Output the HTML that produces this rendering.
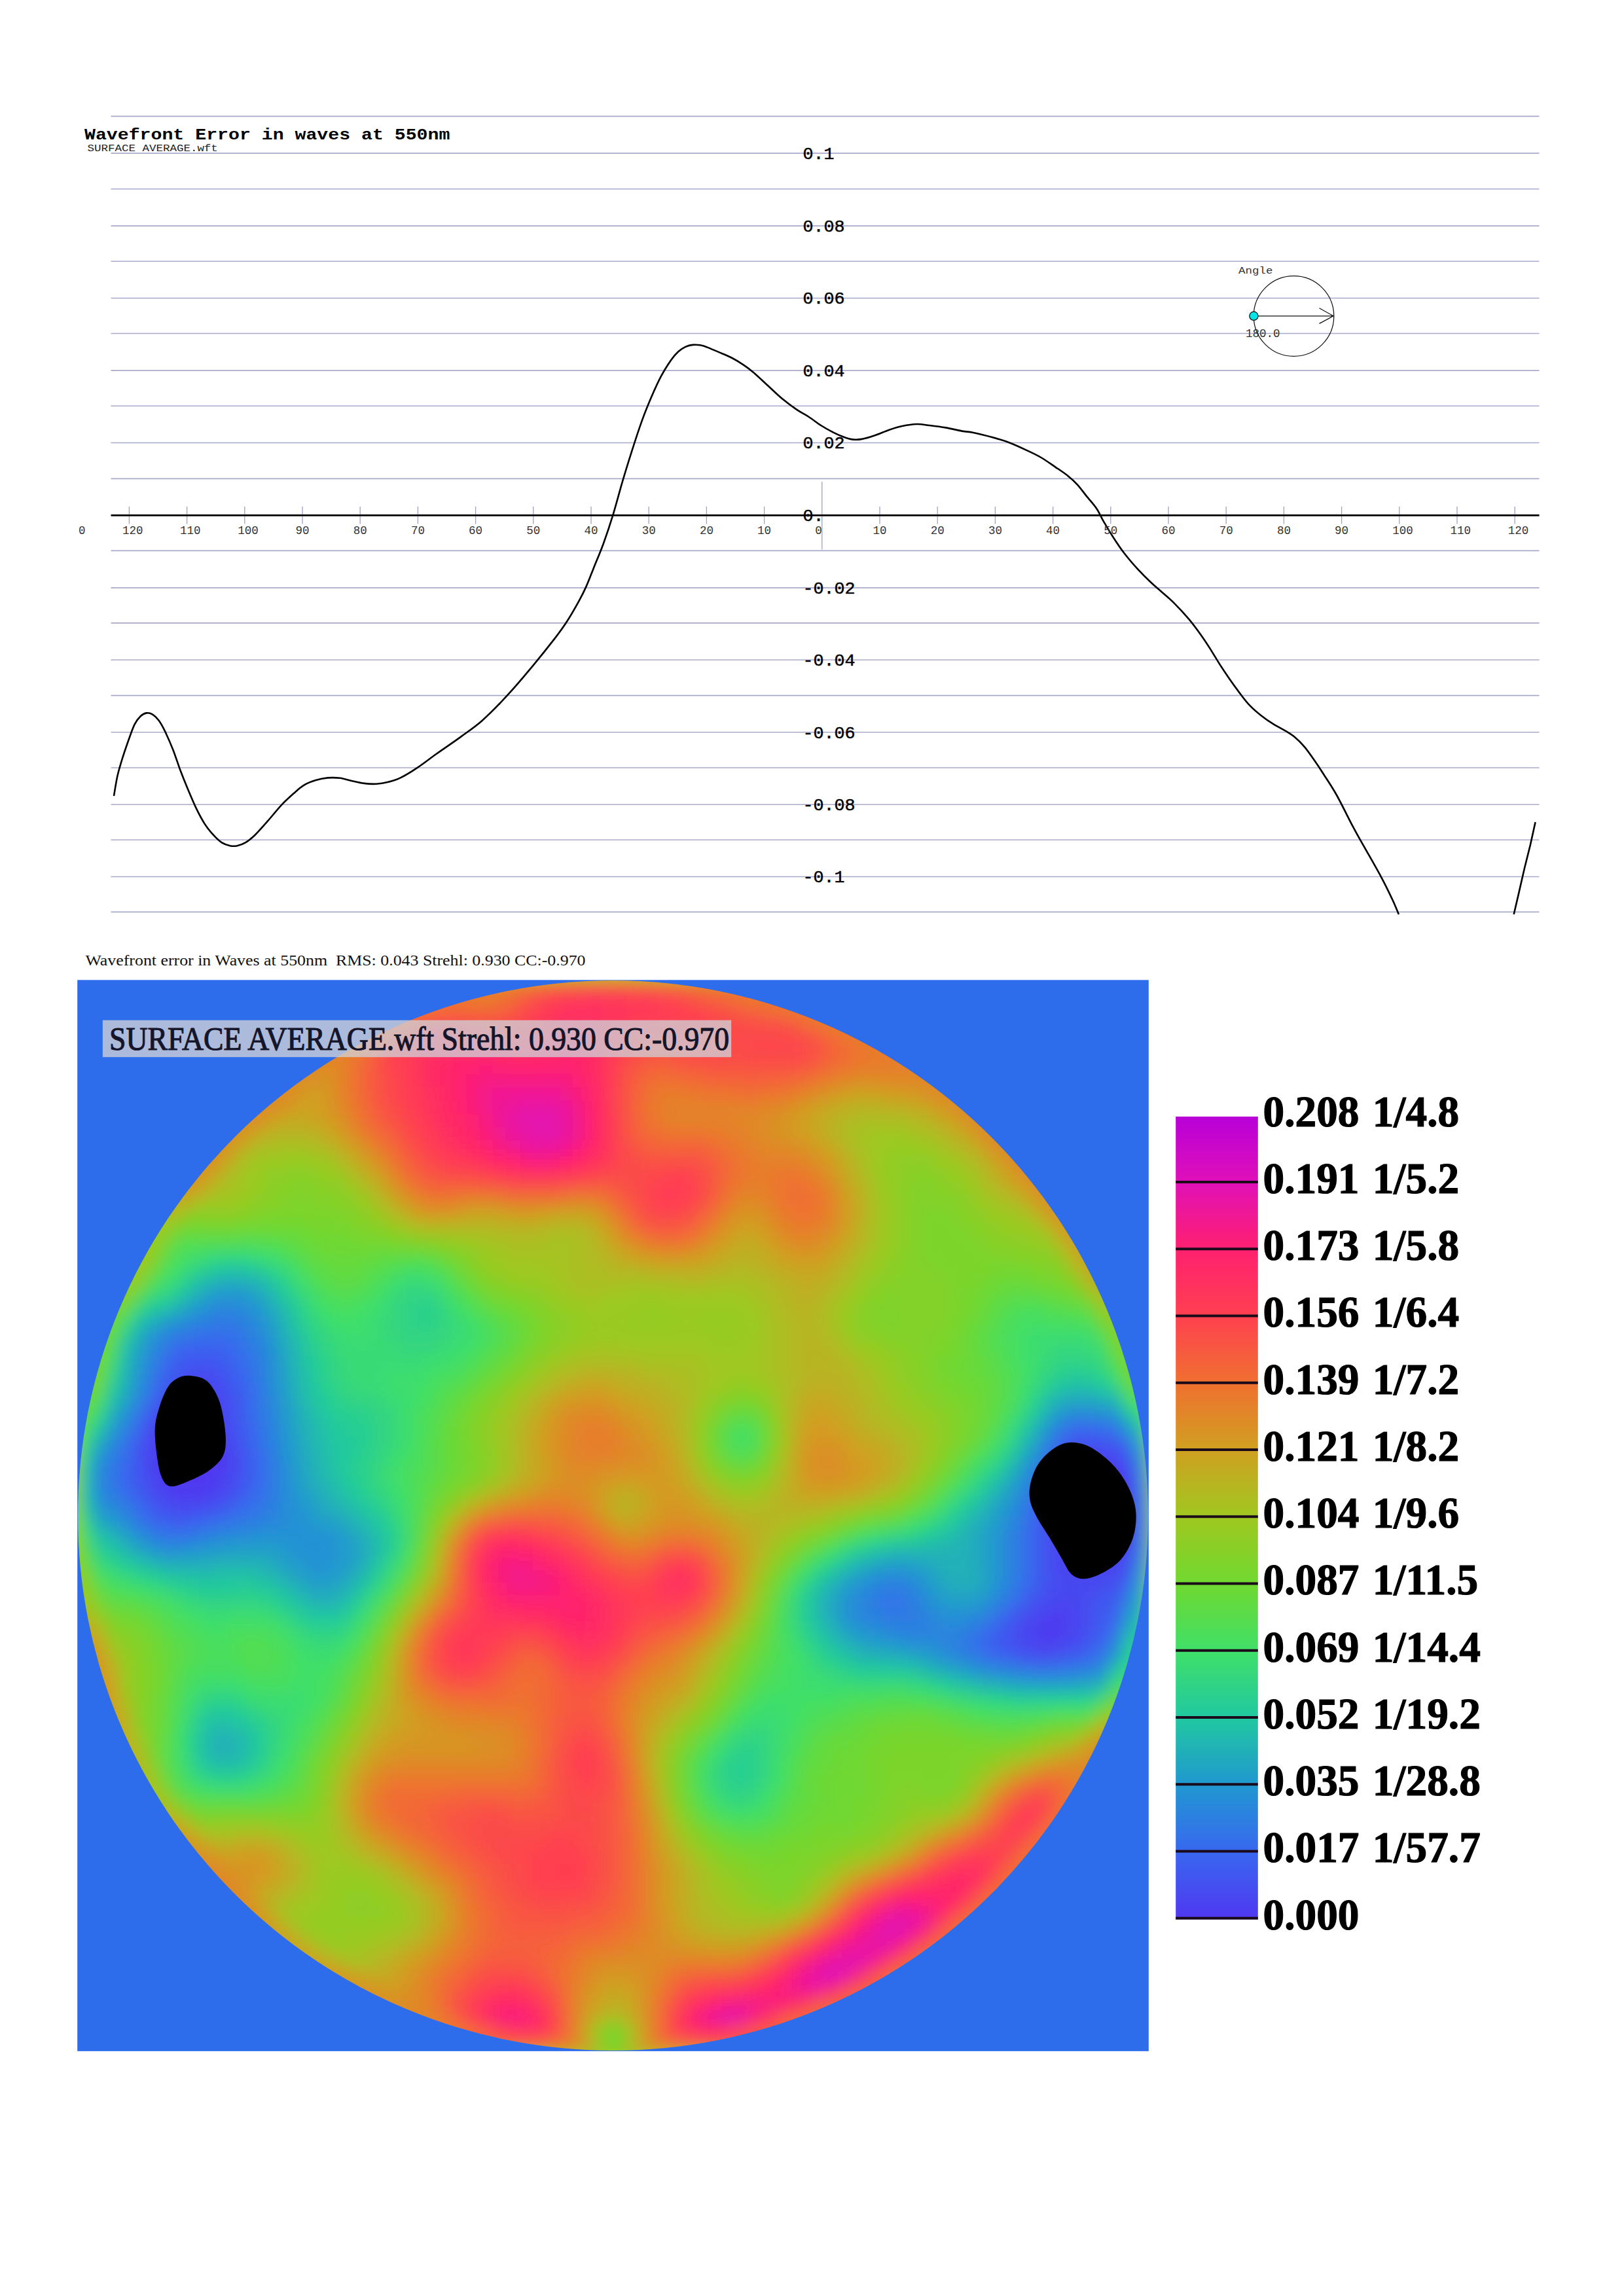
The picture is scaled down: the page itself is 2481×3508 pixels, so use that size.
<!DOCTYPE html>
<html><head><meta charset="utf-8"><title>Wavefront Error</title>
<style>html,body{margin:0;padding:0;background:#fff}svg{display:block}</style></head>
<body>
<svg width="2481" height="3508" viewBox="0 0 2481 3508">
<rect width="2481" height="3508" fill="#fff"/>
<g stroke="#a9a9cc" stroke-width="1.6" fill="none">
<path d="M169.5 177.6H2351.5"/>
<path d="M169.5 234.1H2351.5"/>
<path d="M169.5 288.8H2351.5"/>
<path d="M169.5 345.1H2351.5"/>
<path d="M169.5 399.2H2351.5"/>
<path d="M169.5 455.5H2351.5"/>
<path d="M169.5 509.5H2351.5"/>
<path d="M169.5 566.1H2351.5"/>
<path d="M169.5 620.2H2351.5"/>
<path d="M169.5 676.5H2351.5"/>
<path d="M169.5 731.4H2351.5"/>
<path d="M169.5 841.4H2351.5"/>
<path d="M169.5 898.1H2351.5"/>
<path d="M169.5 951.9H2351.5"/>
<path d="M169.5 1008.3H2351.5"/>
<path d="M169.5 1062.6H2351.5"/>
<path d="M169.5 1118.8H2351.5"/>
<path d="M169.5 1173.0H2351.5"/>
<path d="M169.5 1229.3H2351.5"/>
<path d="M169.5 1283.2H2351.5"/>
<path d="M169.5 1339.5H2351.5"/>
<path d="M169.5 1393.4H2351.5"/>
</g>
<g stroke="#a0a0c4" stroke-width="1.3" fill="none">
<path d="M197.4 774V800.5"/>
<path d="M285.6 774V800.5"/>
<path d="M373.8 774V800.5"/>
<path d="M462.0 774V800.5"/>
<path d="M550.2 774V800.5"/>
<path d="M638.4 774V800.5"/>
<path d="M726.6 774V800.5"/>
<path d="M814.8 774V800.5"/>
<path d="M903.0 774V800.5"/>
<path d="M991.2 774V800.5"/>
<path d="M1079.4 774V800.5"/>
<path d="M1167.6 774V800.5"/>
<path d="M1344.0 774V800.5"/>
<path d="M1432.2 774V800.5"/>
<path d="M1520.4 774V800.5"/>
<path d="M1608.6 774V800.5"/>
<path d="M1696.8 774V800.5"/>
<path d="M1785.0 774V800.5"/>
<path d="M1873.2 774V800.5"/>
<path d="M1961.4 774V800.5"/>
<path d="M2049.6 774V800.5"/>
<path d="M2137.8 774V800.5"/>
<path d="M2226.0 774V800.5"/>
<path d="M2314.2 774V800.5"/>
<path d="M1255.8 736V839.5"/>
</g>
<path d="M169.5 787.4H2351.5" stroke="#000" stroke-width="2.6" fill="none"/>
<path d="M174.0 1216.1C174.9 1210.9 177.4 1194.2 179.6 1184.7C181.8 1175.2 184.4 1166.9 186.9 1158.9C189.4 1150.9 191.2 1145.3 194.3 1136.7C197.4 1128.1 202.0 1114.2 205.4 1107.1C208.8 1100.0 211.6 1097.2 214.7 1094.2C217.8 1091.2 220.8 1089.8 223.9 1089.4C227.0 1089.0 230.0 1089.8 233.1 1091.6C236.2 1093.4 239.3 1096.4 242.4 1100.5C245.5 1104.6 247.9 1108.8 251.6 1116.4C255.3 1124.0 260.5 1135.8 264.5 1145.9C268.5 1156.1 271.9 1167.5 275.6 1177.3C279.3 1187.1 282.7 1195.5 286.7 1205.0C290.7 1214.5 295.3 1225.7 299.6 1234.6C303.9 1243.5 308.3 1251.8 312.6 1258.6C316.9 1265.4 321.2 1270.5 325.5 1275.2C329.8 1280.0 334.1 1284.3 338.4 1287.1C342.7 1289.9 347.4 1291.3 351.4 1292.2C355.4 1293.1 358.4 1293.1 362.4 1292.2C366.4 1291.3 370.8 1289.9 375.4 1287.1C380.0 1284.3 384.6 1280.6 390.1 1275.2C395.6 1269.8 401.8 1262.6 408.6 1254.9C415.4 1247.2 424.0 1236.3 430.8 1229.1C437.6 1221.9 443.8 1216.6 449.3 1211.7C454.8 1206.8 458.5 1203.2 464.0 1199.9C469.5 1196.6 476.3 1194.0 482.5 1192.1C488.7 1190.2 494.9 1189.0 501.0 1188.4C507.1 1187.9 513.2 1188.0 519.4 1188.8C525.5 1189.6 531.7 1191.8 537.9 1193.2C544.1 1194.6 550.2 1196.2 556.4 1196.9C562.6 1197.7 568.8 1198.1 574.9 1197.7C581.0 1197.3 587.1 1196.2 593.3 1194.7C599.4 1193.2 604.4 1192.0 611.8 1188.4C619.2 1184.8 628.5 1179.1 637.7 1172.9C646.9 1166.8 656.1 1159.4 667.2 1151.5C678.3 1143.6 692.6 1134.1 704.2 1125.6C715.8 1117.1 725.3 1111.0 736.9 1100.7C748.5 1090.4 761.6 1077.0 773.9 1063.7C786.2 1050.5 798.5 1036.0 810.8 1021.2C823.1 1006.4 838.5 987.1 847.8 975.1C857.0 963.1 860.1 958.8 866.3 949.2C872.4 939.7 879.8 926.7 884.7 917.8C889.6 908.9 892.1 903.9 895.8 895.6C899.5 887.3 902.6 878.7 906.9 867.9C911.2 857.1 916.8 844.5 921.7 831.0C926.6 817.5 931.6 802.6 936.5 786.6C941.4 770.6 946.3 751.5 951.2 734.9C956.1 718.3 961.1 702.3 966.0 686.9C970.9 671.5 975.9 656.1 980.8 642.6C985.7 629.1 990.7 617.0 995.6 605.6C1000.5 594.2 1005.4 583.4 1010.3 574.2C1015.2 565.0 1020.8 556.4 1025.1 550.2C1029.4 544.1 1032.5 540.7 1036.2 537.3C1039.9 533.9 1043.6 531.6 1047.3 529.9C1051.0 528.2 1054.7 527.3 1058.4 526.9C1062.1 526.5 1065.8 526.7 1069.5 527.3C1073.2 527.9 1075.6 528.8 1080.5 530.6C1085.4 532.5 1092.8 535.8 1099.0 538.4C1105.2 541.0 1111.3 543.3 1117.5 546.5C1123.7 549.7 1130.5 553.9 1136.0 557.6C1141.5 561.3 1144.5 563.5 1150.7 568.7C1156.9 573.9 1165.5 582.2 1172.9 589.0C1180.3 595.8 1187.7 603.1 1195.1 609.3C1202.5 615.4 1210.4 621.3 1217.2 625.9C1224.0 630.5 1229.5 633.0 1235.7 637.0C1241.9 641.0 1248.1 646.1 1254.2 650.0C1260.3 653.9 1266.9 657.5 1272.4 660.3C1277.9 663.1 1282.3 665.1 1287.2 667.0C1292.1 668.9 1297.1 670.8 1302.0 671.4C1306.9 672.0 1311.0 671.9 1316.7 670.9C1322.5 669.9 1329.5 667.7 1336.5 665.3C1343.5 662.9 1351.6 659.1 1358.6 656.7C1365.6 654.3 1371.3 652.5 1378.3 651.0C1385.3 649.5 1393.5 648.2 1400.5 648.0C1407.5 647.8 1412.8 649.1 1420.2 650.0C1427.6 650.9 1436.6 652.0 1444.8 653.4C1453.0 654.8 1462.5 657.3 1469.5 658.6C1476.5 659.9 1479.1 659.4 1486.9 661.0C1494.7 662.6 1507.2 665.7 1516.5 668.3C1525.8 670.9 1533.8 673.2 1542.4 676.5C1551.0 679.8 1560.2 684.1 1568.2 687.9C1576.2 691.6 1583.0 694.7 1590.4 699.0C1597.8 703.3 1605.8 709.2 1612.6 713.8C1619.4 718.4 1625.5 722.3 1631.0 726.7C1636.5 731.1 1640.9 735.0 1645.8 740.4C1650.7 745.8 1655.7 752.8 1660.6 758.9C1665.5 765.0 1671.1 770.8 1675.4 777.3C1679.7 783.8 1682.2 790.3 1686.5 797.7C1690.8 805.1 1696.0 813.7 1701.2 821.7C1706.4 829.7 1711.7 837.7 1717.9 845.7C1724.1 853.7 1731.8 862.6 1738.2 869.7C1744.7 876.8 1750.4 882.4 1756.6 888.2C1762.8 894.1 1768.9 899.3 1775.1 904.8C1781.3 910.3 1786.8 914.6 1793.6 921.4C1800.4 928.2 1809.0 937.4 1815.8 945.4C1822.6 953.4 1828.7 961.8 1834.2 969.5C1839.7 977.2 1844.1 983.9 1849.0 991.6C1853.9 999.3 1858.9 1007.9 1863.8 1015.6C1868.7 1023.3 1873.7 1030.7 1878.6 1037.8C1883.5 1044.9 1888.4 1051.6 1893.3 1058.1C1898.2 1064.6 1902.5 1070.8 1908.1 1076.6C1913.6 1082.4 1920.4 1088.3 1926.6 1093.2C1932.8 1098.1 1938.9 1102.3 1945.1 1106.2C1951.2 1110.1 1958.0 1113.1 1963.5 1116.5C1969.0 1119.9 1973.4 1122.4 1978.3 1126.5C1983.2 1130.6 1988.2 1135.5 1993.1 1141.3C1998.0 1147.1 2003.0 1154.5 2007.9 1161.6C2012.8 1168.7 2016.8 1174.7 2022.6 1183.7C2028.3 1192.7 2035.0 1202.2 2042.4 1215.5C2049.8 1228.8 2060.3 1250.6 2067.0 1263.2C2073.7 1275.8 2075.2 1278.1 2082.4 1290.9C2089.6 1303.7 2102.7 1326.2 2110.1 1340.1C2117.5 1353.9 2122.5 1364.5 2127.0 1374.0C2131.5 1383.5 2135.2 1393.2 2136.9 1397.1" stroke="#000" stroke-width="2.6" fill="none" stroke-linejoin="round"/>
<path d="M2312.7 1397.0 L2319.5 1367.9 L2328.7 1327.8 L2337.9 1290.9 L2345.6 1256.1" stroke="#000" stroke-width="2.6" fill="none" stroke-linejoin="round"/>
<text transform="translate(129 212.6) scale(1 0.86)" font-family="Liberation Mono, monospace" font-size="28.2" font-weight="bold">Wavefront Error in waves at 550nm</text>
<text transform="translate(133.5 230.8) scale(1 0.88)" font-family="Liberation Mono, monospace" font-size="17.5" fill="#222">SURFACE AVERAGE.wft</text>
<g font-family="Liberation Mono, monospace" font-size="26.7" stroke="#000" stroke-width="0.5">
<text x="1226.5" y="242.9">0.1</text>
<text x="1226.5" y="353.9">0.08</text>
<text x="1226.5" y="464.3">0.06</text>
<text x="1226.5" y="574.9">0.04</text>
<text x="1226.5" y="685.3">0.02</text>
<text x="1226.5" y="796.2">0.</text>
<text x="1226.5" y="906.9">-0.02</text>
<text x="1226.5" y="1017.1">-0.04</text>
<text x="1226.5" y="1127.6">-0.06</text>
<text x="1226.5" y="1238.1">-0.08</text>
<text x="1226.5" y="1348.3">-0.1</text>
</g>
<g font-family="Liberation Mono, monospace" font-size="17.5" fill="#333">
<text x="186.9" y="815.5">120</text>
<text x="275.1" y="815.5">110</text>
<text x="363.3" y="815.5">100</text>
<text x="451.5" y="815.5">90</text>
<text x="539.7" y="815.5">80</text>
<text x="627.9" y="815.5">70</text>
<text x="716.1" y="815.5">60</text>
<text x="804.3" y="815.5">50</text>
<text x="892.5" y="815.5">40</text>
<text x="980.7" y="815.5">30</text>
<text x="1068.9" y="815.5">20</text>
<text x="1157.1" y="815.5">10</text>
<text x="1245.3" y="815.5">0</text>
<text x="1333.5" y="815.5">10</text>
<text x="1421.7" y="815.5">20</text>
<text x="1509.9" y="815.5">30</text>
<text x="1598.1" y="815.5">40</text>
<text x="1686.3" y="815.5">50</text>
<text x="1774.5" y="815.5">60</text>
<text x="1862.7" y="815.5">70</text>
<text x="1950.9" y="815.5">80</text>
<text x="2039.1" y="815.5">90</text>
<text x="2127.3" y="815.5">100</text>
<text x="2215.5" y="815.5">110</text>
<text x="2303.7" y="815.5">120</text>
<text x="120" y="815.5">0</text>
<text transform="translate(1892 417.8) scale(1 0.88)">Angle</text>
<text x="1903" y="515">180.0</text>
</g>
<g stroke="#111" stroke-width="1.25" fill="none">
<circle cx="1976.5" cy="483" r="61.3"/>
<path d="M1915.4 482.8H2037M2015.5 470.8L2037 482.8L2015.5 494.4"/>
<circle cx="1915.4" cy="482.8" r="6.6" fill="#00e6e6"/>
</g>
<text x="130.5" y="1475.2" font-family="Liberation Serif, serif" font-size="24" fill="#111" textLength="764" lengthAdjust="spacingAndGlyphs" style="white-space:pre">Wavefront error in Waves at 550nm  RMS: 0.043 Strehl: 0.930 CC:-0.970</text>
<rect x="118.2" y="1497.3" width="1636.6" height="1636.6" fill="#2d6deb"/>
<defs><clipPath id="cc"><circle cx="936.5" cy="2315.5" r="817.5"/></clipPath>
<filter id="bl" x="-5%" y="-5%" width="110%" height="110%"><feGaussianBlur stdDeviation="12"/></filter></defs>
<g clip-path="url(#cc)"><g filter="url(#bl)">
<rect x="58.2" y="1437.3" width="1756.6" height="1756.6" fill="#a0c820"/>
<path fill="#5038f0" d="M261.4 2151.9h21.1v21.1h-21.1zM281.9 2151.9h21.1v21.1h-21.1zM302.3 2151.9h21.1v21.1h-21.1zM240.9 2172.4h21.1v21.1h-21.1zM261.4 2172.4h21.1v21.1h-21.1zM281.9 2172.4h21.1v21.1h-21.1zM302.3 2172.4h21.1v21.1h-21.1zM240.9 2192.9h21.1v21.1h-21.1zM261.4 2192.9h21.1v21.1h-21.1zM281.9 2192.9h21.1v21.1h-21.1zM302.3 2192.9h21.1v21.1h-21.1zM240.9 2213.3h21.1v21.1h-21.1zM261.4 2213.3h21.1v21.1h-21.1zM281.9 2213.3h21.1v21.1h-21.1zM302.3 2213.3h21.1v21.1h-21.1zM322.8 2213.3h21.1v21.1h-21.1zM240.9 2233.8h21.1v21.1h-21.1zM261.4 2233.8h21.1v21.1h-21.1zM281.9 2233.8h21.1v21.1h-21.1zM302.3 2233.8h21.1v21.1h-21.1zM322.8 2233.8h21.1v21.1h-21.1zM1652.5 2233.8h21.1v21.1h-21.1zM1673.0 2233.8h21.1v21.1h-21.1zM240.9 2254.2h21.1v21.1h-21.1zM261.4 2254.2h21.1v21.1h-21.1zM281.9 2254.2h21.1v21.1h-21.1zM302.3 2254.2h21.1v21.1h-21.1zM1632.1 2254.2h21.1v21.1h-21.1zM1652.5 2254.2h21.1v21.1h-21.1zM1673.0 2254.2h21.1v21.1h-21.1zM1693.4 2254.2h21.1v21.1h-21.1zM1632.1 2274.7h21.1v21.1h-21.1zM1652.5 2274.7h21.1v21.1h-21.1zM1673.0 2274.7h21.1v21.1h-21.1zM1693.4 2274.7h21.1v21.1h-21.1zM1713.9 2274.7h21.1v21.1h-21.1zM1632.1 2295.1h21.1v21.1h-21.1zM1652.5 2295.1h21.1v21.1h-21.1zM1673.0 2295.1h21.1v21.1h-21.1zM1693.4 2295.1h21.1v21.1h-21.1zM1713.9 2295.1h21.1v21.1h-21.1zM1632.1 2315.6h21.1v21.1h-21.1zM1652.5 2315.6h21.1v21.1h-21.1zM1673.0 2315.6h21.1v21.1h-21.1zM1693.4 2315.6h21.1v21.1h-21.1zM1713.9 2315.6h21.1v21.1h-21.1zM1632.1 2336.1h21.1v21.1h-21.1zM1652.5 2336.1h21.1v21.1h-21.1zM1673.0 2336.1h21.1v21.1h-21.1zM1693.4 2336.1h21.1v21.1h-21.1zM1713.9 2336.1h21.1v21.1h-21.1zM1632.1 2356.5h21.1v21.1h-21.1zM1652.5 2356.5h21.1v21.1h-21.1zM1673.0 2356.5h21.1v21.1h-21.1zM1693.4 2356.5h21.1v21.1h-21.1zM1591.1 2479.3h21.1v21.1h-21.1z"/>
<path fill="#4d3ef0" d="M261.4 2131.5h21.1v21.1h-21.1zM281.9 2131.5h21.1v21.1h-21.1zM302.3 2131.5h21.1v21.1h-21.1zM322.8 2172.4h21.1v21.1h-21.1zM322.8 2192.9h21.1v21.1h-21.1zM220.5 2213.3h21.1v21.1h-21.1zM1632.1 2233.8h21.1v21.1h-21.1zM1693.4 2233.8h21.1v21.1h-21.1zM322.8 2254.2h21.1v21.1h-21.1zM1713.9 2254.2h21.1v21.1h-21.1zM261.4 2274.7h21.1v21.1h-21.1zM281.9 2274.7h21.1v21.1h-21.1zM302.3 2274.7h21.1v21.1h-21.1zM1611.6 2295.1h21.1v21.1h-21.1zM1611.6 2315.6h21.1v21.1h-21.1zM1611.6 2336.1h21.1v21.1h-21.1zM1632.1 2377.0h21.1v21.1h-21.1zM1652.5 2377.0h21.1v21.1h-21.1zM1673.0 2377.0h21.1v21.1h-21.1zM1591.1 2458.8h21.1v21.1h-21.1zM1611.6 2458.8h21.1v21.1h-21.1zM1570.7 2479.3h21.1v21.1h-21.1zM1611.6 2479.3h21.1v21.1h-21.1zM1591.1 2499.7h21.1v21.1h-21.1z"/>
<path fill="#4a44f0" d="M281.9 2111.0h21.1v21.1h-21.1zM302.3 2111.0h21.1v21.1h-21.1zM322.8 2131.5h21.1v21.1h-21.1zM240.9 2151.9h21.1v21.1h-21.1zM322.8 2151.9h21.1v21.1h-21.1zM220.5 2192.9h21.1v21.1h-21.1zM343.2 2213.3h21.1v21.1h-21.1zM1632.1 2213.3h21.1v21.1h-21.1zM1652.5 2213.3h21.1v21.1h-21.1zM1673.0 2213.3h21.1v21.1h-21.1zM220.5 2233.8h21.1v21.1h-21.1zM343.2 2233.8h21.1v21.1h-21.1zM1611.6 2254.2h21.1v21.1h-21.1zM240.9 2274.7h21.1v21.1h-21.1zM322.8 2274.7h21.1v21.1h-21.1zM1611.6 2274.7h21.1v21.1h-21.1zM1611.6 2356.5h21.1v21.1h-21.1zM1713.9 2356.5h21.1v21.1h-21.1zM1611.6 2377.0h21.1v21.1h-21.1zM1693.4 2377.0h21.1v21.1h-21.1zM1632.1 2397.4h21.1v21.1h-21.1zM1652.5 2397.4h21.1v21.1h-21.1zM1611.6 2438.3h21.1v21.1h-21.1zM1632.1 2438.3h21.1v21.1h-21.1zM1632.1 2458.8h21.1v21.1h-21.1zM1632.1 2479.3h21.1v21.1h-21.1zM1570.7 2499.7h21.1v21.1h-21.1zM1611.6 2499.7h21.1v21.1h-21.1z"/>
<path fill="#474af0" d="M281.9 2090.6h21.1v21.1h-21.1zM302.3 2090.6h21.1v21.1h-21.1zM261.4 2111.0h21.1v21.1h-21.1zM322.8 2111.0h21.1v21.1h-21.1zM220.5 2172.4h21.1v21.1h-21.1zM343.2 2192.9h21.1v21.1h-21.1zM1693.4 2213.3h21.1v21.1h-21.1zM1611.6 2233.8h21.1v21.1h-21.1zM1713.9 2233.8h21.1v21.1h-21.1zM220.5 2254.2h21.1v21.1h-21.1zM343.2 2254.2h21.1v21.1h-21.1zM261.4 2295.1h21.1v21.1h-21.1zM281.9 2295.1h21.1v21.1h-21.1zM1611.6 2397.4h21.1v21.1h-21.1zM1673.0 2397.4h21.1v21.1h-21.1zM1693.4 2397.4h21.1v21.1h-21.1zM1611.6 2417.9h21.1v21.1h-21.1zM1632.1 2417.9h21.1v21.1h-21.1zM1652.5 2417.9h21.1v21.1h-21.1zM1591.1 2438.3h21.1v21.1h-21.1zM1570.7 2458.8h21.1v21.1h-21.1zM1550.2 2479.3h21.1v21.1h-21.1zM1550.2 2499.7h21.1v21.1h-21.1zM1632.1 2499.7h21.1v21.1h-21.1z"/>
<path fill="#4450f0" d="M322.8 2090.6h21.1v21.1h-21.1zM240.9 2131.5h21.1v21.1h-21.1zM343.2 2131.5h21.1v21.1h-21.1zM343.2 2151.9h21.1v21.1h-21.1zM343.2 2172.4h21.1v21.1h-21.1zM1652.5 2192.9h21.1v21.1h-21.1zM220.5 2274.7h21.1v21.1h-21.1zM343.2 2274.7h21.1v21.1h-21.1zM240.9 2295.1h21.1v21.1h-21.1zM302.3 2295.1h21.1v21.1h-21.1zM1591.1 2295.1h21.1v21.1h-21.1zM1591.1 2315.6h21.1v21.1h-21.1zM1591.1 2336.1h21.1v21.1h-21.1zM1591.1 2356.5h21.1v21.1h-21.1zM1591.1 2377.0h21.1v21.1h-21.1zM1713.9 2377.0h21.1v21.1h-21.1zM1591.1 2397.4h21.1v21.1h-21.1zM1591.1 2417.9h21.1v21.1h-21.1zM1673.0 2417.9h21.1v21.1h-21.1zM1570.7 2438.3h21.1v21.1h-21.1zM1652.5 2438.3h21.1v21.1h-21.1zM1550.2 2458.8h21.1v21.1h-21.1zM1652.5 2458.8h21.1v21.1h-21.1zM1652.5 2479.3h21.1v21.1h-21.1zM1529.8 2499.7h21.1v21.1h-21.1zM1570.7 2520.2h21.1v21.1h-21.1zM1591.1 2520.2h21.1v21.1h-21.1z"/>
<path fill="#4156f0" d="M281.9 2070.1h21.1v21.1h-21.1zM302.3 2070.1h21.1v21.1h-21.1zM322.8 2070.1h21.1v21.1h-21.1zM261.4 2090.6h21.1v21.1h-21.1zM343.2 2111.0h21.1v21.1h-21.1zM220.5 2151.9h21.1v21.1h-21.1zM1632.1 2192.9h21.1v21.1h-21.1zM1673.0 2192.9h21.1v21.1h-21.1zM200.0 2213.3h21.1v21.1h-21.1zM363.7 2213.3h21.1v21.1h-21.1zM1611.6 2213.3h21.1v21.1h-21.1zM200.0 2233.8h21.1v21.1h-21.1zM363.7 2233.8h21.1v21.1h-21.1zM200.0 2254.2h21.1v21.1h-21.1zM363.7 2254.2h21.1v21.1h-21.1zM1591.1 2274.7h21.1v21.1h-21.1zM322.8 2295.1h21.1v21.1h-21.1zM1693.4 2417.9h21.1v21.1h-21.1zM1673.0 2438.3h21.1v21.1h-21.1zM1529.8 2479.3h21.1v21.1h-21.1zM1652.5 2499.7h21.1v21.1h-21.1zM1550.2 2520.2h21.1v21.1h-21.1zM1611.6 2520.2h21.1v21.1h-21.1z"/>
<path fill="#3e5cf0" d="M261.4 2070.1h21.1v21.1h-21.1zM343.2 2090.6h21.1v21.1h-21.1zM240.9 2111.0h21.1v21.1h-21.1zM363.7 2172.4h21.1v21.1h-21.1zM200.0 2192.9h21.1v21.1h-21.1zM363.7 2192.9h21.1v21.1h-21.1zM1693.4 2192.9h21.1v21.1h-21.1zM1713.9 2213.3h21.1v21.1h-21.1zM1591.1 2254.2h21.1v21.1h-21.1zM220.5 2295.1h21.1v21.1h-21.1zM261.4 2315.6h21.1v21.1h-21.1zM1713.9 2397.4h21.1v21.1h-21.1zM1570.7 2417.9h21.1v21.1h-21.1zM1693.4 2438.3h21.1v21.1h-21.1zM1673.0 2458.8h21.1v21.1h-21.1zM1673.0 2479.3h21.1v21.1h-21.1zM1509.3 2499.7h21.1v21.1h-21.1zM1632.1 2520.2h21.1v21.1h-21.1z"/>
<path fill="#3b62f0" d="M281.9 2049.7h21.1v21.1h-21.1zM302.3 2049.7h21.1v21.1h-21.1zM322.8 2049.7h21.1v21.1h-21.1zM343.2 2070.1h21.1v21.1h-21.1zM240.9 2090.6h21.1v21.1h-21.1zM363.7 2111.0h21.1v21.1h-21.1zM363.7 2131.5h21.1v21.1h-21.1zM363.7 2151.9h21.1v21.1h-21.1zM1611.6 2192.9h21.1v21.1h-21.1zM1591.1 2233.8h21.1v21.1h-21.1zM200.0 2274.7h21.1v21.1h-21.1zM363.7 2274.7h21.1v21.1h-21.1zM343.2 2295.1h21.1v21.1h-21.1zM240.9 2315.6h21.1v21.1h-21.1zM281.9 2315.6h21.1v21.1h-21.1zM1570.7 2315.6h21.1v21.1h-21.1zM1570.7 2336.1h21.1v21.1h-21.1zM1570.7 2356.5h21.1v21.1h-21.1zM1570.7 2377.0h21.1v21.1h-21.1zM1570.7 2397.4h21.1v21.1h-21.1zM1550.2 2438.3h21.1v21.1h-21.1zM1529.8 2458.8h21.1v21.1h-21.1zM1693.4 2458.8h21.1v21.1h-21.1zM1509.3 2479.3h21.1v21.1h-21.1zM1529.8 2520.2h21.1v21.1h-21.1z"/>
<path fill="#3868f0" d="M261.4 2049.7h21.1v21.1h-21.1zM343.2 2049.7h21.1v21.1h-21.1zM363.7 2090.6h21.1v21.1h-21.1zM220.5 2131.5h21.1v21.1h-21.1zM200.0 2172.4h21.1v21.1h-21.1zM1632.1 2172.4h21.1v21.1h-21.1zM1652.5 2172.4h21.1v21.1h-21.1zM384.1 2213.3h21.1v21.1h-21.1zM179.6 2233.8h21.1v21.1h-21.1zM384.1 2233.8h21.1v21.1h-21.1zM179.6 2254.2h21.1v21.1h-21.1zM384.1 2254.2h21.1v21.1h-21.1zM1570.7 2295.1h21.1v21.1h-21.1zM220.5 2315.6h21.1v21.1h-21.1zM302.3 2315.6h21.1v21.1h-21.1zM1488.9 2499.7h21.1v21.1h-21.1zM1673.0 2499.7h21.1v21.1h-21.1zM1509.3 2520.2h21.1v21.1h-21.1zM1652.5 2520.2h21.1v21.1h-21.1z"/>
<path fill="#356eec" d="M302.3 2029.2h21.1v21.1h-21.1zM322.8 2029.2h21.1v21.1h-21.1zM343.2 2029.2h21.1v21.1h-21.1zM240.9 2070.1h21.1v21.1h-21.1zM363.7 2070.1h21.1v21.1h-21.1zM384.1 2172.4h21.1v21.1h-21.1zM1673.0 2172.4h21.1v21.1h-21.1zM384.1 2192.9h21.1v21.1h-21.1zM179.6 2213.3h21.1v21.1h-21.1zM1591.1 2213.3h21.1v21.1h-21.1zM179.6 2274.7h21.1v21.1h-21.1zM384.1 2274.7h21.1v21.1h-21.1zM1570.7 2274.7h21.1v21.1h-21.1zM200.0 2295.1h21.1v21.1h-21.1zM363.7 2295.1h21.1v21.1h-21.1zM322.8 2315.6h21.1v21.1h-21.1zM1550.2 2417.9h21.1v21.1h-21.1zM1713.9 2417.9h21.1v21.1h-21.1zM1693.4 2479.3h21.1v21.1h-21.1z"/>
<path fill="#3274e8" d="M281.9 2029.2h21.1v21.1h-21.1zM363.7 2049.7h21.1v21.1h-21.1zM220.5 2111.0h21.1v21.1h-21.1zM384.1 2111.0h21.1v21.1h-21.1zM384.1 2131.5h21.1v21.1h-21.1zM200.0 2151.9h21.1v21.1h-21.1zM384.1 2151.9h21.1v21.1h-21.1zM1693.4 2172.4h21.1v21.1h-21.1zM179.6 2192.9h21.1v21.1h-21.1zM1713.9 2192.9h21.1v21.1h-21.1zM1570.7 2254.2h21.1v21.1h-21.1zM384.1 2295.1h21.1v21.1h-21.1zM343.2 2315.6h21.1v21.1h-21.1zM240.9 2336.1h21.1v21.1h-21.1zM261.4 2336.1h21.1v21.1h-21.1zM281.9 2336.1h21.1v21.1h-21.1zM1550.2 2336.1h21.1v21.1h-21.1zM1550.2 2356.5h21.1v21.1h-21.1zM1550.2 2377.0h21.1v21.1h-21.1zM1550.2 2397.4h21.1v21.1h-21.1zM1345.7 2438.3h21.1v21.1h-21.1zM1366.1 2438.3h21.1v21.1h-21.1zM1529.8 2438.3h21.1v21.1h-21.1zM1509.3 2458.8h21.1v21.1h-21.1zM1488.9 2479.3h21.1v21.1h-21.1zM1468.4 2499.7h21.1v21.1h-21.1zM1488.9 2520.2h21.1v21.1h-21.1zM1673.0 2520.2h21.1v21.1h-21.1zM1570.7 2540.6h21.1v21.1h-21.1zM1591.1 2540.6h21.1v21.1h-21.1zM1611.6 2540.6h21.1v21.1h-21.1z"/>
<path fill="#2f7ae4" d="M322.8 2008.7h21.1v21.1h-21.1zM343.2 2008.7h21.1v21.1h-21.1zM261.4 2029.2h21.1v21.1h-21.1zM363.7 2029.2h21.1v21.1h-21.1zM240.9 2049.7h21.1v21.1h-21.1zM384.1 2070.1h21.1v21.1h-21.1zM220.5 2090.6h21.1v21.1h-21.1zM384.1 2090.6h21.1v21.1h-21.1zM1611.6 2172.4h21.1v21.1h-21.1zM404.6 2213.3h21.1v21.1h-21.1zM159.1 2233.8h21.1v21.1h-21.1zM404.6 2233.8h21.1v21.1h-21.1zM159.1 2254.2h21.1v21.1h-21.1zM404.6 2254.2h21.1v21.1h-21.1zM404.6 2274.7h21.1v21.1h-21.1zM1734.3 2295.1h21.1v21.1h-21.1zM200.0 2315.6h21.1v21.1h-21.1zM363.7 2315.6h21.1v21.1h-21.1zM1550.2 2315.6h21.1v21.1h-21.1zM1734.3 2315.6h21.1v21.1h-21.1zM1345.7 2417.9h21.1v21.1h-21.1zM1366.1 2417.9h21.1v21.1h-21.1zM1325.2 2438.3h21.1v21.1h-21.1zM1345.7 2458.8h21.1v21.1h-21.1zM1366.1 2458.8h21.1v21.1h-21.1zM1386.6 2458.8h21.1v21.1h-21.1zM1550.2 2540.6h21.1v21.1h-21.1zM1632.1 2540.6h21.1v21.1h-21.1z"/>
<path fill="#2c80e0" d="M302.3 2008.7h21.1v21.1h-21.1zM363.7 2008.7h21.1v21.1h-21.1zM384.1 2049.7h21.1v21.1h-21.1zM404.6 2172.4h21.1v21.1h-21.1zM404.6 2192.9h21.1v21.1h-21.1zM1591.1 2192.9h21.1v21.1h-21.1zM159.1 2213.3h21.1v21.1h-21.1zM1570.7 2233.8h21.1v21.1h-21.1zM159.1 2274.7h21.1v21.1h-21.1zM1734.3 2274.7h21.1v21.1h-21.1zM179.6 2295.1h21.1v21.1h-21.1zM404.6 2295.1h21.1v21.1h-21.1zM1550.2 2295.1h21.1v21.1h-21.1zM384.1 2315.6h21.1v21.1h-21.1zM220.5 2336.1h21.1v21.1h-21.1zM302.3 2336.1h21.1v21.1h-21.1zM1734.3 2336.1h21.1v21.1h-21.1zM1325.2 2417.9h21.1v21.1h-21.1zM1529.8 2417.9h21.1v21.1h-21.1zM1386.6 2438.3h21.1v21.1h-21.1zM1325.2 2458.8h21.1v21.1h-21.1zM1366.1 2479.3h21.1v21.1h-21.1zM1386.6 2479.3h21.1v21.1h-21.1zM1407.0 2479.3h21.1v21.1h-21.1zM1468.4 2479.3h21.1v21.1h-21.1zM1447.9 2499.7h21.1v21.1h-21.1zM1693.4 2499.7h21.1v21.1h-21.1zM1468.4 2520.2h21.1v21.1h-21.1zM1529.8 2540.6h21.1v21.1h-21.1zM1652.5 2540.6h21.1v21.1h-21.1z"/>
<path fill="#2986dc" d="M322.8 1988.3h21.1v21.1h-21.1zM343.2 1988.3h21.1v21.1h-21.1zM281.9 2008.7h21.1v21.1h-21.1zM240.9 2029.2h21.1v21.1h-21.1zM384.1 2029.2h21.1v21.1h-21.1zM220.5 2070.1h21.1v21.1h-21.1zM200.0 2131.5h21.1v21.1h-21.1zM404.6 2131.5h21.1v21.1h-21.1zM404.6 2151.9h21.1v21.1h-21.1zM1632.1 2151.9h21.1v21.1h-21.1zM1652.5 2151.9h21.1v21.1h-21.1zM179.6 2172.4h21.1v21.1h-21.1zM138.7 2254.2h21.1v21.1h-21.1zM1734.3 2254.2h21.1v21.1h-21.1zM1550.2 2274.7h21.1v21.1h-21.1zM404.6 2315.6h21.1v21.1h-21.1zM322.8 2336.1h21.1v21.1h-21.1zM1529.8 2336.1h21.1v21.1h-21.1zM1529.8 2356.5h21.1v21.1h-21.1zM1734.3 2356.5h21.1v21.1h-21.1zM1529.8 2377.0h21.1v21.1h-21.1zM1529.8 2397.4h21.1v21.1h-21.1zM1386.6 2417.9h21.1v21.1h-21.1zM1304.7 2438.3h21.1v21.1h-21.1zM1509.3 2438.3h21.1v21.1h-21.1zM1713.9 2438.3h21.1v21.1h-21.1zM1304.7 2458.8h21.1v21.1h-21.1zM1407.0 2458.8h21.1v21.1h-21.1zM1488.9 2458.8h21.1v21.1h-21.1zM1345.7 2479.3h21.1v21.1h-21.1zM1427.5 2479.3h21.1v21.1h-21.1zM1447.9 2479.3h21.1v21.1h-21.1zM1427.5 2499.7h21.1v21.1h-21.1zM1447.9 2520.2h21.1v21.1h-21.1zM1509.3 2540.6h21.1v21.1h-21.1z"/>
<path fill="#268cd8" d="M363.7 1988.3h21.1v21.1h-21.1zM384.1 2008.7h21.1v21.1h-21.1zM220.5 2049.7h21.1v21.1h-21.1zM404.6 2070.1h21.1v21.1h-21.1zM404.6 2090.6h21.1v21.1h-21.1zM404.6 2111.0h21.1v21.1h-21.1zM1673.0 2151.9h21.1v21.1h-21.1zM159.1 2192.9h21.1v21.1h-21.1zM138.7 2233.8h21.1v21.1h-21.1zM425.1 2233.8h21.1v21.1h-21.1zM425.1 2254.2h21.1v21.1h-21.1zM138.7 2274.7h21.1v21.1h-21.1zM425.1 2274.7h21.1v21.1h-21.1zM159.1 2295.1h21.1v21.1h-21.1zM425.1 2295.1h21.1v21.1h-21.1zM179.6 2315.6h21.1v21.1h-21.1zM425.1 2315.6h21.1v21.1h-21.1zM1529.8 2315.6h21.1v21.1h-21.1zM343.2 2336.1h21.1v21.1h-21.1zM363.7 2336.1h21.1v21.1h-21.1zM240.9 2356.5h21.1v21.1h-21.1zM261.4 2356.5h21.1v21.1h-21.1zM1345.7 2397.4h21.1v21.1h-21.1zM1366.1 2397.4h21.1v21.1h-21.1zM1304.7 2417.9h21.1v21.1h-21.1zM1407.0 2438.3h21.1v21.1h-21.1zM1427.5 2458.8h21.1v21.1h-21.1zM1468.4 2458.8h21.1v21.1h-21.1zM1325.2 2479.3h21.1v21.1h-21.1zM1386.6 2499.7h21.1v21.1h-21.1zM1407.0 2499.7h21.1v21.1h-21.1zM1488.9 2540.6h21.1v21.1h-21.1zM1673.0 2540.6h21.1v21.1h-21.1z"/>
<path fill="#2392d4" d="M302.3 1988.3h21.1v21.1h-21.1zM261.4 2008.7h21.1v21.1h-21.1zM404.6 2049.7h21.1v21.1h-21.1zM200.0 2111.0h21.1v21.1h-21.1zM179.6 2151.9h21.1v21.1h-21.1zM1611.6 2151.9h21.1v21.1h-21.1zM1693.4 2151.9h21.1v21.1h-21.1zM1591.1 2172.4h21.1v21.1h-21.1zM425.1 2192.9h21.1v21.1h-21.1zM425.1 2213.3h21.1v21.1h-21.1zM1570.7 2213.3h21.1v21.1h-21.1zM1734.3 2233.8h21.1v21.1h-21.1zM1550.2 2254.2h21.1v21.1h-21.1zM445.5 2295.1h21.1v21.1h-21.1zM1529.8 2295.1h21.1v21.1h-21.1zM445.5 2315.6h21.1v21.1h-21.1zM200.0 2336.1h21.1v21.1h-21.1zM384.1 2336.1h21.1v21.1h-21.1zM404.6 2336.1h21.1v21.1h-21.1zM425.1 2336.1h21.1v21.1h-21.1zM445.5 2336.1h21.1v21.1h-21.1zM466.0 2336.1h21.1v21.1h-21.1zM486.4 2336.1h21.1v21.1h-21.1zM281.9 2356.5h21.1v21.1h-21.1zM445.5 2356.5h21.1v21.1h-21.1zM466.0 2356.5h21.1v21.1h-21.1zM486.4 2356.5h21.1v21.1h-21.1zM466.0 2377.0h21.1v21.1h-21.1zM486.4 2377.0h21.1v21.1h-21.1zM1734.3 2377.0h21.1v21.1h-21.1zM1325.2 2397.4h21.1v21.1h-21.1zM1386.6 2397.4h21.1v21.1h-21.1zM1407.0 2417.9h21.1v21.1h-21.1zM1509.3 2417.9h21.1v21.1h-21.1zM1284.3 2438.3h21.1v21.1h-21.1zM1284.3 2458.8h21.1v21.1h-21.1zM1447.9 2458.8h21.1v21.1h-21.1zM1304.7 2479.3h21.1v21.1h-21.1zM1366.1 2499.7h21.1v21.1h-21.1zM1427.5 2520.2h21.1v21.1h-21.1z"/>
<path fill="#2098d0" d="M322.8 1967.8h21.1v21.1h-21.1zM343.2 1967.8h21.1v21.1h-21.1zM363.7 1967.8h21.1v21.1h-21.1zM384.1 1988.3h21.1v21.1h-21.1zM220.5 2029.2h21.1v21.1h-21.1zM404.6 2029.2h21.1v21.1h-21.1zM200.0 2090.6h21.1v21.1h-21.1zM425.1 2151.9h21.1v21.1h-21.1zM425.1 2172.4h21.1v21.1h-21.1zM1713.9 2172.4h21.1v21.1h-21.1zM138.7 2213.3h21.1v21.1h-21.1zM445.5 2274.7h21.1v21.1h-21.1zM138.7 2295.1h21.1v21.1h-21.1zM466.0 2315.6h21.1v21.1h-21.1zM506.9 2336.1h21.1v21.1h-21.1zM1509.3 2336.1h21.1v21.1h-21.1zM220.5 2356.5h21.1v21.1h-21.1zM302.3 2356.5h21.1v21.1h-21.1zM322.8 2356.5h21.1v21.1h-21.1zM425.1 2356.5h21.1v21.1h-21.1zM506.9 2356.5h21.1v21.1h-21.1zM1509.3 2356.5h21.1v21.1h-21.1zM445.5 2377.0h21.1v21.1h-21.1zM506.9 2377.0h21.1v21.1h-21.1zM1509.3 2377.0h21.1v21.1h-21.1zM466.0 2397.4h21.1v21.1h-21.1zM486.4 2397.4h21.1v21.1h-21.1zM1509.3 2397.4h21.1v21.1h-21.1zM1284.3 2417.9h21.1v21.1h-21.1zM1427.5 2438.3h21.1v21.1h-21.1zM1488.9 2438.3h21.1v21.1h-21.1zM1713.9 2458.8h21.1v21.1h-21.1zM1345.7 2499.7h21.1v21.1h-21.1zM1693.4 2520.2h21.1v21.1h-21.1zM1468.4 2540.6h21.1v21.1h-21.1zM1591.1 2561.1h21.1v21.1h-21.1z"/>
<path fill="#209eca" d="M281.9 1988.3h21.1v21.1h-21.1zM240.9 2008.7h21.1v21.1h-21.1zM404.6 2008.7h21.1v21.1h-21.1zM200.0 2070.1h21.1v21.1h-21.1zM425.1 2111.0h21.1v21.1h-21.1zM425.1 2131.5h21.1v21.1h-21.1zM159.1 2172.4h21.1v21.1h-21.1zM1734.3 2213.3h21.1v21.1h-21.1zM445.5 2233.8h21.1v21.1h-21.1zM1550.2 2233.8h21.1v21.1h-21.1zM445.5 2254.2h21.1v21.1h-21.1zM1529.8 2274.7h21.1v21.1h-21.1zM466.0 2295.1h21.1v21.1h-21.1zM159.1 2315.6h21.1v21.1h-21.1zM486.4 2315.6h21.1v21.1h-21.1zM1509.3 2315.6h21.1v21.1h-21.1zM343.2 2356.5h21.1v21.1h-21.1zM363.7 2356.5h21.1v21.1h-21.1zM384.1 2356.5h21.1v21.1h-21.1zM404.6 2356.5h21.1v21.1h-21.1zM527.4 2356.5h21.1v21.1h-21.1zM425.1 2377.0h21.1v21.1h-21.1zM527.4 2377.0h21.1v21.1h-21.1zM1366.1 2377.0h21.1v21.1h-21.1zM506.9 2397.4h21.1v21.1h-21.1zM1304.7 2397.4h21.1v21.1h-21.1zM1407.0 2397.4h21.1v21.1h-21.1zM1447.9 2438.3h21.1v21.1h-21.1zM1468.4 2438.3h21.1v21.1h-21.1zM1284.3 2479.3h21.1v21.1h-21.1zM1325.2 2499.7h21.1v21.1h-21.1zM1407.0 2520.2h21.1v21.1h-21.1zM1550.2 2561.1h21.1v21.1h-21.1zM1570.7 2561.1h21.1v21.1h-21.1zM1611.6 2561.1h21.1v21.1h-21.1zM1632.1 2561.1h21.1v21.1h-21.1z"/>
<path fill="#20a4c4" d="M302.3 1967.8h21.1v21.1h-21.1zM384.1 1967.8h21.1v21.1h-21.1zM200.0 2049.7h21.1v21.1h-21.1zM425.1 2070.1h21.1v21.1h-21.1zM425.1 2090.6h21.1v21.1h-21.1zM179.6 2131.5h21.1v21.1h-21.1zM1632.1 2131.5h21.1v21.1h-21.1zM1652.5 2131.5h21.1v21.1h-21.1zM445.5 2192.9h21.1v21.1h-21.1zM1570.7 2192.9h21.1v21.1h-21.1zM445.5 2213.3h21.1v21.1h-21.1zM466.0 2274.7h21.1v21.1h-21.1zM1509.3 2295.1h21.1v21.1h-21.1zM506.9 2315.6h21.1v21.1h-21.1zM179.6 2336.1h21.1v21.1h-21.1zM527.4 2336.1h21.1v21.1h-21.1zM1488.9 2336.1h21.1v21.1h-21.1zM200.0 2356.5h21.1v21.1h-21.1zM1488.9 2356.5h21.1v21.1h-21.1zM1345.7 2377.0h21.1v21.1h-21.1zM1386.6 2377.0h21.1v21.1h-21.1zM1488.9 2377.0h21.1v21.1h-21.1zM445.5 2397.4h21.1v21.1h-21.1zM1734.3 2397.4h21.1v21.1h-21.1zM466.0 2417.9h21.1v21.1h-21.1zM486.4 2417.9h21.1v21.1h-21.1zM1427.5 2417.9h21.1v21.1h-21.1zM1488.9 2417.9h21.1v21.1h-21.1zM1263.8 2438.3h21.1v21.1h-21.1zM1263.8 2458.8h21.1v21.1h-21.1zM1304.7 2499.7h21.1v21.1h-21.1zM1386.6 2520.2h21.1v21.1h-21.1zM1447.9 2540.6h21.1v21.1h-21.1zM1529.8 2561.1h21.1v21.1h-21.1zM1652.5 2561.1h21.1v21.1h-21.1z"/>
<path fill="#20aabe" d="M343.2 1947.4h21.1v21.1h-21.1zM404.6 1988.3h21.1v21.1h-21.1zM425.1 2049.7h21.1v21.1h-21.1zM1611.6 2131.5h21.1v21.1h-21.1zM1673.0 2131.5h21.1v21.1h-21.1zM445.5 2151.9h21.1v21.1h-21.1zM1591.1 2151.9h21.1v21.1h-21.1zM445.5 2172.4h21.1v21.1h-21.1zM466.0 2254.2h21.1v21.1h-21.1zM1529.8 2254.2h21.1v21.1h-21.1zM486.4 2295.1h21.1v21.1h-21.1zM138.7 2315.6h21.1v21.1h-21.1zM1488.9 2315.6h21.1v21.1h-21.1zM547.8 2356.5h21.1v21.1h-21.1zM240.9 2377.0h21.1v21.1h-21.1zM261.4 2377.0h21.1v21.1h-21.1zM281.9 2377.0h21.1v21.1h-21.1zM302.3 2377.0h21.1v21.1h-21.1zM404.6 2377.0h21.1v21.1h-21.1zM1325.2 2377.0h21.1v21.1h-21.1zM1407.0 2377.0h21.1v21.1h-21.1zM425.1 2397.4h21.1v21.1h-21.1zM527.4 2397.4h21.1v21.1h-21.1zM1284.3 2397.4h21.1v21.1h-21.1zM1427.5 2397.4h21.1v21.1h-21.1zM1488.9 2397.4h21.1v21.1h-21.1zM506.9 2417.9h21.1v21.1h-21.1zM1263.8 2417.9h21.1v21.1h-21.1zM1447.9 2417.9h21.1v21.1h-21.1zM1468.4 2417.9h21.1v21.1h-21.1zM1366.1 2520.2h21.1v21.1h-21.1zM1427.5 2540.6h21.1v21.1h-21.1zM1509.3 2561.1h21.1v21.1h-21.1zM1673.0 2561.1h21.1v21.1h-21.1z"/>
<path fill="#20b0b8" d="M322.8 1947.4h21.1v21.1h-21.1zM363.7 1947.4h21.1v21.1h-21.1zM261.4 1988.3h21.1v21.1h-21.1zM220.5 2008.7h21.1v21.1h-21.1zM200.0 2029.2h21.1v21.1h-21.1zM425.1 2029.2h21.1v21.1h-21.1zM179.6 2111.0h21.1v21.1h-21.1zM445.5 2131.5h21.1v21.1h-21.1zM1693.4 2131.5h21.1v21.1h-21.1zM159.1 2151.9h21.1v21.1h-21.1zM138.7 2192.9h21.1v21.1h-21.1zM466.0 2213.3h21.1v21.1h-21.1zM1550.2 2213.3h21.1v21.1h-21.1zM466.0 2233.8h21.1v21.1h-21.1zM486.4 2274.7h21.1v21.1h-21.1zM1509.3 2274.7h21.1v21.1h-21.1zM506.9 2295.1h21.1v21.1h-21.1zM527.4 2315.6h21.1v21.1h-21.1zM547.8 2336.1h21.1v21.1h-21.1zM1468.4 2336.1h21.1v21.1h-21.1zM1447.9 2356.5h21.1v21.1h-21.1zM1468.4 2356.5h21.1v21.1h-21.1zM322.8 2377.0h21.1v21.1h-21.1zM343.2 2377.0h21.1v21.1h-21.1zM363.7 2377.0h21.1v21.1h-21.1zM384.1 2377.0h21.1v21.1h-21.1zM547.8 2377.0h21.1v21.1h-21.1zM1427.5 2377.0h21.1v21.1h-21.1zM1447.9 2377.0h21.1v21.1h-21.1zM1468.4 2377.0h21.1v21.1h-21.1zM1447.9 2397.4h21.1v21.1h-21.1zM1468.4 2397.4h21.1v21.1h-21.1zM445.5 2417.9h21.1v21.1h-21.1zM1734.3 2417.9h21.1v21.1h-21.1zM486.4 2438.3h21.1v21.1h-21.1zM1263.8 2479.3h21.1v21.1h-21.1zM1713.9 2479.3h21.1v21.1h-21.1zM1284.3 2499.7h21.1v21.1h-21.1zM1325.2 2520.2h21.1v21.1h-21.1zM1345.7 2520.2h21.1v21.1h-21.1zM1488.9 2561.1h21.1v21.1h-21.1zM322.8 2642.9h21.1v21.1h-21.1zM322.8 2663.4h21.1v21.1h-21.1zM343.2 2663.4h21.1v21.1h-21.1z"/>
<path fill="#20b6b2" d="M384.1 1947.4h21.1v21.1h-21.1zM281.9 1967.8h21.1v21.1h-21.1zM404.6 1967.8h21.1v21.1h-21.1zM425.1 2008.7h21.1v21.1h-21.1zM179.6 2090.6h21.1v21.1h-21.1zM445.5 2090.6h21.1v21.1h-21.1zM445.5 2111.0h21.1v21.1h-21.1zM466.0 2172.4h21.1v21.1h-21.1zM1570.7 2172.4h21.1v21.1h-21.1zM466.0 2192.9h21.1v21.1h-21.1zM1734.3 2192.9h21.1v21.1h-21.1zM486.4 2254.2h21.1v21.1h-21.1zM1488.9 2295.1h21.1v21.1h-21.1zM1468.4 2315.6h21.1v21.1h-21.1zM159.1 2336.1h21.1v21.1h-21.1zM179.6 2356.5h21.1v21.1h-21.1zM1407.0 2356.5h21.1v21.1h-21.1zM1427.5 2356.5h21.1v21.1h-21.1zM220.5 2377.0h21.1v21.1h-21.1zM1304.7 2377.0h21.1v21.1h-21.1zM404.6 2397.4h21.1v21.1h-21.1zM527.4 2417.9h21.1v21.1h-21.1zM466.0 2438.3h21.1v21.1h-21.1zM506.9 2438.3h21.1v21.1h-21.1zM1243.4 2438.3h21.1v21.1h-21.1zM1734.3 2438.3h21.1v21.1h-21.1zM1243.4 2458.8h21.1v21.1h-21.1zM1304.7 2520.2h21.1v21.1h-21.1zM1407.0 2540.6h21.1v21.1h-21.1zM343.2 2642.9h21.1v21.1h-21.1z"/>
<path fill="#20bcac" d="M302.3 1947.4h21.1v21.1h-21.1zM425.1 1988.3h21.1v21.1h-21.1zM445.5 2049.7h21.1v21.1h-21.1zM179.6 2070.1h21.1v21.1h-21.1zM445.5 2070.1h21.1v21.1h-21.1zM1632.1 2111.0h21.1v21.1h-21.1zM1652.5 2111.0h21.1v21.1h-21.1zM1591.1 2131.5h21.1v21.1h-21.1zM466.0 2151.9h21.1v21.1h-21.1zM486.4 2213.3h21.1v21.1h-21.1zM486.4 2233.8h21.1v21.1h-21.1zM1529.8 2233.8h21.1v21.1h-21.1zM506.9 2274.7h21.1v21.1h-21.1zM527.4 2295.1h21.1v21.1h-21.1zM547.8 2315.6h21.1v21.1h-21.1zM1447.9 2336.1h21.1v21.1h-21.1zM568.3 2356.5h21.1v21.1h-21.1zM1366.1 2356.5h21.1v21.1h-21.1zM1386.6 2356.5h21.1v21.1h-21.1zM302.3 2397.4h21.1v21.1h-21.1zM384.1 2397.4h21.1v21.1h-21.1zM547.8 2397.4h21.1v21.1h-21.1zM1263.8 2397.4h21.1v21.1h-21.1zM425.1 2417.9h21.1v21.1h-21.1zM1243.4 2417.9h21.1v21.1h-21.1zM1263.8 2499.7h21.1v21.1h-21.1zM1468.4 2561.1h21.1v21.1h-21.1zM322.8 2622.5h21.1v21.1h-21.1zM363.7 2642.9h21.1v21.1h-21.1zM302.3 2663.4h21.1v21.1h-21.1zM363.7 2663.4h21.1v21.1h-21.1zM322.8 2683.8h21.1v21.1h-21.1zM343.2 2683.8h21.1v21.1h-21.1z"/>
<path fill="#20c2a6" d="M240.9 1988.3h21.1v21.1h-21.1zM200.0 2008.7h21.1v21.1h-21.1zM445.5 2029.2h21.1v21.1h-21.1zM179.6 2049.7h21.1v21.1h-21.1zM1611.6 2111.0h21.1v21.1h-21.1zM159.1 2131.5h21.1v21.1h-21.1zM466.0 2131.5h21.1v21.1h-21.1zM1713.9 2151.9h21.1v21.1h-21.1zM486.4 2172.4h21.1v21.1h-21.1zM486.4 2192.9h21.1v21.1h-21.1zM1550.2 2192.9h21.1v21.1h-21.1zM506.9 2254.2h21.1v21.1h-21.1zM1509.3 2254.2h21.1v21.1h-21.1zM138.7 2336.1h21.1v21.1h-21.1zM568.3 2336.1h21.1v21.1h-21.1zM1427.5 2336.1h21.1v21.1h-21.1zM1345.7 2356.5h21.1v21.1h-21.1zM200.0 2377.0h21.1v21.1h-21.1zM1284.3 2377.0h21.1v21.1h-21.1zM261.4 2397.4h21.1v21.1h-21.1zM281.9 2397.4h21.1v21.1h-21.1zM322.8 2397.4h21.1v21.1h-21.1zM343.2 2397.4h21.1v21.1h-21.1zM363.7 2397.4h21.1v21.1h-21.1zM445.5 2438.3h21.1v21.1h-21.1zM1734.3 2458.8h21.1v21.1h-21.1zM1243.4 2479.3h21.1v21.1h-21.1zM1284.3 2520.2h21.1v21.1h-21.1zM1386.6 2540.6h21.1v21.1h-21.1zM1693.4 2540.6h21.1v21.1h-21.1zM1447.9 2561.1h21.1v21.1h-21.1zM343.2 2622.5h21.1v21.1h-21.1zM302.3 2642.9h21.1v21.1h-21.1zM363.7 2683.8h21.1v21.1h-21.1z"/>
<path fill="#20c8a0" d="M343.2 1926.9h21.1v21.1h-21.1zM363.7 1926.9h21.1v21.1h-21.1zM404.6 1947.4h21.1v21.1h-21.1zM466.0 2090.6h21.1v21.1h-21.1zM466.0 2111.0h21.1v21.1h-21.1zM1673.0 2111.0h21.1v21.1h-21.1zM486.4 2151.9h21.1v21.1h-21.1zM1570.7 2151.9h21.1v21.1h-21.1zM506.9 2192.9h21.1v21.1h-21.1zM506.9 2213.3h21.1v21.1h-21.1zM506.9 2233.8h21.1v21.1h-21.1zM527.4 2274.7h21.1v21.1h-21.1zM1488.9 2274.7h21.1v21.1h-21.1zM547.8 2295.1h21.1v21.1h-21.1zM1468.4 2295.1h21.1v21.1h-21.1zM568.3 2315.6h21.1v21.1h-21.1zM1447.9 2315.6h21.1v21.1h-21.1zM159.1 2356.5h21.1v21.1h-21.1zM1325.2 2356.5h21.1v21.1h-21.1zM568.3 2377.0h21.1v21.1h-21.1zM240.9 2397.4h21.1v21.1h-21.1zM404.6 2417.9h21.1v21.1h-21.1zM527.4 2438.3h21.1v21.1h-21.1zM466.0 2458.8h21.1v21.1h-21.1zM486.4 2458.8h21.1v21.1h-21.1zM506.9 2458.8h21.1v21.1h-21.1zM1734.3 2479.3h21.1v21.1h-21.1zM1713.9 2499.7h21.1v21.1h-21.1zM1345.7 2540.6h21.1v21.1h-21.1zM1366.1 2540.6h21.1v21.1h-21.1zM1550.2 2581.5h21.1v21.1h-21.1zM1570.7 2581.5h21.1v21.1h-21.1zM1591.1 2581.5h21.1v21.1h-21.1zM1611.6 2581.5h21.1v21.1h-21.1zM1632.1 2581.5h21.1v21.1h-21.1zM302.3 2622.5h21.1v21.1h-21.1zM363.7 2622.5h21.1v21.1h-21.1zM302.3 2683.8h21.1v21.1h-21.1z"/>
<path fill="#24cb99" d="M322.8 1926.9h21.1v21.1h-21.1zM281.9 1947.4h21.1v21.1h-21.1zM261.4 1967.8h21.1v21.1h-21.1zM425.1 1967.8h21.1v21.1h-21.1zM220.5 1988.3h21.1v21.1h-21.1zM445.5 2008.7h21.1v21.1h-21.1zM466.0 2070.1h21.1v21.1h-21.1zM1632.1 2090.6h21.1v21.1h-21.1zM486.4 2131.5h21.1v21.1h-21.1zM138.7 2172.4h21.1v21.1h-21.1zM506.9 2172.4h21.1v21.1h-21.1zM1734.3 2172.4h21.1v21.1h-21.1zM527.4 2192.9h21.1v21.1h-21.1zM527.4 2213.3h21.1v21.1h-21.1zM118.2 2254.2h21.1v21.1h-21.1zM527.4 2254.2h21.1v21.1h-21.1zM118.2 2274.7h21.1v21.1h-21.1zM1407.0 2336.1h21.1v21.1h-21.1zM179.6 2377.0h21.1v21.1h-21.1zM1243.4 2397.4h21.1v21.1h-21.1zM302.3 2417.9h21.1v21.1h-21.1zM322.8 2417.9h21.1v21.1h-21.1zM343.2 2417.9h21.1v21.1h-21.1zM384.1 2417.9h21.1v21.1h-21.1zM547.8 2417.9h21.1v21.1h-21.1zM425.1 2438.3h21.1v21.1h-21.1zM1222.9 2438.3h21.1v21.1h-21.1zM1222.9 2458.8h21.1v21.1h-21.1zM1243.4 2499.7h21.1v21.1h-21.1zM1263.8 2520.2h21.1v21.1h-21.1zM1304.7 2540.6h21.1v21.1h-21.1zM1325.2 2540.6h21.1v21.1h-21.1zM1427.5 2561.1h21.1v21.1h-21.1zM1529.8 2581.5h21.1v21.1h-21.1zM1652.5 2581.5h21.1v21.1h-21.1zM322.8 2602.0h21.1v21.1h-21.1zM343.2 2602.0h21.1v21.1h-21.1zM384.1 2642.9h21.1v21.1h-21.1zM384.1 2663.4h21.1v21.1h-21.1z"/>
<path fill="#28ce92" d="M384.1 1926.9h21.1v21.1h-21.1zM445.5 1988.3h21.1v21.1h-21.1zM466.0 2049.7h21.1v21.1h-21.1zM1611.6 2090.6h21.1v21.1h-21.1zM1652.5 2090.6h21.1v21.1h-21.1zM159.1 2111.0h21.1v21.1h-21.1zM486.4 2111.0h21.1v21.1h-21.1zM1591.1 2111.0h21.1v21.1h-21.1zM1693.4 2111.0h21.1v21.1h-21.1zM506.9 2151.9h21.1v21.1h-21.1zM527.4 2151.9h21.1v21.1h-21.1zM527.4 2172.4h21.1v21.1h-21.1zM547.8 2172.4h21.1v21.1h-21.1zM1550.2 2172.4h21.1v21.1h-21.1zM547.8 2192.9h21.1v21.1h-21.1zM1529.8 2213.3h21.1v21.1h-21.1zM118.2 2233.8h21.1v21.1h-21.1zM527.4 2233.8h21.1v21.1h-21.1zM547.8 2274.7h21.1v21.1h-21.1zM568.3 2295.1h21.1v21.1h-21.1zM588.7 2336.1h21.1v21.1h-21.1zM138.7 2356.5h21.1v21.1h-21.1zM588.7 2356.5h21.1v21.1h-21.1zM1304.7 2356.5h21.1v21.1h-21.1zM220.5 2397.4h21.1v21.1h-21.1zM568.3 2397.4h21.1v21.1h-21.1zM281.9 2417.9h21.1v21.1h-21.1zM363.7 2417.9h21.1v21.1h-21.1zM1222.9 2417.9h21.1v21.1h-21.1zM445.5 2458.8h21.1v21.1h-21.1zM1222.9 2479.3h21.1v21.1h-21.1zM1734.3 2499.7h21.1v21.1h-21.1zM1284.3 2540.6h21.1v21.1h-21.1zM1509.3 2581.5h21.1v21.1h-21.1zM302.3 2602.0h21.1v21.1h-21.1zM384.1 2622.5h21.1v21.1h-21.1zM384.1 2683.8h21.1v21.1h-21.1zM1120.6 2683.8h21.1v21.1h-21.1zM322.8 2704.3h21.1v21.1h-21.1zM343.2 2704.3h21.1v21.1h-21.1zM1120.6 2704.3h21.1v21.1h-21.1z"/>
<path fill="#2cd18b" d="M302.3 1926.9h21.1v21.1h-21.1zM425.1 1947.4h21.1v21.1h-21.1zM629.6 1988.3h21.1v21.1h-21.1zM650.1 1988.3h21.1v21.1h-21.1zM629.6 2008.7h21.1v21.1h-21.1zM650.1 2008.7h21.1v21.1h-21.1zM179.6 2029.2h21.1v21.1h-21.1zM466.0 2029.2h21.1v21.1h-21.1zM486.4 2070.1h21.1v21.1h-21.1zM486.4 2090.6h21.1v21.1h-21.1zM1673.0 2090.6h21.1v21.1h-21.1zM506.9 2131.5h21.1v21.1h-21.1zM1570.7 2131.5h21.1v21.1h-21.1zM547.8 2151.9h21.1v21.1h-21.1zM547.8 2213.3h21.1v21.1h-21.1zM547.8 2233.8h21.1v21.1h-21.1zM1509.3 2233.8h21.1v21.1h-21.1zM547.8 2254.2h21.1v21.1h-21.1zM1488.9 2254.2h21.1v21.1h-21.1zM1468.4 2274.7h21.1v21.1h-21.1zM118.2 2295.1h21.1v21.1h-21.1zM1447.9 2295.1h21.1v21.1h-21.1zM588.7 2315.6h21.1v21.1h-21.1zM1427.5 2315.6h21.1v21.1h-21.1zM1386.6 2336.1h21.1v21.1h-21.1zM159.1 2377.0h21.1v21.1h-21.1zM1263.8 2377.0h21.1v21.1h-21.1zM200.0 2397.4h21.1v21.1h-21.1zM261.4 2417.9h21.1v21.1h-21.1zM404.6 2438.3h21.1v21.1h-21.1zM527.4 2458.8h21.1v21.1h-21.1zM466.0 2479.3h21.1v21.1h-21.1zM486.4 2479.3h21.1v21.1h-21.1zM506.9 2479.3h21.1v21.1h-21.1zM1243.4 2520.2h21.1v21.1h-21.1zM1713.9 2520.2h21.1v21.1h-21.1zM1734.3 2520.2h21.1v21.1h-21.1zM1407.0 2561.1h21.1v21.1h-21.1zM1488.9 2581.5h21.1v21.1h-21.1zM363.7 2602.0h21.1v21.1h-21.1zM281.9 2642.9h21.1v21.1h-21.1zM281.9 2663.4h21.1v21.1h-21.1zM1120.6 2663.4h21.1v21.1h-21.1zM1141.1 2663.4h21.1v21.1h-21.1zM1100.2 2683.8h21.1v21.1h-21.1zM1141.1 2683.8h21.1v21.1h-21.1zM302.3 2704.3h21.1v21.1h-21.1zM363.7 2704.3h21.1v21.1h-21.1zM1100.2 2704.3h21.1v21.1h-21.1zM1141.1 2704.3h21.1v21.1h-21.1zM1120.6 2724.8h21.1v21.1h-21.1z"/>
<path fill="#30d484" d="M404.6 1926.9h21.1v21.1h-21.1zM240.9 1967.8h21.1v21.1h-21.1zM445.5 1967.8h21.1v21.1h-21.1zM609.2 1967.8h21.1v21.1h-21.1zM629.6 1967.8h21.1v21.1h-21.1zM650.1 1967.8h21.1v21.1h-21.1zM609.2 1988.3h21.1v21.1h-21.1zM466.0 2008.7h21.1v21.1h-21.1zM609.2 2008.7h21.1v21.1h-21.1zM609.2 2029.2h21.1v21.1h-21.1zM629.6 2029.2h21.1v21.1h-21.1zM650.1 2029.2h21.1v21.1h-21.1zM486.4 2049.7h21.1v21.1h-21.1zM1611.6 2070.1h21.1v21.1h-21.1zM1632.1 2070.1h21.1v21.1h-21.1zM1652.5 2070.1h21.1v21.1h-21.1zM1591.1 2090.6h21.1v21.1h-21.1zM506.9 2111.0h21.1v21.1h-21.1zM527.4 2131.5h21.1v21.1h-21.1zM547.8 2131.5h21.1v21.1h-21.1zM568.3 2151.9h21.1v21.1h-21.1zM568.3 2172.4h21.1v21.1h-21.1zM568.3 2192.9h21.1v21.1h-21.1zM118.2 2213.3h21.1v21.1h-21.1zM568.3 2213.3h21.1v21.1h-21.1zM568.3 2274.7h21.1v21.1h-21.1zM1366.1 2336.1h21.1v21.1h-21.1zM588.7 2377.0h21.1v21.1h-21.1zM302.3 2438.3h21.1v21.1h-21.1zM322.8 2438.3h21.1v21.1h-21.1zM343.2 2438.3h21.1v21.1h-21.1zM363.7 2438.3h21.1v21.1h-21.1zM384.1 2438.3h21.1v21.1h-21.1zM547.8 2438.3h21.1v21.1h-21.1zM425.1 2458.8h21.1v21.1h-21.1zM1222.9 2499.7h21.1v21.1h-21.1zM1263.8 2540.6h21.1v21.1h-21.1zM1386.6 2561.1h21.1v21.1h-21.1zM322.8 2581.5h21.1v21.1h-21.1zM343.2 2581.5h21.1v21.1h-21.1zM1468.4 2581.5h21.1v21.1h-21.1zM1673.0 2581.5h21.1v21.1h-21.1zM281.9 2622.5h21.1v21.1h-21.1zM404.6 2622.5h21.1v21.1h-21.1zM404.6 2642.9h21.1v21.1h-21.1zM1141.1 2642.9h21.1v21.1h-21.1zM404.6 2663.4h21.1v21.1h-21.1zM281.9 2683.8h21.1v21.1h-21.1zM1100.2 2724.8h21.1v21.1h-21.1zM1141.1 2724.8h21.1v21.1h-21.1z"/>
<path fill="#34d77d" d="M281.9 1926.9h21.1v21.1h-21.1zM261.4 1947.4h21.1v21.1h-21.1zM200.0 1988.3h21.1v21.1h-21.1zM588.7 1988.3h21.1v21.1h-21.1zM670.6 1988.3h21.1v21.1h-21.1zM588.7 2008.7h21.1v21.1h-21.1zM670.6 2008.7h21.1v21.1h-21.1zM486.4 2029.2h21.1v21.1h-21.1zM588.7 2029.2h21.1v21.1h-21.1zM670.6 2029.2h21.1v21.1h-21.1zM609.2 2049.7h21.1v21.1h-21.1zM629.6 2049.7h21.1v21.1h-21.1zM650.1 2049.7h21.1v21.1h-21.1zM1611.6 2049.7h21.1v21.1h-21.1zM1632.1 2049.7h21.1v21.1h-21.1zM506.9 2070.1h21.1v21.1h-21.1zM1591.1 2070.1h21.1v21.1h-21.1zM1673.0 2070.1h21.1v21.1h-21.1zM159.1 2090.6h21.1v21.1h-21.1zM506.9 2090.6h21.1v21.1h-21.1zM527.4 2111.0h21.1v21.1h-21.1zM1570.7 2111.0h21.1v21.1h-21.1zM568.3 2131.5h21.1v21.1h-21.1zM588.7 2151.9h21.1v21.1h-21.1zM1550.2 2151.9h21.1v21.1h-21.1zM588.7 2172.4h21.1v21.1h-21.1zM588.7 2192.9h21.1v21.1h-21.1zM1529.8 2192.9h21.1v21.1h-21.1zM568.3 2233.8h21.1v21.1h-21.1zM568.3 2254.2h21.1v21.1h-21.1zM588.7 2295.1h21.1v21.1h-21.1zM1345.7 2336.1h21.1v21.1h-21.1zM1284.3 2356.5h21.1v21.1h-21.1zM179.6 2397.4h21.1v21.1h-21.1zM240.9 2417.9h21.1v21.1h-21.1zM568.3 2417.9h21.1v21.1h-21.1zM281.9 2438.3h21.1v21.1h-21.1zM1202.4 2438.3h21.1v21.1h-21.1zM1202.4 2458.8h21.1v21.1h-21.1zM445.5 2479.3h21.1v21.1h-21.1zM486.4 2499.7h21.1v21.1h-21.1zM1243.4 2540.6h21.1v21.1h-21.1zM1713.9 2540.6h21.1v21.1h-21.1zM1304.7 2561.1h21.1v21.1h-21.1zM1325.2 2561.1h21.1v21.1h-21.1zM1345.7 2561.1h21.1v21.1h-21.1zM1366.1 2561.1h21.1v21.1h-21.1zM302.3 2581.5h21.1v21.1h-21.1zM1447.9 2581.5h21.1v21.1h-21.1zM384.1 2602.0h21.1v21.1h-21.1zM1120.6 2642.9h21.1v21.1h-21.1zM1161.5 2642.9h21.1v21.1h-21.1zM1100.2 2663.4h21.1v21.1h-21.1zM1161.5 2663.4h21.1v21.1h-21.1zM404.6 2683.8h21.1v21.1h-21.1zM1161.5 2683.8h21.1v21.1h-21.1zM384.1 2704.3h21.1v21.1h-21.1zM1079.7 2704.3h21.1v21.1h-21.1zM1161.5 2704.3h21.1v21.1h-21.1zM1120.6 2745.2h21.1v21.1h-21.1z"/>
<path fill="#38da76" d="M322.8 1906.4h21.1v21.1h-21.1zM343.2 1906.4h21.1v21.1h-21.1zM363.7 1906.4h21.1v21.1h-21.1zM425.1 1926.9h21.1v21.1h-21.1zM609.2 1947.4h21.1v21.1h-21.1zM629.6 1947.4h21.1v21.1h-21.1zM220.5 1967.8h21.1v21.1h-21.1zM588.7 1967.8h21.1v21.1h-21.1zM466.0 1988.3h21.1v21.1h-21.1zM486.4 2008.7h21.1v21.1h-21.1zM568.3 2008.7h21.1v21.1h-21.1zM691.0 2008.7h21.1v21.1h-21.1zM506.9 2029.2h21.1v21.1h-21.1zM568.3 2029.2h21.1v21.1h-21.1zM691.0 2029.2h21.1v21.1h-21.1zM506.9 2049.7h21.1v21.1h-21.1zM527.4 2049.7h21.1v21.1h-21.1zM547.8 2049.7h21.1v21.1h-21.1zM568.3 2049.7h21.1v21.1h-21.1zM588.7 2049.7h21.1v21.1h-21.1zM670.6 2049.7h21.1v21.1h-21.1zM1591.1 2049.7h21.1v21.1h-21.1zM1652.5 2049.7h21.1v21.1h-21.1zM527.4 2070.1h21.1v21.1h-21.1zM547.8 2070.1h21.1v21.1h-21.1zM568.3 2070.1h21.1v21.1h-21.1zM588.7 2070.1h21.1v21.1h-21.1zM609.2 2070.1h21.1v21.1h-21.1zM629.6 2070.1h21.1v21.1h-21.1zM527.4 2090.6h21.1v21.1h-21.1zM547.8 2090.6h21.1v21.1h-21.1zM568.3 2090.6h21.1v21.1h-21.1zM1570.7 2090.6h21.1v21.1h-21.1zM547.8 2111.0h21.1v21.1h-21.1zM568.3 2111.0h21.1v21.1h-21.1zM588.7 2131.5h21.1v21.1h-21.1zM138.7 2151.9h21.1v21.1h-21.1zM1734.3 2151.9h21.1v21.1h-21.1zM588.7 2213.3h21.1v21.1h-21.1zM1509.3 2213.3h21.1v21.1h-21.1zM1488.9 2233.8h21.1v21.1h-21.1zM588.7 2274.7h21.1v21.1h-21.1zM118.2 2315.6h21.1v21.1h-21.1zM1407.0 2315.6h21.1v21.1h-21.1zM609.2 2336.1h21.1v21.1h-21.1zM138.7 2377.0h21.1v21.1h-21.1zM1243.4 2377.0h21.1v21.1h-21.1zM1222.9 2397.4h21.1v21.1h-21.1zM220.5 2417.9h21.1v21.1h-21.1zM322.8 2458.8h21.1v21.1h-21.1zM404.6 2458.8h21.1v21.1h-21.1zM527.4 2479.3h21.1v21.1h-21.1zM1202.4 2479.3h21.1v21.1h-21.1zM466.0 2499.7h21.1v21.1h-21.1zM506.9 2499.7h21.1v21.1h-21.1zM1222.9 2520.2h21.1v21.1h-21.1zM1734.3 2540.6h21.1v21.1h-21.1zM1263.8 2561.1h21.1v21.1h-21.1zM1284.3 2561.1h21.1v21.1h-21.1zM1693.4 2561.1h21.1v21.1h-21.1zM363.7 2581.5h21.1v21.1h-21.1zM281.9 2602.0h21.1v21.1h-21.1zM404.6 2602.0h21.1v21.1h-21.1zM425.1 2602.0h21.1v21.1h-21.1zM1550.2 2602.0h21.1v21.1h-21.1zM425.1 2622.5h21.1v21.1h-21.1zM1141.1 2622.5h21.1v21.1h-21.1zM1161.5 2622.5h21.1v21.1h-21.1zM425.1 2642.9h21.1v21.1h-21.1zM1079.7 2683.8h21.1v21.1h-21.1zM281.9 2704.3h21.1v21.1h-21.1zM1079.7 2724.8h21.1v21.1h-21.1zM1100.2 2745.2h21.1v21.1h-21.1zM1141.1 2745.2h21.1v21.1h-21.1z"/>
<path fill="#3cdd6f" d="M302.3 1906.4h21.1v21.1h-21.1zM384.1 1906.4h21.1v21.1h-21.1zM445.5 1947.4h21.1v21.1h-21.1zM650.1 1947.4h21.1v21.1h-21.1zM466.0 1967.8h21.1v21.1h-21.1zM670.6 1967.8h21.1v21.1h-21.1zM568.3 1988.3h21.1v21.1h-21.1zM547.8 2008.7h21.1v21.1h-21.1zM527.4 2029.2h21.1v21.1h-21.1zM547.8 2029.2h21.1v21.1h-21.1zM711.5 2029.2h21.1v21.1h-21.1zM1570.7 2029.2h21.1v21.1h-21.1zM1591.1 2029.2h21.1v21.1h-21.1zM1611.6 2029.2h21.1v21.1h-21.1zM1632.1 2029.2h21.1v21.1h-21.1zM1652.5 2029.2h21.1v21.1h-21.1zM691.0 2049.7h21.1v21.1h-21.1zM1570.7 2049.7h21.1v21.1h-21.1zM1673.0 2049.7h21.1v21.1h-21.1zM650.1 2070.1h21.1v21.1h-21.1zM670.6 2070.1h21.1v21.1h-21.1zM1570.7 2070.1h21.1v21.1h-21.1zM588.7 2090.6h21.1v21.1h-21.1zM609.2 2090.6h21.1v21.1h-21.1zM629.6 2090.6h21.1v21.1h-21.1zM588.7 2111.0h21.1v21.1h-21.1zM609.2 2111.0h21.1v21.1h-21.1zM609.2 2131.5h21.1v21.1h-21.1zM1550.2 2131.5h21.1v21.1h-21.1zM1713.9 2131.5h21.1v21.1h-21.1zM609.2 2151.9h21.1v21.1h-21.1zM609.2 2172.4h21.1v21.1h-21.1zM1529.8 2172.4h21.1v21.1h-21.1zM118.2 2192.9h21.1v21.1h-21.1zM609.2 2192.9h21.1v21.1h-21.1zM588.7 2233.8h21.1v21.1h-21.1zM588.7 2254.2h21.1v21.1h-21.1zM1468.4 2254.2h21.1v21.1h-21.1zM1447.9 2274.7h21.1v21.1h-21.1zM1427.5 2295.1h21.1v21.1h-21.1zM609.2 2315.6h21.1v21.1h-21.1zM1325.2 2336.1h21.1v21.1h-21.1zM609.2 2356.5h21.1v21.1h-21.1zM159.1 2397.4h21.1v21.1h-21.1zM588.7 2397.4h21.1v21.1h-21.1zM1202.4 2417.9h21.1v21.1h-21.1zM261.4 2438.3h21.1v21.1h-21.1zM302.3 2458.8h21.1v21.1h-21.1zM343.2 2458.8h21.1v21.1h-21.1zM363.7 2458.8h21.1v21.1h-21.1zM384.1 2458.8h21.1v21.1h-21.1zM547.8 2458.8h21.1v21.1h-21.1zM425.1 2479.3h21.1v21.1h-21.1zM445.5 2499.7h21.1v21.1h-21.1zM1202.4 2499.7h21.1v21.1h-21.1zM466.0 2520.2h21.1v21.1h-21.1zM486.4 2520.2h21.1v21.1h-21.1zM1222.9 2540.6h21.1v21.1h-21.1zM302.3 2561.1h21.1v21.1h-21.1zM322.8 2561.1h21.1v21.1h-21.1zM343.2 2561.1h21.1v21.1h-21.1zM1222.9 2561.1h21.1v21.1h-21.1zM1243.4 2561.1h21.1v21.1h-21.1zM281.9 2581.5h21.1v21.1h-21.1zM384.1 2581.5h21.1v21.1h-21.1zM404.6 2581.5h21.1v21.1h-21.1zM425.1 2581.5h21.1v21.1h-21.1zM445.5 2581.5h21.1v21.1h-21.1zM1427.5 2581.5h21.1v21.1h-21.1zM445.5 2602.0h21.1v21.1h-21.1zM1161.5 2602.0h21.1v21.1h-21.1zM1182.0 2602.0h21.1v21.1h-21.1zM1509.3 2602.0h21.1v21.1h-21.1zM1529.8 2602.0h21.1v21.1h-21.1zM1570.7 2602.0h21.1v21.1h-21.1zM1591.1 2602.0h21.1v21.1h-21.1zM1182.0 2622.5h21.1v21.1h-21.1zM1100.2 2642.9h21.1v21.1h-21.1zM1182.0 2642.9h21.1v21.1h-21.1zM425.1 2663.4h21.1v21.1h-21.1zM1182.0 2663.4h21.1v21.1h-21.1zM404.6 2704.3h21.1v21.1h-21.1zM322.8 2724.8h21.1v21.1h-21.1zM343.2 2724.8h21.1v21.1h-21.1zM363.7 2724.8h21.1v21.1h-21.1zM1161.5 2724.8h21.1v21.1h-21.1z"/>
<path fill="#40e068" d="M404.6 1906.4h21.1v21.1h-21.1zM261.4 1926.9h21.1v21.1h-21.1zM240.9 1947.4h21.1v21.1h-21.1zM588.7 1947.4h21.1v21.1h-21.1zM568.3 1967.8h21.1v21.1h-21.1zM486.4 1988.3h21.1v21.1h-21.1zM547.8 1988.3h21.1v21.1h-21.1zM691.0 1988.3h21.1v21.1h-21.1zM506.9 2008.7h21.1v21.1h-21.1zM527.4 2008.7h21.1v21.1h-21.1zM711.5 2008.7h21.1v21.1h-21.1zM1570.7 2008.7h21.1v21.1h-21.1zM1550.2 2029.2h21.1v21.1h-21.1zM711.5 2049.7h21.1v21.1h-21.1zM1550.2 2049.7h21.1v21.1h-21.1zM691.0 2070.1h21.1v21.1h-21.1zM1550.2 2070.1h21.1v21.1h-21.1zM650.1 2090.6h21.1v21.1h-21.1zM1693.4 2090.6h21.1v21.1h-21.1zM629.6 2111.0h21.1v21.1h-21.1zM1550.2 2111.0h21.1v21.1h-21.1zM629.6 2131.5h21.1v21.1h-21.1zM1120.6 2192.9h21.1v21.1h-21.1zM609.2 2213.3h21.1v21.1h-21.1zM609.2 2274.7h21.1v21.1h-21.1zM609.2 2295.1h21.1v21.1h-21.1zM1386.6 2315.6h21.1v21.1h-21.1zM1263.8 2356.5h21.1v21.1h-21.1zM200.0 2417.9h21.1v21.1h-21.1zM281.9 2458.8h21.1v21.1h-21.1zM302.3 2479.3h21.1v21.1h-21.1zM322.8 2479.3h21.1v21.1h-21.1zM527.4 2499.7h21.1v21.1h-21.1zM445.5 2520.2h21.1v21.1h-21.1zM506.9 2520.2h21.1v21.1h-21.1zM1202.4 2520.2h21.1v21.1h-21.1zM445.5 2540.6h21.1v21.1h-21.1zM466.0 2540.6h21.1v21.1h-21.1zM486.4 2540.6h21.1v21.1h-21.1zM1202.4 2540.6h21.1v21.1h-21.1zM363.7 2561.1h21.1v21.1h-21.1zM445.5 2561.1h21.1v21.1h-21.1zM466.0 2561.1h21.1v21.1h-21.1zM1202.4 2561.1h21.1v21.1h-21.1zM466.0 2581.5h21.1v21.1h-21.1zM1161.5 2581.5h21.1v21.1h-21.1zM1182.0 2581.5h21.1v21.1h-21.1zM1202.4 2581.5h21.1v21.1h-21.1zM1222.9 2581.5h21.1v21.1h-21.1zM1243.4 2581.5h21.1v21.1h-21.1zM1263.8 2581.5h21.1v21.1h-21.1zM1407.0 2581.5h21.1v21.1h-21.1zM466.0 2602.0h21.1v21.1h-21.1zM1141.1 2602.0h21.1v21.1h-21.1zM1202.4 2602.0h21.1v21.1h-21.1zM1488.9 2602.0h21.1v21.1h-21.1zM1611.6 2602.0h21.1v21.1h-21.1zM1632.1 2602.0h21.1v21.1h-21.1zM1652.5 2602.0h21.1v21.1h-21.1zM445.5 2622.5h21.1v21.1h-21.1zM1120.6 2622.5h21.1v21.1h-21.1zM1202.4 2622.5h21.1v21.1h-21.1zM261.4 2642.9h21.1v21.1h-21.1zM261.4 2663.4h21.1v21.1h-21.1zM1079.7 2663.4h21.1v21.1h-21.1zM425.1 2683.8h21.1v21.1h-21.1zM1182.0 2683.8h21.1v21.1h-21.1zM1182.0 2704.3h21.1v21.1h-21.1zM302.3 2724.8h21.1v21.1h-21.1zM1079.7 2745.2h21.1v21.1h-21.1zM1161.5 2745.2h21.1v21.1h-21.1zM1120.6 2765.7h21.1v21.1h-21.1z"/>
<path fill="#46df61" d="M281.9 1906.4h21.1v21.1h-21.1zM445.5 1926.9h21.1v21.1h-21.1zM609.2 1926.9h21.1v21.1h-21.1zM629.6 1926.9h21.1v21.1h-21.1zM670.6 1947.4h21.1v21.1h-21.1zM506.9 1988.3h21.1v21.1h-21.1zM527.4 1988.3h21.1v21.1h-21.1zM179.6 2008.7h21.1v21.1h-21.1zM1550.2 2008.7h21.1v21.1h-21.1zM1591.1 2008.7h21.1v21.1h-21.1zM1611.6 2008.7h21.1v21.1h-21.1zM731.9 2029.2h21.1v21.1h-21.1zM1529.8 2029.2h21.1v21.1h-21.1zM159.1 2070.1h21.1v21.1h-21.1zM670.6 2090.6h21.1v21.1h-21.1zM1550.2 2090.6h21.1v21.1h-21.1zM650.1 2111.0h21.1v21.1h-21.1zM629.6 2151.9h21.1v21.1h-21.1zM1529.8 2151.9h21.1v21.1h-21.1zM629.6 2172.4h21.1v21.1h-21.1zM1120.6 2172.4h21.1v21.1h-21.1zM629.6 2192.9h21.1v21.1h-21.1zM1509.3 2192.9h21.1v21.1h-21.1zM609.2 2233.8h21.1v21.1h-21.1zM609.2 2254.2h21.1v21.1h-21.1zM1304.7 2336.1h21.1v21.1h-21.1zM609.2 2377.0h21.1v21.1h-21.1zM179.6 2417.9h21.1v21.1h-21.1zM240.9 2438.3h21.1v21.1h-21.1zM568.3 2438.3h21.1v21.1h-21.1zM261.4 2458.8h21.1v21.1h-21.1zM343.2 2479.3h21.1v21.1h-21.1zM363.7 2479.3h21.1v21.1h-21.1zM384.1 2479.3h21.1v21.1h-21.1zM404.6 2479.3h21.1v21.1h-21.1zM322.8 2499.7h21.1v21.1h-21.1zM425.1 2499.7h21.1v21.1h-21.1zM302.3 2540.6h21.1v21.1h-21.1zM322.8 2540.6h21.1v21.1h-21.1zM343.2 2540.6h21.1v21.1h-21.1zM1182.0 2540.6h21.1v21.1h-21.1zM281.9 2561.1h21.1v21.1h-21.1zM384.1 2561.1h21.1v21.1h-21.1zM404.6 2561.1h21.1v21.1h-21.1zM425.1 2561.1h21.1v21.1h-21.1zM486.4 2561.1h21.1v21.1h-21.1zM1182.0 2561.1h21.1v21.1h-21.1zM1713.9 2561.1h21.1v21.1h-21.1zM1734.3 2561.1h21.1v21.1h-21.1zM486.4 2581.5h21.1v21.1h-21.1zM1284.3 2581.5h21.1v21.1h-21.1zM1304.7 2581.5h21.1v21.1h-21.1zM1325.2 2581.5h21.1v21.1h-21.1zM1386.6 2581.5h21.1v21.1h-21.1zM1222.9 2602.0h21.1v21.1h-21.1zM1468.4 2602.0h21.1v21.1h-21.1zM261.4 2622.5h21.1v21.1h-21.1zM445.5 2642.9h21.1v21.1h-21.1zM1202.4 2642.9h21.1v21.1h-21.1zM261.4 2683.8h21.1v21.1h-21.1zM1059.2 2704.3h21.1v21.1h-21.1zM384.1 2724.8h21.1v21.1h-21.1zM1182.0 2724.8h21.1v21.1h-21.1zM1100.2 2765.7h21.1v21.1h-21.1zM1141.1 2765.7h21.1v21.1h-21.1z"/>
<path fill="#4cde5a" d="M261.4 1906.4h21.1v21.1h-21.1zM425.1 1906.4h21.1v21.1h-21.1zM650.1 1926.9h21.1v21.1h-21.1zM466.0 1947.4h21.1v21.1h-21.1zM568.3 1947.4h21.1v21.1h-21.1zM486.4 1967.8h21.1v21.1h-21.1zM547.8 1967.8h21.1v21.1h-21.1zM691.0 1967.8h21.1v21.1h-21.1zM711.5 1988.3h21.1v21.1h-21.1zM1550.2 1988.3h21.1v21.1h-21.1zM1570.7 1988.3h21.1v21.1h-21.1zM731.9 2008.7h21.1v21.1h-21.1zM1529.8 2008.7h21.1v21.1h-21.1zM1632.1 2008.7h21.1v21.1h-21.1zM1652.5 2008.7h21.1v21.1h-21.1zM731.9 2049.7h21.1v21.1h-21.1zM1529.8 2049.7h21.1v21.1h-21.1zM711.5 2070.1h21.1v21.1h-21.1zM1529.8 2070.1h21.1v21.1h-21.1zM691.0 2090.6h21.1v21.1h-21.1zM650.1 2131.5h21.1v21.1h-21.1zM118.2 2172.4h21.1v21.1h-21.1zM1141.1 2192.9h21.1v21.1h-21.1zM629.6 2213.3h21.1v21.1h-21.1zM1488.9 2213.3h21.1v21.1h-21.1zM629.6 2233.8h21.1v21.1h-21.1zM1468.4 2233.8h21.1v21.1h-21.1zM118.2 2336.1h21.1v21.1h-21.1zM1222.9 2377.0h21.1v21.1h-21.1zM138.7 2397.4h21.1v21.1h-21.1zM1202.4 2397.4h21.1v21.1h-21.1zM159.1 2417.9h21.1v21.1h-21.1zM588.7 2417.9h21.1v21.1h-21.1zM220.5 2438.3h21.1v21.1h-21.1zM1182.0 2458.8h21.1v21.1h-21.1zM281.9 2479.3h21.1v21.1h-21.1zM547.8 2479.3h21.1v21.1h-21.1zM1182.0 2479.3h21.1v21.1h-21.1zM302.3 2499.7h21.1v21.1h-21.1zM343.2 2499.7h21.1v21.1h-21.1zM404.6 2499.7h21.1v21.1h-21.1zM1182.0 2499.7h21.1v21.1h-21.1zM302.3 2520.2h21.1v21.1h-21.1zM322.8 2520.2h21.1v21.1h-21.1zM343.2 2520.2h21.1v21.1h-21.1zM425.1 2520.2h21.1v21.1h-21.1zM1182.0 2520.2h21.1v21.1h-21.1zM281.9 2540.6h21.1v21.1h-21.1zM363.7 2540.6h21.1v21.1h-21.1zM404.6 2540.6h21.1v21.1h-21.1zM425.1 2540.6h21.1v21.1h-21.1zM506.9 2540.6h21.1v21.1h-21.1zM1161.5 2561.1h21.1v21.1h-21.1zM1141.1 2581.5h21.1v21.1h-21.1zM1345.7 2581.5h21.1v21.1h-21.1zM1366.1 2581.5h21.1v21.1h-21.1zM261.4 2602.0h21.1v21.1h-21.1zM1120.6 2602.0h21.1v21.1h-21.1zM1243.4 2602.0h21.1v21.1h-21.1zM1263.8 2602.0h21.1v21.1h-21.1zM466.0 2622.5h21.1v21.1h-21.1zM1222.9 2622.5h21.1v21.1h-21.1zM445.5 2663.4h21.1v21.1h-21.1zM1202.4 2663.4h21.1v21.1h-21.1zM1059.2 2683.8h21.1v21.1h-21.1zM261.4 2704.3h21.1v21.1h-21.1zM425.1 2704.3h21.1v21.1h-21.1zM281.9 2724.8h21.1v21.1h-21.1zM404.6 2724.8h21.1v21.1h-21.1zM1059.2 2724.8h21.1v21.1h-21.1zM1161.5 2765.7h21.1v21.1h-21.1z"/>
<path fill="#52dd53" d="M363.7 1886.0h21.1v21.1h-21.1zM240.9 1926.9h21.1v21.1h-21.1zM588.7 1926.9h21.1v21.1h-21.1zM506.9 1967.8h21.1v21.1h-21.1zM527.4 1967.8h21.1v21.1h-21.1zM1529.8 1988.3h21.1v21.1h-21.1zM1591.1 1988.3h21.1v21.1h-21.1zM752.4 2029.2h21.1v21.1h-21.1zM1509.3 2029.2h21.1v21.1h-21.1zM1673.0 2029.2h21.1v21.1h-21.1zM1509.3 2049.7h21.1v21.1h-21.1zM1529.8 2090.6h21.1v21.1h-21.1zM670.6 2111.0h21.1v21.1h-21.1zM1529.8 2111.0h21.1v21.1h-21.1zM138.7 2131.5h21.1v21.1h-21.1zM1529.8 2131.5h21.1v21.1h-21.1zM1734.3 2131.5h21.1v21.1h-21.1zM650.1 2151.9h21.1v21.1h-21.1zM650.1 2172.4h21.1v21.1h-21.1zM1141.1 2172.4h21.1v21.1h-21.1zM1509.3 2172.4h21.1v21.1h-21.1zM1100.2 2192.9h21.1v21.1h-21.1zM1120.6 2213.3h21.1v21.1h-21.1zM629.6 2254.2h21.1v21.1h-21.1zM1447.9 2254.2h21.1v21.1h-21.1zM629.6 2274.7h21.1v21.1h-21.1zM1427.5 2274.7h21.1v21.1h-21.1zM629.6 2295.1h21.1v21.1h-21.1zM1407.0 2295.1h21.1v21.1h-21.1zM1366.1 2315.6h21.1v21.1h-21.1zM1182.0 2438.3h21.1v21.1h-21.1zM240.9 2458.8h21.1v21.1h-21.1zM261.4 2479.3h21.1v21.1h-21.1zM281.9 2499.7h21.1v21.1h-21.1zM363.7 2499.7h21.1v21.1h-21.1zM384.1 2499.7h21.1v21.1h-21.1zM281.9 2520.2h21.1v21.1h-21.1zM363.7 2520.2h21.1v21.1h-21.1zM384.1 2520.2h21.1v21.1h-21.1zM404.6 2520.2h21.1v21.1h-21.1zM527.4 2520.2h21.1v21.1h-21.1zM384.1 2540.6h21.1v21.1h-21.1zM1161.5 2540.6h21.1v21.1h-21.1zM261.4 2561.1h21.1v21.1h-21.1zM506.9 2561.1h21.1v21.1h-21.1zM261.4 2581.5h21.1v21.1h-21.1zM486.4 2602.0h21.1v21.1h-21.1zM1284.3 2602.0h21.1v21.1h-21.1zM1447.9 2602.0h21.1v21.1h-21.1zM1100.2 2622.5h21.1v21.1h-21.1zM1243.4 2622.5h21.1v21.1h-21.1zM1529.8 2622.5h21.1v21.1h-21.1zM466.0 2642.9h21.1v21.1h-21.1zM1079.7 2642.9h21.1v21.1h-21.1zM1222.9 2642.9h21.1v21.1h-21.1zM445.5 2683.8h21.1v21.1h-21.1zM1202.4 2683.8h21.1v21.1h-21.1zM1202.4 2704.3h21.1v21.1h-21.1zM1182.0 2745.2h21.1v21.1h-21.1zM1079.7 2765.7h21.1v21.1h-21.1z"/>
<path fill="#58dc4c" d="M261.4 1886.0h21.1v21.1h-21.1zM281.9 1886.0h21.1v21.1h-21.1zM302.3 1886.0h21.1v21.1h-21.1zM322.8 1886.0h21.1v21.1h-21.1zM343.2 1886.0h21.1v21.1h-21.1zM384.1 1886.0h21.1v21.1h-21.1zM404.6 1886.0h21.1v21.1h-21.1zM445.5 1906.4h21.1v21.1h-21.1zM466.0 1926.9h21.1v21.1h-21.1zM568.3 1926.9h21.1v21.1h-21.1zM220.5 1947.4h21.1v21.1h-21.1zM486.4 1947.4h21.1v21.1h-21.1zM547.8 1947.4h21.1v21.1h-21.1zM1611.6 1988.3h21.1v21.1h-21.1zM752.4 2008.7h21.1v21.1h-21.1zM1509.3 2008.7h21.1v21.1h-21.1zM159.1 2049.7h21.1v21.1h-21.1zM752.4 2049.7h21.1v21.1h-21.1zM731.9 2070.1h21.1v21.1h-21.1zM1509.3 2070.1h21.1v21.1h-21.1zM1693.4 2070.1h21.1v21.1h-21.1zM711.5 2090.6h21.1v21.1h-21.1zM691.0 2111.0h21.1v21.1h-21.1zM670.6 2131.5h21.1v21.1h-21.1zM1100.2 2172.4h21.1v21.1h-21.1zM650.1 2192.9h21.1v21.1h-21.1zM650.1 2213.3h21.1v21.1h-21.1zM1141.1 2213.3h21.1v21.1h-21.1zM650.1 2233.8h21.1v21.1h-21.1zM629.6 2315.6h21.1v21.1h-21.1zM629.6 2336.1h21.1v21.1h-21.1zM1284.3 2336.1h21.1v21.1h-21.1zM1243.4 2356.5h21.1v21.1h-21.1zM609.2 2397.4h21.1v21.1h-21.1zM200.0 2438.3h21.1v21.1h-21.1zM568.3 2458.8h21.1v21.1h-21.1zM261.4 2499.7h21.1v21.1h-21.1zM1161.5 2520.2h21.1v21.1h-21.1zM261.4 2540.6h21.1v21.1h-21.1zM1141.1 2561.1h21.1v21.1h-21.1zM506.9 2581.5h21.1v21.1h-21.1zM1304.7 2602.0h21.1v21.1h-21.1zM1325.2 2602.0h21.1v21.1h-21.1zM1427.5 2602.0h21.1v21.1h-21.1zM1263.8 2622.5h21.1v21.1h-21.1zM1488.9 2622.5h21.1v21.1h-21.1zM1509.3 2622.5h21.1v21.1h-21.1zM1550.2 2622.5h21.1v21.1h-21.1zM1570.7 2622.5h21.1v21.1h-21.1zM1059.2 2663.4h21.1v21.1h-21.1zM1222.9 2663.4h21.1v21.1h-21.1zM445.5 2704.3h21.1v21.1h-21.1zM261.4 2724.8h21.1v21.1h-21.1zM425.1 2724.8h21.1v21.1h-21.1zM1202.4 2724.8h21.1v21.1h-21.1zM1059.2 2745.2h21.1v21.1h-21.1zM1182.0 2765.7h21.1v21.1h-21.1zM1120.6 2786.1h21.1v21.1h-21.1zM1141.1 2786.1h21.1v21.1h-21.1z"/>
<path fill="#5edb45" d="M425.1 1886.0h21.1v21.1h-21.1zM486.4 1926.9h21.1v21.1h-21.1zM547.8 1926.9h21.1v21.1h-21.1zM670.6 1926.9h21.1v21.1h-21.1zM506.9 1947.4h21.1v21.1h-21.1zM527.4 1947.4h21.1v21.1h-21.1zM691.0 1947.4h21.1v21.1h-21.1zM711.5 1967.8h21.1v21.1h-21.1zM1529.8 1967.8h21.1v21.1h-21.1zM1550.2 1967.8h21.1v21.1h-21.1zM1570.7 1967.8h21.1v21.1h-21.1zM731.9 1988.3h21.1v21.1h-21.1zM1509.3 1988.3h21.1v21.1h-21.1zM1632.1 1988.3h21.1v21.1h-21.1zM772.8 2029.2h21.1v21.1h-21.1zM1488.9 2029.2h21.1v21.1h-21.1zM1488.9 2049.7h21.1v21.1h-21.1zM1509.3 2090.6h21.1v21.1h-21.1zM1509.3 2111.0h21.1v21.1h-21.1zM1713.9 2111.0h21.1v21.1h-21.1zM1509.3 2131.5h21.1v21.1h-21.1zM118.2 2151.9h21.1v21.1h-21.1zM670.6 2151.9h21.1v21.1h-21.1zM1120.6 2151.9h21.1v21.1h-21.1zM1509.3 2151.9h21.1v21.1h-21.1zM1488.9 2192.9h21.1v21.1h-21.1zM1100.2 2213.3h21.1v21.1h-21.1zM1468.4 2213.3h21.1v21.1h-21.1zM650.1 2254.2h21.1v21.1h-21.1zM1345.7 2315.6h21.1v21.1h-21.1zM118.2 2356.5h21.1v21.1h-21.1zM1182.0 2417.9h21.1v21.1h-21.1zM159.1 2438.3h21.1v21.1h-21.1zM179.6 2438.3h21.1v21.1h-21.1zM220.5 2458.8h21.1v21.1h-21.1zM240.9 2479.3h21.1v21.1h-21.1zM547.8 2499.7h21.1v21.1h-21.1zM1161.5 2499.7h21.1v21.1h-21.1zM261.4 2520.2h21.1v21.1h-21.1zM527.4 2540.6h21.1v21.1h-21.1zM1141.1 2540.6h21.1v21.1h-21.1zM1120.6 2581.5h21.1v21.1h-21.1zM1345.7 2602.0h21.1v21.1h-21.1zM1366.1 2602.0h21.1v21.1h-21.1zM1386.6 2602.0h21.1v21.1h-21.1zM1407.0 2602.0h21.1v21.1h-21.1zM486.4 2622.5h21.1v21.1h-21.1zM1284.3 2622.5h21.1v21.1h-21.1zM1468.4 2622.5h21.1v21.1h-21.1zM1243.4 2642.9h21.1v21.1h-21.1zM240.9 2663.4h21.1v21.1h-21.1zM466.0 2663.4h21.1v21.1h-21.1zM240.9 2683.8h21.1v21.1h-21.1zM1222.9 2683.8h21.1v21.1h-21.1zM302.3 2745.2h21.1v21.1h-21.1zM322.8 2745.2h21.1v21.1h-21.1zM343.2 2745.2h21.1v21.1h-21.1zM363.7 2745.2h21.1v21.1h-21.1zM384.1 2745.2h21.1v21.1h-21.1zM1202.4 2745.2h21.1v21.1h-21.1zM1100.2 2786.1h21.1v21.1h-21.1zM1161.5 2786.1h21.1v21.1h-21.1z"/>
<path fill="#64da3e" d="M445.5 1886.0h21.1v21.1h-21.1zM240.9 1906.4h21.1v21.1h-21.1zM466.0 1906.4h21.1v21.1h-21.1zM568.3 1906.4h21.1v21.1h-21.1zM588.7 1906.4h21.1v21.1h-21.1zM609.2 1906.4h21.1v21.1h-21.1zM629.6 1906.4h21.1v21.1h-21.1zM506.9 1926.9h21.1v21.1h-21.1zM527.4 1926.9h21.1v21.1h-21.1zM200.0 1967.8h21.1v21.1h-21.1zM1509.3 1967.8h21.1v21.1h-21.1zM1591.1 1967.8h21.1v21.1h-21.1zM1652.5 1988.3h21.1v21.1h-21.1zM772.8 2008.7h21.1v21.1h-21.1zM1488.9 2008.7h21.1v21.1h-21.1zM772.8 2049.7h21.1v21.1h-21.1zM752.4 2070.1h21.1v21.1h-21.1zM1488.9 2070.1h21.1v21.1h-21.1zM731.9 2090.6h21.1v21.1h-21.1zM1488.9 2090.6h21.1v21.1h-21.1zM711.5 2111.0h21.1v21.1h-21.1zM691.0 2131.5h21.1v21.1h-21.1zM1141.1 2151.9h21.1v21.1h-21.1zM670.6 2172.4h21.1v21.1h-21.1zM670.6 2192.9h21.1v21.1h-21.1zM670.6 2213.3h21.1v21.1h-21.1zM670.6 2233.8h21.1v21.1h-21.1zM1447.9 2233.8h21.1v21.1h-21.1zM650.1 2274.7h21.1v21.1h-21.1zM1386.6 2295.1h21.1v21.1h-21.1zM1325.2 2315.6h21.1v21.1h-21.1zM629.6 2356.5h21.1v21.1h-21.1zM138.7 2417.9h21.1v21.1h-21.1zM588.7 2438.3h21.1v21.1h-21.1zM1161.5 2479.3h21.1v21.1h-21.1zM240.9 2499.7h21.1v21.1h-21.1zM240.9 2581.5h21.1v21.1h-21.1zM1693.4 2581.5h21.1v21.1h-21.1zM1713.9 2581.5h21.1v21.1h-21.1zM1734.3 2581.5h21.1v21.1h-21.1zM240.9 2602.0h21.1v21.1h-21.1zM506.9 2602.0h21.1v21.1h-21.1zM1100.2 2602.0h21.1v21.1h-21.1zM240.9 2622.5h21.1v21.1h-21.1zM1304.7 2622.5h21.1v21.1h-21.1zM1447.9 2622.5h21.1v21.1h-21.1zM1591.1 2622.5h21.1v21.1h-21.1zM240.9 2642.9h21.1v21.1h-21.1zM1263.8 2642.9h21.1v21.1h-21.1zM1284.3 2642.9h21.1v21.1h-21.1zM1243.4 2663.4h21.1v21.1h-21.1zM1038.8 2683.8h21.1v21.1h-21.1zM1243.4 2683.8h21.1v21.1h-21.1zM1038.8 2704.3h21.1v21.1h-21.1zM1222.9 2704.3h21.1v21.1h-21.1zM445.5 2724.8h21.1v21.1h-21.1zM1222.9 2724.8h21.1v21.1h-21.1zM281.9 2745.2h21.1v21.1h-21.1zM404.6 2745.2h21.1v21.1h-21.1zM1222.9 2745.2h21.1v21.1h-21.1zM1059.2 2765.7h21.1v21.1h-21.1zM1202.4 2765.7h21.1v21.1h-21.1zM1182.0 2786.1h21.1v21.1h-21.1z"/>
<path fill="#6ad937" d="M466.0 1886.0h21.1v21.1h-21.1zM486.4 1906.4h21.1v21.1h-21.1zM506.9 1906.4h21.1v21.1h-21.1zM527.4 1906.4h21.1v21.1h-21.1zM547.8 1906.4h21.1v21.1h-21.1zM650.1 1906.4h21.1v21.1h-21.1zM1529.8 1947.4h21.1v21.1h-21.1zM1550.2 1947.4h21.1v21.1h-21.1zM1611.6 1967.8h21.1v21.1h-21.1zM752.4 1988.3h21.1v21.1h-21.1zM1488.9 1988.3h21.1v21.1h-21.1zM159.1 2029.2h21.1v21.1h-21.1zM793.3 2029.2h21.1v21.1h-21.1zM1468.4 2029.2h21.1v21.1h-21.1zM1468.4 2049.7h21.1v21.1h-21.1zM1468.4 2070.1h21.1v21.1h-21.1zM1468.4 2090.6h21.1v21.1h-21.1zM138.7 2111.0h21.1v21.1h-21.1zM1488.9 2111.0h21.1v21.1h-21.1zM1734.3 2111.0h21.1v21.1h-21.1zM118.2 2131.5h21.1v21.1h-21.1zM1488.9 2131.5h21.1v21.1h-21.1zM691.0 2151.9h21.1v21.1h-21.1zM1100.2 2151.9h21.1v21.1h-21.1zM1488.9 2151.9h21.1v21.1h-21.1zM1488.9 2172.4h21.1v21.1h-21.1zM1120.6 2233.8h21.1v21.1h-21.1zM670.6 2254.2h21.1v21.1h-21.1zM1427.5 2254.2h21.1v21.1h-21.1zM1407.0 2274.7h21.1v21.1h-21.1zM1263.8 2336.1h21.1v21.1h-21.1zM1222.9 2356.5h21.1v21.1h-21.1zM1202.4 2377.0h21.1v21.1h-21.1zM200.0 2458.8h21.1v21.1h-21.1zM220.5 2479.3h21.1v21.1h-21.1zM568.3 2479.3h21.1v21.1h-21.1zM240.9 2520.2h21.1v21.1h-21.1zM547.8 2520.2h21.1v21.1h-21.1zM1141.1 2520.2h21.1v21.1h-21.1zM240.9 2540.6h21.1v21.1h-21.1zM240.9 2561.1h21.1v21.1h-21.1zM527.4 2561.1h21.1v21.1h-21.1zM1120.6 2561.1h21.1v21.1h-21.1zM1673.0 2602.0h21.1v21.1h-21.1zM1079.7 2622.5h21.1v21.1h-21.1zM1325.2 2622.5h21.1v21.1h-21.1zM1345.7 2622.5h21.1v21.1h-21.1zM1427.5 2622.5h21.1v21.1h-21.1zM1611.6 2622.5h21.1v21.1h-21.1zM1632.1 2622.5h21.1v21.1h-21.1zM486.4 2642.9h21.1v21.1h-21.1zM1059.2 2642.9h21.1v21.1h-21.1zM1304.7 2642.9h21.1v21.1h-21.1zM1509.3 2642.9h21.1v21.1h-21.1zM1529.8 2642.9h21.1v21.1h-21.1zM1263.8 2663.4h21.1v21.1h-21.1zM1284.3 2663.4h21.1v21.1h-21.1zM466.0 2683.8h21.1v21.1h-21.1zM1263.8 2683.8h21.1v21.1h-21.1zM240.9 2704.3h21.1v21.1h-21.1zM1243.4 2704.3h21.1v21.1h-21.1zM1038.8 2724.8h21.1v21.1h-21.1zM1243.4 2724.8h21.1v21.1h-21.1zM425.1 2745.2h21.1v21.1h-21.1zM1243.4 2745.2h21.1v21.1h-21.1zM1222.9 2765.7h21.1v21.1h-21.1zM1079.7 2786.1h21.1v21.1h-21.1zM1202.4 2786.1h21.1v21.1h-21.1zM1120.6 2806.6h21.1v21.1h-21.1zM1141.1 2806.6h21.1v21.1h-21.1zM1161.5 2806.6h21.1v21.1h-21.1z"/>
<path fill="#70d830" d="M281.9 1865.5h21.1v21.1h-21.1zM363.7 1865.5h21.1v21.1h-21.1zM384.1 1865.5h21.1v21.1h-21.1zM404.6 1865.5h21.1v21.1h-21.1zM425.1 1865.5h21.1v21.1h-21.1zM445.5 1865.5h21.1v21.1h-21.1zM486.4 1886.0h21.1v21.1h-21.1zM506.9 1886.0h21.1v21.1h-21.1zM527.4 1886.0h21.1v21.1h-21.1zM691.0 1926.9h21.1v21.1h-21.1zM711.5 1947.4h21.1v21.1h-21.1zM1509.3 1947.4h21.1v21.1h-21.1zM1570.7 1947.4h21.1v21.1h-21.1zM731.9 1967.8h21.1v21.1h-21.1zM1488.9 1967.8h21.1v21.1h-21.1zM1632.1 1967.8h21.1v21.1h-21.1zM179.6 1988.3h21.1v21.1h-21.1zM772.8 1988.3h21.1v21.1h-21.1zM159.1 2008.7h21.1v21.1h-21.1zM793.3 2008.7h21.1v21.1h-21.1zM1468.4 2008.7h21.1v21.1h-21.1zM1693.4 2049.7h21.1v21.1h-21.1zM772.8 2070.1h21.1v21.1h-21.1zM1447.9 2070.1h21.1v21.1h-21.1zM752.4 2090.6h21.1v21.1h-21.1zM1447.9 2090.6h21.1v21.1h-21.1zM1468.4 2111.0h21.1v21.1h-21.1zM691.0 2172.4h21.1v21.1h-21.1zM1079.7 2172.4h21.1v21.1h-21.1zM1161.5 2172.4h21.1v21.1h-21.1zM691.0 2192.9h21.1v21.1h-21.1zM1079.7 2192.9h21.1v21.1h-21.1zM1161.5 2192.9h21.1v21.1h-21.1zM1468.4 2192.9h21.1v21.1h-21.1zM691.0 2213.3h21.1v21.1h-21.1zM691.0 2233.8h21.1v21.1h-21.1zM1141.1 2233.8h21.1v21.1h-21.1zM650.1 2295.1h21.1v21.1h-21.1zM1304.7 2315.6h21.1v21.1h-21.1zM118.2 2377.0h21.1v21.1h-21.1zM629.6 2377.0h21.1v21.1h-21.1zM1182.0 2397.4h21.1v21.1h-21.1zM609.2 2417.9h21.1v21.1h-21.1zM179.6 2458.8h21.1v21.1h-21.1zM1161.5 2458.8h21.1v21.1h-21.1zM527.4 2581.5h21.1v21.1h-21.1zM506.9 2622.5h21.1v21.1h-21.1zM1366.1 2622.5h21.1v21.1h-21.1zM1386.6 2622.5h21.1v21.1h-21.1zM1407.0 2622.5h21.1v21.1h-21.1zM1325.2 2642.9h21.1v21.1h-21.1zM1468.4 2642.9h21.1v21.1h-21.1zM1488.9 2642.9h21.1v21.1h-21.1zM1550.2 2642.9h21.1v21.1h-21.1zM1038.8 2663.4h21.1v21.1h-21.1zM1304.7 2663.4h21.1v21.1h-21.1zM1284.3 2683.8h21.1v21.1h-21.1zM1304.7 2683.8h21.1v21.1h-21.1zM466.0 2704.3h21.1v21.1h-21.1zM1263.8 2704.3h21.1v21.1h-21.1zM1284.3 2704.3h21.1v21.1h-21.1zM1304.7 2704.3h21.1v21.1h-21.1zM1263.8 2724.8h21.1v21.1h-21.1zM1284.3 2724.8h21.1v21.1h-21.1zM1304.7 2724.8h21.1v21.1h-21.1zM445.5 2745.2h21.1v21.1h-21.1zM1038.8 2745.2h21.1v21.1h-21.1zM1263.8 2745.2h21.1v21.1h-21.1zM1284.3 2745.2h21.1v21.1h-21.1zM1243.4 2765.7h21.1v21.1h-21.1zM1263.8 2765.7h21.1v21.1h-21.1zM1284.3 2765.7h21.1v21.1h-21.1zM1222.9 2786.1h21.1v21.1h-21.1zM1100.2 2806.6h21.1v21.1h-21.1zM1182.0 2806.6h21.1v21.1h-21.1z"/>
<path fill="#76d62e" d="M302.3 1865.5h21.1v21.1h-21.1zM322.8 1865.5h21.1v21.1h-21.1zM343.2 1865.5h21.1v21.1h-21.1zM466.0 1865.5h21.1v21.1h-21.1zM486.4 1865.5h21.1v21.1h-21.1zM506.9 1865.5h21.1v21.1h-21.1zM547.8 1886.0h21.1v21.1h-21.1zM568.3 1886.0h21.1v21.1h-21.1zM670.6 1906.4h21.1v21.1h-21.1zM1509.3 1926.9h21.1v21.1h-21.1zM1529.8 1926.9h21.1v21.1h-21.1zM1550.2 1926.9h21.1v21.1h-21.1zM1488.9 1947.4h21.1v21.1h-21.1zM1591.1 1947.4h21.1v21.1h-21.1zM1468.4 1967.8h21.1v21.1h-21.1zM1468.4 1988.3h21.1v21.1h-21.1zM138.7 2008.7h21.1v21.1h-21.1zM1673.0 2008.7h21.1v21.1h-21.1zM118.2 2029.2h21.1v21.1h-21.1zM138.7 2029.2h21.1v21.1h-21.1zM1447.9 2029.2h21.1v21.1h-21.1zM118.2 2049.7h21.1v21.1h-21.1zM138.7 2049.7h21.1v21.1h-21.1zM793.3 2049.7h21.1v21.1h-21.1zM1447.9 2049.7h21.1v21.1h-21.1zM138.7 2070.1h21.1v21.1h-21.1zM1427.5 2070.1h21.1v21.1h-21.1zM138.7 2090.6h21.1v21.1h-21.1zM1427.5 2090.6h21.1v21.1h-21.1zM1713.9 2090.6h21.1v21.1h-21.1zM1734.3 2090.6h21.1v21.1h-21.1zM118.2 2111.0h21.1v21.1h-21.1zM731.9 2111.0h21.1v21.1h-21.1zM1447.9 2111.0h21.1v21.1h-21.1zM711.5 2131.5h21.1v21.1h-21.1zM1468.4 2131.5h21.1v21.1h-21.1zM1468.4 2151.9h21.1v21.1h-21.1zM1468.4 2172.4h21.1v21.1h-21.1zM1079.7 2213.3h21.1v21.1h-21.1zM1447.9 2213.3h21.1v21.1h-21.1zM1100.2 2233.8h21.1v21.1h-21.1zM691.0 2254.2h21.1v21.1h-21.1zM670.6 2274.7h21.1v21.1h-21.1zM1366.1 2295.1h21.1v21.1h-21.1zM1161.5 2438.3h21.1v21.1h-21.1zM159.1 2458.8h21.1v21.1h-21.1zM200.0 2479.3h21.1v21.1h-21.1zM220.5 2499.7h21.1v21.1h-21.1zM1141.1 2499.7h21.1v21.1h-21.1zM220.5 2520.2h21.1v21.1h-21.1zM547.8 2540.6h21.1v21.1h-21.1zM1120.6 2540.6h21.1v21.1h-21.1zM1100.2 2581.5h21.1v21.1h-21.1zM220.5 2602.0h21.1v21.1h-21.1zM220.5 2622.5h21.1v21.1h-21.1zM1652.5 2622.5h21.1v21.1h-21.1zM220.5 2642.9h21.1v21.1h-21.1zM1345.7 2642.9h21.1v21.1h-21.1zM1366.1 2642.9h21.1v21.1h-21.1zM1386.6 2642.9h21.1v21.1h-21.1zM1407.0 2642.9h21.1v21.1h-21.1zM1427.5 2642.9h21.1v21.1h-21.1zM1447.9 2642.9h21.1v21.1h-21.1zM486.4 2663.4h21.1v21.1h-21.1zM1325.2 2663.4h21.1v21.1h-21.1zM1345.7 2663.4h21.1v21.1h-21.1zM1325.2 2683.8h21.1v21.1h-21.1zM1325.2 2704.3h21.1v21.1h-21.1zM466.0 2724.8h21.1v21.1h-21.1zM1325.2 2724.8h21.1v21.1h-21.1zM1304.7 2745.2h21.1v21.1h-21.1zM1325.2 2745.2h21.1v21.1h-21.1zM1304.7 2765.7h21.1v21.1h-21.1zM1243.4 2786.1h21.1v21.1h-21.1zM1263.8 2786.1h21.1v21.1h-21.1zM1284.3 2786.1h21.1v21.1h-21.1zM1202.4 2806.6h21.1v21.1h-21.1zM1222.9 2806.6h21.1v21.1h-21.1zM1141.1 2827.0h21.1v21.1h-21.1zM1161.5 2827.0h21.1v21.1h-21.1zM1182.0 2827.0h21.1v21.1h-21.1z"/>
<path fill="#7cd42c" d="M445.5 1824.6h21.1v21.1h-21.1zM404.6 1845.1h21.1v21.1h-21.1zM425.1 1845.1h21.1v21.1h-21.1zM445.5 1845.1h21.1v21.1h-21.1zM466.0 1845.1h21.1v21.1h-21.1zM486.4 1845.1h21.1v21.1h-21.1zM506.9 1845.1h21.1v21.1h-21.1zM1407.0 1845.1h21.1v21.1h-21.1zM1427.5 1845.1h21.1v21.1h-21.1zM261.4 1865.5h21.1v21.1h-21.1zM527.4 1865.5h21.1v21.1h-21.1zM1407.0 1865.5h21.1v21.1h-21.1zM1427.5 1865.5h21.1v21.1h-21.1zM1447.9 1865.5h21.1v21.1h-21.1zM588.7 1886.0h21.1v21.1h-21.1zM1407.0 1886.0h21.1v21.1h-21.1zM1427.5 1886.0h21.1v21.1h-21.1zM1447.9 1886.0h21.1v21.1h-21.1zM1468.4 1886.0h21.1v21.1h-21.1zM1407.0 1906.4h21.1v21.1h-21.1zM1427.5 1906.4h21.1v21.1h-21.1zM1447.9 1906.4h21.1v21.1h-21.1zM1468.4 1906.4h21.1v21.1h-21.1zM1488.9 1906.4h21.1v21.1h-21.1zM220.5 1926.9h21.1v21.1h-21.1zM1427.5 1926.9h21.1v21.1h-21.1zM1447.9 1926.9h21.1v21.1h-21.1zM1468.4 1926.9h21.1v21.1h-21.1zM1488.9 1926.9h21.1v21.1h-21.1zM1570.7 1926.9h21.1v21.1h-21.1zM1447.9 1947.4h21.1v21.1h-21.1zM1468.4 1947.4h21.1v21.1h-21.1zM1611.6 1947.4h21.1v21.1h-21.1zM752.4 1967.8h21.1v21.1h-21.1zM1447.9 1967.8h21.1v21.1h-21.1zM793.3 1988.3h21.1v21.1h-21.1zM1345.7 1988.3h21.1v21.1h-21.1zM1447.9 1988.3h21.1v21.1h-21.1zM118.2 2008.7h21.1v21.1h-21.1zM813.8 2008.7h21.1v21.1h-21.1zM1345.7 2008.7h21.1v21.1h-21.1zM1447.9 2008.7h21.1v21.1h-21.1zM813.8 2029.2h21.1v21.1h-21.1zM1427.5 2029.2h21.1v21.1h-21.1zM1427.5 2049.7h21.1v21.1h-21.1zM118.2 2070.1h21.1v21.1h-21.1zM1407.0 2070.1h21.1v21.1h-21.1zM1713.9 2070.1h21.1v21.1h-21.1zM118.2 2090.6h21.1v21.1h-21.1zM1427.5 2111.0h21.1v21.1h-21.1zM1120.6 2131.5h21.1v21.1h-21.1zM1141.1 2131.5h21.1v21.1h-21.1zM1447.9 2131.5h21.1v21.1h-21.1zM711.5 2151.9h21.1v21.1h-21.1zM1161.5 2151.9h21.1v21.1h-21.1zM711.5 2192.9h21.1v21.1h-21.1zM711.5 2213.3h21.1v21.1h-21.1zM1161.5 2213.3h21.1v21.1h-21.1zM711.5 2233.8h21.1v21.1h-21.1zM1427.5 2233.8h21.1v21.1h-21.1zM650.1 2315.6h21.1v21.1h-21.1zM1284.3 2315.6h21.1v21.1h-21.1zM1243.4 2336.1h21.1v21.1h-21.1zM138.7 2438.3h21.1v21.1h-21.1zM588.7 2458.8h21.1v21.1h-21.1zM568.3 2499.7h21.1v21.1h-21.1zM220.5 2540.6h21.1v21.1h-21.1zM220.5 2561.1h21.1v21.1h-21.1zM220.5 2581.5h21.1v21.1h-21.1zM527.4 2602.0h21.1v21.1h-21.1zM1079.7 2602.0h21.1v21.1h-21.1zM1570.7 2642.9h21.1v21.1h-21.1zM220.5 2663.4h21.1v21.1h-21.1zM1366.1 2663.4h21.1v21.1h-21.1zM1386.6 2663.4h21.1v21.1h-21.1zM1407.0 2663.4h21.1v21.1h-21.1zM1427.5 2663.4h21.1v21.1h-21.1zM1447.9 2663.4h21.1v21.1h-21.1zM1468.4 2663.4h21.1v21.1h-21.1zM1488.9 2663.4h21.1v21.1h-21.1zM1345.7 2683.8h21.1v21.1h-21.1zM1366.1 2683.8h21.1v21.1h-21.1zM1386.6 2683.8h21.1v21.1h-21.1zM1407.0 2683.8h21.1v21.1h-21.1zM1427.5 2683.8h21.1v21.1h-21.1zM1447.9 2683.8h21.1v21.1h-21.1zM1345.7 2704.3h21.1v21.1h-21.1zM1366.1 2704.3h21.1v21.1h-21.1zM1386.6 2704.3h21.1v21.1h-21.1zM1407.0 2704.3h21.1v21.1h-21.1zM1427.5 2704.3h21.1v21.1h-21.1zM1447.9 2704.3h21.1v21.1h-21.1zM1345.7 2724.8h21.1v21.1h-21.1zM1407.0 2724.8h21.1v21.1h-21.1zM1427.5 2724.8h21.1v21.1h-21.1zM261.4 2745.2h21.1v21.1h-21.1zM466.0 2745.2h21.1v21.1h-21.1zM302.3 2765.7h21.1v21.1h-21.1zM1325.2 2765.7h21.1v21.1h-21.1zM1059.2 2786.1h21.1v21.1h-21.1zM1304.7 2786.1h21.1v21.1h-21.1zM1079.7 2806.6h21.1v21.1h-21.1zM1243.4 2806.6h21.1v21.1h-21.1zM1263.8 2806.6h21.1v21.1h-21.1zM1120.6 2827.0h21.1v21.1h-21.1zM1202.4 2827.0h21.1v21.1h-21.1zM1222.9 2827.0h21.1v21.1h-21.1zM1161.5 2847.5h21.1v21.1h-21.1zM1182.0 2847.5h21.1v21.1h-21.1zM1202.4 2847.5h21.1v21.1h-21.1zM1182.0 2868.0h21.1v21.1h-21.1zM916.0 3093.0h21.1v21.1h-21.1zM936.5 3093.0h21.1v21.1h-21.1zM916.0 3113.4h21.1v21.1h-21.1zM936.5 3113.4h21.1v21.1h-21.1z"/>
<path fill="#82d22a" d="M445.5 1804.2h21.1v21.1h-21.1zM466.0 1804.2h21.1v21.1h-21.1zM1386.6 1804.2h21.1v21.1h-21.1zM1407.0 1804.2h21.1v21.1h-21.1zM425.1 1824.6h21.1v21.1h-21.1zM466.0 1824.6h21.1v21.1h-21.1zM486.4 1824.6h21.1v21.1h-21.1zM1386.6 1824.6h21.1v21.1h-21.1zM1407.0 1824.6h21.1v21.1h-21.1zM1427.5 1824.6h21.1v21.1h-21.1zM1447.9 1824.6h21.1v21.1h-21.1zM384.1 1845.1h21.1v21.1h-21.1zM527.4 1845.1h21.1v21.1h-21.1zM1386.6 1845.1h21.1v21.1h-21.1zM1447.9 1845.1h21.1v21.1h-21.1zM547.8 1865.5h21.1v21.1h-21.1zM1386.6 1865.5h21.1v21.1h-21.1zM1468.4 1865.5h21.1v21.1h-21.1zM240.9 1886.0h21.1v21.1h-21.1zM609.2 1886.0h21.1v21.1h-21.1zM1386.6 1886.0h21.1v21.1h-21.1zM1488.9 1886.0h21.1v21.1h-21.1zM691.0 1906.4h21.1v21.1h-21.1zM1386.6 1906.4h21.1v21.1h-21.1zM1509.3 1906.4h21.1v21.1h-21.1zM1529.8 1906.4h21.1v21.1h-21.1zM711.5 1926.9h21.1v21.1h-21.1zM1386.6 1926.9h21.1v21.1h-21.1zM1407.0 1926.9h21.1v21.1h-21.1zM1591.1 1926.9h21.1v21.1h-21.1zM731.9 1947.4h21.1v21.1h-21.1zM1366.1 1947.4h21.1v21.1h-21.1zM1386.6 1947.4h21.1v21.1h-21.1zM1407.0 1947.4h21.1v21.1h-21.1zM1427.5 1947.4h21.1v21.1h-21.1zM772.8 1967.8h21.1v21.1h-21.1zM1345.7 1967.8h21.1v21.1h-21.1zM1366.1 1967.8h21.1v21.1h-21.1zM1386.6 1967.8h21.1v21.1h-21.1zM1407.0 1967.8h21.1v21.1h-21.1zM1427.5 1967.8h21.1v21.1h-21.1zM118.2 1988.3h21.1v21.1h-21.1zM138.7 1988.3h21.1v21.1h-21.1zM159.1 1988.3h21.1v21.1h-21.1zM813.8 1988.3h21.1v21.1h-21.1zM1325.2 1988.3h21.1v21.1h-21.1zM1366.1 1988.3h21.1v21.1h-21.1zM1386.6 1988.3h21.1v21.1h-21.1zM1407.0 1988.3h21.1v21.1h-21.1zM1427.5 1988.3h21.1v21.1h-21.1zM1325.2 2008.7h21.1v21.1h-21.1zM1366.1 2008.7h21.1v21.1h-21.1zM1386.6 2008.7h21.1v21.1h-21.1zM1407.0 2008.7h21.1v21.1h-21.1zM1427.5 2008.7h21.1v21.1h-21.1zM1345.7 2029.2h21.1v21.1h-21.1zM1366.1 2029.2h21.1v21.1h-21.1zM1386.6 2029.2h21.1v21.1h-21.1zM1407.0 2029.2h21.1v21.1h-21.1zM1693.4 2029.2h21.1v21.1h-21.1zM813.8 2049.7h21.1v21.1h-21.1zM1386.6 2049.7h21.1v21.1h-21.1zM1407.0 2049.7h21.1v21.1h-21.1zM1713.9 2049.7h21.1v21.1h-21.1zM1734.3 2049.7h21.1v21.1h-21.1zM793.3 2070.1h21.1v21.1h-21.1zM1734.3 2070.1h21.1v21.1h-21.1zM772.8 2090.6h21.1v21.1h-21.1zM1407.0 2090.6h21.1v21.1h-21.1zM752.4 2111.0h21.1v21.1h-21.1zM1407.0 2111.0h21.1v21.1h-21.1zM731.9 2131.5h21.1v21.1h-21.1zM1100.2 2131.5h21.1v21.1h-21.1zM1427.5 2131.5h21.1v21.1h-21.1zM1079.7 2151.9h21.1v21.1h-21.1zM1447.9 2151.9h21.1v21.1h-21.1zM711.5 2172.4h21.1v21.1h-21.1zM1447.9 2172.4h21.1v21.1h-21.1zM1447.9 2192.9h21.1v21.1h-21.1zM711.5 2254.2h21.1v21.1h-21.1zM1407.0 2254.2h21.1v21.1h-21.1zM1386.6 2274.7h21.1v21.1h-21.1zM1202.4 2356.5h21.1v21.1h-21.1zM1182.0 2377.0h21.1v21.1h-21.1zM629.6 2397.4h21.1v21.1h-21.1zM1161.5 2417.9h21.1v21.1h-21.1zM179.6 2479.3h21.1v21.1h-21.1zM1141.1 2479.3h21.1v21.1h-21.1zM200.0 2499.7h21.1v21.1h-21.1zM1120.6 2520.2h21.1v21.1h-21.1zM547.8 2561.1h21.1v21.1h-21.1zM1100.2 2561.1h21.1v21.1h-21.1zM1059.2 2622.5h21.1v21.1h-21.1zM506.9 2642.9h21.1v21.1h-21.1zM1038.8 2642.9h21.1v21.1h-21.1zM1509.3 2663.4h21.1v21.1h-21.1zM486.4 2683.8h21.1v21.1h-21.1zM1468.4 2683.8h21.1v21.1h-21.1zM1366.1 2724.8h21.1v21.1h-21.1zM1386.6 2724.8h21.1v21.1h-21.1zM1447.9 2724.8h21.1v21.1h-21.1zM1345.7 2745.2h21.1v21.1h-21.1zM1366.1 2745.2h21.1v21.1h-21.1zM322.8 2765.7h21.1v21.1h-21.1zM343.2 2765.7h21.1v21.1h-21.1zM363.7 2765.7h21.1v21.1h-21.1zM384.1 2765.7h21.1v21.1h-21.1zM404.6 2765.7h21.1v21.1h-21.1zM425.1 2765.7h21.1v21.1h-21.1zM445.5 2765.7h21.1v21.1h-21.1zM1038.8 2765.7h21.1v21.1h-21.1zM1345.7 2765.7h21.1v21.1h-21.1zM1325.2 2786.1h21.1v21.1h-21.1zM1284.3 2806.6h21.1v21.1h-21.1zM1100.2 2827.0h21.1v21.1h-21.1zM1243.4 2827.0h21.1v21.1h-21.1zM1141.1 2847.5h21.1v21.1h-21.1zM1222.9 2847.5h21.1v21.1h-21.1zM1161.5 2868.0h21.1v21.1h-21.1zM1202.4 2868.0h21.1v21.1h-21.1zM1182.0 2888.4h21.1v21.1h-21.1z"/>
<path fill="#88d028" d="M445.5 1783.7h21.1v21.1h-21.1zM1386.6 1783.7h21.1v21.1h-21.1zM1407.0 1783.7h21.1v21.1h-21.1zM404.6 1804.2h21.1v21.1h-21.1zM425.1 1804.2h21.1v21.1h-21.1zM486.4 1804.2h21.1v21.1h-21.1zM1427.5 1804.2h21.1v21.1h-21.1zM404.6 1824.6h21.1v21.1h-21.1zM506.9 1824.6h21.1v21.1h-21.1zM281.9 1845.1h21.1v21.1h-21.1zM363.7 1845.1h21.1v21.1h-21.1zM1468.4 1845.1h21.1v21.1h-21.1zM568.3 1865.5h21.1v21.1h-21.1zM1488.9 1865.5h21.1v21.1h-21.1zM629.6 1886.0h21.1v21.1h-21.1zM1509.3 1886.0h21.1v21.1h-21.1zM1366.1 1906.4h21.1v21.1h-21.1zM1550.2 1906.4h21.1v21.1h-21.1zM1570.7 1906.4h21.1v21.1h-21.1zM1366.1 1926.9h21.1v21.1h-21.1zM1611.6 1926.9h21.1v21.1h-21.1zM1345.7 1947.4h21.1v21.1h-21.1zM1632.1 1947.4h21.1v21.1h-21.1zM793.3 1967.8h21.1v21.1h-21.1zM1325.2 1967.8h21.1v21.1h-21.1zM1304.7 1988.3h21.1v21.1h-21.1zM834.2 2008.7h21.1v21.1h-21.1zM1304.7 2008.7h21.1v21.1h-21.1zM834.2 2029.2h21.1v21.1h-21.1zM1325.2 2029.2h21.1v21.1h-21.1zM1713.9 2029.2h21.1v21.1h-21.1zM1734.3 2029.2h21.1v21.1h-21.1zM1366.1 2049.7h21.1v21.1h-21.1zM1386.6 2070.1h21.1v21.1h-21.1zM1386.6 2090.6h21.1v21.1h-21.1zM731.9 2151.9h21.1v21.1h-21.1zM731.9 2213.3h21.1v21.1h-21.1zM1427.5 2213.3h21.1v21.1h-21.1zM731.9 2233.8h21.1v21.1h-21.1zM1079.7 2233.8h21.1v21.1h-21.1zM1161.5 2233.8h21.1v21.1h-21.1zM1120.6 2254.2h21.1v21.1h-21.1zM691.0 2274.7h21.1v21.1h-21.1zM670.6 2295.1h21.1v21.1h-21.1zM1345.7 2295.1h21.1v21.1h-21.1zM650.1 2336.1h21.1v21.1h-21.1zM1222.9 2336.1h21.1v21.1h-21.1zM118.2 2397.4h21.1v21.1h-21.1zM159.1 2479.3h21.1v21.1h-21.1zM200.0 2520.2h21.1v21.1h-21.1zM200.0 2540.6h21.1v21.1h-21.1zM200.0 2561.1h21.1v21.1h-21.1zM200.0 2581.5h21.1v21.1h-21.1zM200.0 2602.0h21.1v21.1h-21.1zM1693.4 2602.0h21.1v21.1h-21.1zM1713.9 2602.0h21.1v21.1h-21.1zM1734.3 2602.0h21.1v21.1h-21.1zM1591.1 2642.9h21.1v21.1h-21.1zM1529.8 2663.4h21.1v21.1h-21.1zM1018.3 2683.8h21.1v21.1h-21.1zM1488.9 2683.8h21.1v21.1h-21.1zM486.4 2704.3h21.1v21.1h-21.1zM1018.3 2704.3h21.1v21.1h-21.1zM1468.4 2704.3h21.1v21.1h-21.1zM240.9 2724.8h21.1v21.1h-21.1zM1018.3 2724.8h21.1v21.1h-21.1zM1386.6 2745.2h21.1v21.1h-21.1zM1407.0 2745.2h21.1v21.1h-21.1zM1427.5 2745.2h21.1v21.1h-21.1zM281.9 2765.7h21.1v21.1h-21.1zM466.0 2765.7h21.1v21.1h-21.1zM1366.1 2765.7h21.1v21.1h-21.1zM1304.7 2806.6h21.1v21.1h-21.1zM1263.8 2827.0h21.1v21.1h-21.1zM1120.6 2847.5h21.1v21.1h-21.1zM1141.1 2868.0h21.1v21.1h-21.1zM1161.5 2888.4h21.1v21.1h-21.1zM1202.4 2888.4h21.1v21.1h-21.1z"/>
<path fill="#8ece26" d="M1366.1 1763.2h21.1v21.1h-21.1zM1386.6 1763.2h21.1v21.1h-21.1zM1407.0 1763.2h21.1v21.1h-21.1zM404.6 1783.7h21.1v21.1h-21.1zM425.1 1783.7h21.1v21.1h-21.1zM466.0 1783.7h21.1v21.1h-21.1zM1366.1 1783.7h21.1v21.1h-21.1zM1427.5 1783.7h21.1v21.1h-21.1zM506.9 1804.2h21.1v21.1h-21.1zM1366.1 1804.2h21.1v21.1h-21.1zM1447.9 1804.2h21.1v21.1h-21.1zM384.1 1824.6h21.1v21.1h-21.1zM527.4 1824.6h21.1v21.1h-21.1zM1366.1 1824.6h21.1v21.1h-21.1zM1468.4 1824.6h21.1v21.1h-21.1zM302.3 1845.1h21.1v21.1h-21.1zM322.8 1845.1h21.1v21.1h-21.1zM343.2 1845.1h21.1v21.1h-21.1zM547.8 1845.1h21.1v21.1h-21.1zM1366.1 1845.1h21.1v21.1h-21.1zM1488.9 1845.1h21.1v21.1h-21.1zM1366.1 1865.5h21.1v21.1h-21.1zM1509.3 1865.5h21.1v21.1h-21.1zM650.1 1886.0h21.1v21.1h-21.1zM1366.1 1886.0h21.1v21.1h-21.1zM1529.8 1886.0h21.1v21.1h-21.1zM1550.2 1886.0h21.1v21.1h-21.1zM711.5 1906.4h21.1v21.1h-21.1zM1591.1 1906.4h21.1v21.1h-21.1zM1345.7 1926.9h21.1v21.1h-21.1zM200.0 1947.4h21.1v21.1h-21.1zM752.4 1947.4h21.1v21.1h-21.1zM1325.2 1947.4h21.1v21.1h-21.1zM118.2 1967.8h21.1v21.1h-21.1zM138.7 1967.8h21.1v21.1h-21.1zM159.1 1967.8h21.1v21.1h-21.1zM179.6 1967.8h21.1v21.1h-21.1zM813.8 1967.8h21.1v21.1h-21.1zM1652.5 1967.8h21.1v21.1h-21.1zM834.2 1988.3h21.1v21.1h-21.1zM854.7 2008.7h21.1v21.1h-21.1zM1693.4 2008.7h21.1v21.1h-21.1zM1713.9 2008.7h21.1v21.1h-21.1zM1734.3 2008.7h21.1v21.1h-21.1zM854.7 2029.2h21.1v21.1h-21.1zM1304.7 2029.2h21.1v21.1h-21.1zM834.2 2049.7h21.1v21.1h-21.1zM1345.7 2049.7h21.1v21.1h-21.1zM813.8 2070.1h21.1v21.1h-21.1zM1366.1 2070.1h21.1v21.1h-21.1zM793.3 2090.6h21.1v21.1h-21.1zM1366.1 2090.6h21.1v21.1h-21.1zM1120.6 2111.0h21.1v21.1h-21.1zM1386.6 2111.0h21.1v21.1h-21.1zM752.4 2131.5h21.1v21.1h-21.1zM1079.7 2131.5h21.1v21.1h-21.1zM1161.5 2131.5h21.1v21.1h-21.1zM1407.0 2131.5h21.1v21.1h-21.1zM1427.5 2151.9h21.1v21.1h-21.1zM731.9 2172.4h21.1v21.1h-21.1zM1427.5 2172.4h21.1v21.1h-21.1zM731.9 2192.9h21.1v21.1h-21.1zM1427.5 2192.9h21.1v21.1h-21.1zM1100.2 2254.2h21.1v21.1h-21.1zM1141.1 2254.2h21.1v21.1h-21.1zM1325.2 2295.1h21.1v21.1h-21.1zM1263.8 2315.6h21.1v21.1h-21.1zM1161.5 2397.4h21.1v21.1h-21.1zM609.2 2438.3h21.1v21.1h-21.1zM1141.1 2458.8h21.1v21.1h-21.1zM179.6 2499.7h21.1v21.1h-21.1zM1120.6 2499.7h21.1v21.1h-21.1zM568.3 2520.2h21.1v21.1h-21.1zM1100.2 2540.6h21.1v21.1h-21.1zM547.8 2581.5h21.1v21.1h-21.1zM1079.7 2581.5h21.1v21.1h-21.1zM200.0 2622.5h21.1v21.1h-21.1zM527.4 2622.5h21.1v21.1h-21.1zM1611.6 2642.9h21.1v21.1h-21.1zM506.9 2663.4h21.1v21.1h-21.1zM1018.3 2663.4h21.1v21.1h-21.1zM1550.2 2663.4h21.1v21.1h-21.1zM220.5 2683.8h21.1v21.1h-21.1zM486.4 2724.8h21.1v21.1h-21.1zM1345.7 2786.1h21.1v21.1h-21.1zM1059.2 2806.6h21.1v21.1h-21.1zM1325.2 2806.6h21.1v21.1h-21.1zM1079.7 2827.0h21.1v21.1h-21.1zM1100.2 2847.5h21.1v21.1h-21.1zM1243.4 2847.5h21.1v21.1h-21.1zM1120.6 2868.0h21.1v21.1h-21.1zM1222.9 2868.0h21.1v21.1h-21.1zM527.4 2888.4h21.1v21.1h-21.1zM547.8 2888.4h21.1v21.1h-21.1zM1141.1 2888.4h21.1v21.1h-21.1zM527.4 2908.9h21.1v21.1h-21.1zM547.8 2908.9h21.1v21.1h-21.1zM568.3 2908.9h21.1v21.1h-21.1z"/>
<path fill="#94cc24" d="M1366.1 1742.8h21.1v21.1h-21.1zM445.5 1763.2h21.1v21.1h-21.1zM1345.7 1763.2h21.1v21.1h-21.1zM486.4 1783.7h21.1v21.1h-21.1zM1345.7 1783.7h21.1v21.1h-21.1zM1447.9 1783.7h21.1v21.1h-21.1zM384.1 1804.2h21.1v21.1h-21.1zM1345.7 1804.2h21.1v21.1h-21.1zM1468.4 1804.2h21.1v21.1h-21.1zM363.7 1824.6h21.1v21.1h-21.1zM588.7 1865.5h21.1v21.1h-21.1zM1529.8 1865.5h21.1v21.1h-21.1zM670.6 1886.0h21.1v21.1h-21.1zM1570.7 1886.0h21.1v21.1h-21.1zM1345.7 1906.4h21.1v21.1h-21.1zM731.9 1926.9h21.1v21.1h-21.1zM118.2 1947.4h21.1v21.1h-21.1zM772.8 1947.4h21.1v21.1h-21.1zM1304.7 1967.8h21.1v21.1h-21.1zM854.7 1988.3h21.1v21.1h-21.1zM977.4 1988.3h21.1v21.1h-21.1zM997.9 1988.3h21.1v21.1h-21.1zM875.1 2008.7h21.1v21.1h-21.1zM957.0 2008.7h21.1v21.1h-21.1zM977.4 2008.7h21.1v21.1h-21.1zM997.9 2008.7h21.1v21.1h-21.1zM1018.3 2008.7h21.1v21.1h-21.1zM1059.2 2008.7h21.1v21.1h-21.1zM1079.7 2008.7h21.1v21.1h-21.1zM1100.2 2008.7h21.1v21.1h-21.1zM1284.3 2008.7h21.1v21.1h-21.1zM875.1 2029.2h21.1v21.1h-21.1zM1100.2 2029.2h21.1v21.1h-21.1zM854.7 2049.7h21.1v21.1h-21.1zM1325.2 2049.7h21.1v21.1h-21.1zM1345.7 2070.1h21.1v21.1h-21.1zM772.8 2111.0h21.1v21.1h-21.1zM1100.2 2111.0h21.1v21.1h-21.1zM1141.1 2111.0h21.1v21.1h-21.1zM1366.1 2111.0h21.1v21.1h-21.1zM1386.6 2131.5h21.1v21.1h-21.1zM1407.0 2151.9h21.1v21.1h-21.1zM1059.2 2172.4h21.1v21.1h-21.1zM1059.2 2192.9h21.1v21.1h-21.1zM1407.0 2233.8h21.1v21.1h-21.1zM731.9 2254.2h21.1v21.1h-21.1zM650.1 2356.5h21.1v21.1h-21.1zM1182.0 2356.5h21.1v21.1h-21.1zM118.2 2417.9h21.1v21.1h-21.1zM588.7 2479.3h21.1v21.1h-21.1zM179.6 2520.2h21.1v21.1h-21.1zM568.3 2540.6h21.1v21.1h-21.1zM1059.2 2602.0h21.1v21.1h-21.1zM1038.8 2622.5h21.1v21.1h-21.1zM1509.3 2683.8h21.1v21.1h-21.1zM1468.4 2724.8h21.1v21.1h-21.1zM486.4 2745.2h21.1v21.1h-21.1zM1018.3 2745.2h21.1v21.1h-21.1zM1447.9 2745.2h21.1v21.1h-21.1zM1386.6 2765.7h21.1v21.1h-21.1zM445.5 2786.1h21.1v21.1h-21.1zM466.0 2786.1h21.1v21.1h-21.1zM1038.8 2786.1h21.1v21.1h-21.1zM1284.3 2827.0h21.1v21.1h-21.1zM506.9 2868.0h21.1v21.1h-21.1zM527.4 2868.0h21.1v21.1h-21.1zM547.8 2868.0h21.1v21.1h-21.1zM506.9 2888.4h21.1v21.1h-21.1zM568.3 2888.4h21.1v21.1h-21.1zM1120.6 2888.4h21.1v21.1h-21.1zM486.4 2908.9h21.1v21.1h-21.1zM506.9 2908.9h21.1v21.1h-21.1zM588.7 2908.9h21.1v21.1h-21.1zM1161.5 2908.9h21.1v21.1h-21.1zM1182.0 2908.9h21.1v21.1h-21.1zM466.0 2929.3h21.1v21.1h-21.1zM486.4 2929.3h21.1v21.1h-21.1zM506.9 2929.3h21.1v21.1h-21.1zM527.4 2929.3h21.1v21.1h-21.1zM547.8 2929.3h21.1v21.1h-21.1zM568.3 2929.3h21.1v21.1h-21.1zM486.4 2949.8h21.1v21.1h-21.1zM506.9 2949.8h21.1v21.1h-21.1z"/>
<path fill="#9aca22" d="M1345.7 1742.8h21.1v21.1h-21.1zM1386.6 1742.8h21.1v21.1h-21.1zM1407.0 1742.8h21.1v21.1h-21.1zM404.6 1763.2h21.1v21.1h-21.1zM425.1 1763.2h21.1v21.1h-21.1zM466.0 1763.2h21.1v21.1h-21.1zM1427.5 1763.2h21.1v21.1h-21.1zM384.1 1783.7h21.1v21.1h-21.1zM506.9 1783.7h21.1v21.1h-21.1zM527.4 1804.2h21.1v21.1h-21.1zM547.8 1824.6h21.1v21.1h-21.1zM1345.7 1824.6h21.1v21.1h-21.1zM1488.9 1824.6h21.1v21.1h-21.1zM568.3 1845.1h21.1v21.1h-21.1zM1345.7 1845.1h21.1v21.1h-21.1zM1509.3 1845.1h21.1v21.1h-21.1zM118.2 1865.5h21.1v21.1h-21.1zM138.7 1865.5h21.1v21.1h-21.1zM159.1 1865.5h21.1v21.1h-21.1zM179.6 1865.5h21.1v21.1h-21.1zM200.0 1865.5h21.1v21.1h-21.1zM220.5 1865.5h21.1v21.1h-21.1zM1345.7 1865.5h21.1v21.1h-21.1zM1550.2 1865.5h21.1v21.1h-21.1zM118.2 1886.0h21.1v21.1h-21.1zM138.7 1886.0h21.1v21.1h-21.1zM159.1 1886.0h21.1v21.1h-21.1zM179.6 1886.0h21.1v21.1h-21.1zM200.0 1886.0h21.1v21.1h-21.1zM220.5 1886.0h21.1v21.1h-21.1zM691.0 1886.0h21.1v21.1h-21.1zM1345.7 1886.0h21.1v21.1h-21.1zM1591.1 1886.0h21.1v21.1h-21.1zM118.2 1906.4h21.1v21.1h-21.1zM138.7 1906.4h21.1v21.1h-21.1zM159.1 1906.4h21.1v21.1h-21.1zM220.5 1906.4h21.1v21.1h-21.1zM731.9 1906.4h21.1v21.1h-21.1zM1611.6 1906.4h21.1v21.1h-21.1zM118.2 1926.9h21.1v21.1h-21.1zM138.7 1926.9h21.1v21.1h-21.1zM752.4 1926.9h21.1v21.1h-21.1zM1325.2 1926.9h21.1v21.1h-21.1zM138.7 1947.4h21.1v21.1h-21.1zM159.1 1947.4h21.1v21.1h-21.1zM179.6 1947.4h21.1v21.1h-21.1zM793.3 1947.4h21.1v21.1h-21.1zM813.8 1947.4h21.1v21.1h-21.1zM1304.7 1947.4h21.1v21.1h-21.1zM834.2 1967.8h21.1v21.1h-21.1zM977.4 1967.8h21.1v21.1h-21.1zM875.1 1988.3h21.1v21.1h-21.1zM916.0 1988.3h21.1v21.1h-21.1zM936.5 1988.3h21.1v21.1h-21.1zM957.0 1988.3h21.1v21.1h-21.1zM1018.3 1988.3h21.1v21.1h-21.1zM1038.8 1988.3h21.1v21.1h-21.1zM1059.2 1988.3h21.1v21.1h-21.1zM1079.7 1988.3h21.1v21.1h-21.1zM1100.2 1988.3h21.1v21.1h-21.1zM1120.6 1988.3h21.1v21.1h-21.1zM1284.3 1988.3h21.1v21.1h-21.1zM1673.0 1988.3h21.1v21.1h-21.1zM895.6 2008.7h21.1v21.1h-21.1zM916.0 2008.7h21.1v21.1h-21.1zM936.5 2008.7h21.1v21.1h-21.1zM1038.8 2008.7h21.1v21.1h-21.1zM1120.6 2008.7h21.1v21.1h-21.1zM1141.1 2008.7h21.1v21.1h-21.1zM895.6 2029.2h21.1v21.1h-21.1zM916.0 2029.2h21.1v21.1h-21.1zM936.5 2029.2h21.1v21.1h-21.1zM957.0 2029.2h21.1v21.1h-21.1zM977.4 2029.2h21.1v21.1h-21.1zM997.9 2029.2h21.1v21.1h-21.1zM1018.3 2029.2h21.1v21.1h-21.1zM1038.8 2029.2h21.1v21.1h-21.1zM1059.2 2029.2h21.1v21.1h-21.1zM1079.7 2029.2h21.1v21.1h-21.1zM1120.6 2029.2h21.1v21.1h-21.1zM1141.1 2029.2h21.1v21.1h-21.1zM1284.3 2029.2h21.1v21.1h-21.1zM1079.7 2049.7h21.1v21.1h-21.1zM1100.2 2049.7h21.1v21.1h-21.1zM1120.6 2049.7h21.1v21.1h-21.1zM1304.7 2049.7h21.1v21.1h-21.1zM834.2 2070.1h21.1v21.1h-21.1zM1120.6 2090.6h21.1v21.1h-21.1zM1345.7 2090.6h21.1v21.1h-21.1zM1161.5 2111.0h21.1v21.1h-21.1zM1366.1 2131.5h21.1v21.1h-21.1zM752.4 2151.9h21.1v21.1h-21.1zM1059.2 2151.9h21.1v21.1h-21.1zM1386.6 2151.9h21.1v21.1h-21.1zM1182.0 2172.4h21.1v21.1h-21.1zM1407.0 2172.4h21.1v21.1h-21.1zM752.4 2192.9h21.1v21.1h-21.1zM1182.0 2192.9h21.1v21.1h-21.1zM752.4 2213.3h21.1v21.1h-21.1zM1059.2 2213.3h21.1v21.1h-21.1zM1407.0 2213.3h21.1v21.1h-21.1zM752.4 2233.8h21.1v21.1h-21.1zM1161.5 2254.2h21.1v21.1h-21.1zM1386.6 2254.2h21.1v21.1h-21.1zM1366.1 2274.7h21.1v21.1h-21.1zM1304.7 2295.1h21.1v21.1h-21.1zM1243.4 2315.6h21.1v21.1h-21.1zM1202.4 2336.1h21.1v21.1h-21.1zM629.6 2417.9h21.1v21.1h-21.1zM138.7 2458.8h21.1v21.1h-21.1zM159.1 2499.7h21.1v21.1h-21.1zM1100.2 2520.2h21.1v21.1h-21.1zM179.6 2540.6h21.1v21.1h-21.1zM179.6 2561.1h21.1v21.1h-21.1zM1079.7 2561.1h21.1v21.1h-21.1zM547.8 2602.0h21.1v21.1h-21.1zM527.4 2642.9h21.1v21.1h-21.1zM1018.3 2642.9h21.1v21.1h-21.1zM1632.1 2642.9h21.1v21.1h-21.1zM1570.7 2663.4h21.1v21.1h-21.1zM506.9 2683.8h21.1v21.1h-21.1zM1488.9 2704.3h21.1v21.1h-21.1zM486.4 2765.7h21.1v21.1h-21.1zM1407.0 2765.7h21.1v21.1h-21.1zM302.3 2786.1h21.1v21.1h-21.1zM425.1 2786.1h21.1v21.1h-21.1zM486.4 2786.1h21.1v21.1h-21.1zM1366.1 2786.1h21.1v21.1h-21.1zM466.0 2806.6h21.1v21.1h-21.1zM486.4 2806.6h21.1v21.1h-21.1zM1345.7 2806.6h21.1v21.1h-21.1zM1304.7 2827.0h21.1v21.1h-21.1zM486.4 2847.5h21.1v21.1h-21.1zM506.9 2847.5h21.1v21.1h-21.1zM527.4 2847.5h21.1v21.1h-21.1zM1079.7 2847.5h21.1v21.1h-21.1zM1263.8 2847.5h21.1v21.1h-21.1zM486.4 2868.0h21.1v21.1h-21.1zM568.3 2868.0h21.1v21.1h-21.1zM1100.2 2868.0h21.1v21.1h-21.1zM486.4 2888.4h21.1v21.1h-21.1zM588.7 2888.4h21.1v21.1h-21.1zM1222.9 2888.4h21.1v21.1h-21.1zM466.0 2908.9h21.1v21.1h-21.1zM1141.1 2908.9h21.1v21.1h-21.1zM445.5 2929.3h21.1v21.1h-21.1zM588.7 2929.3h21.1v21.1h-21.1zM466.0 2949.8h21.1v21.1h-21.1zM527.4 2949.8h21.1v21.1h-21.1zM547.8 2949.8h21.1v21.1h-21.1zM506.9 2970.2h21.1v21.1h-21.1z"/>
<path fill="#a0c820" d="M1325.2 1722.3h21.1v21.1h-21.1zM1345.7 1722.3h21.1v21.1h-21.1zM1366.1 1722.3h21.1v21.1h-21.1zM1325.2 1742.8h21.1v21.1h-21.1zM384.1 1763.2h21.1v21.1h-21.1zM486.4 1763.2h21.1v21.1h-21.1zM1325.2 1763.2h21.1v21.1h-21.1zM1447.9 1763.2h21.1v21.1h-21.1zM363.7 1783.7h21.1v21.1h-21.1zM1325.2 1783.7h21.1v21.1h-21.1zM1468.4 1783.7h21.1v21.1h-21.1zM363.7 1804.2h21.1v21.1h-21.1zM302.3 1824.6h21.1v21.1h-21.1zM322.8 1824.6h21.1v21.1h-21.1zM343.2 1824.6h21.1v21.1h-21.1zM200.0 1845.1h21.1v21.1h-21.1zM1529.8 1845.1h21.1v21.1h-21.1zM240.9 1865.5h21.1v21.1h-21.1zM609.2 1865.5h21.1v21.1h-21.1zM1570.7 1865.5h21.1v21.1h-21.1zM711.5 1886.0h21.1v21.1h-21.1zM179.6 1906.4h21.1v21.1h-21.1zM200.0 1906.4h21.1v21.1h-21.1zM752.4 1906.4h21.1v21.1h-21.1zM1325.2 1906.4h21.1v21.1h-21.1zM159.1 1926.9h21.1v21.1h-21.1zM179.6 1926.9h21.1v21.1h-21.1zM200.0 1926.9h21.1v21.1h-21.1zM772.8 1926.9h21.1v21.1h-21.1zM793.3 1926.9h21.1v21.1h-21.1zM813.8 1926.9h21.1v21.1h-21.1zM834.2 1947.4h21.1v21.1h-21.1zM854.7 1967.8h21.1v21.1h-21.1zM916.0 1967.8h21.1v21.1h-21.1zM936.5 1967.8h21.1v21.1h-21.1zM957.0 1967.8h21.1v21.1h-21.1zM997.9 1967.8h21.1v21.1h-21.1zM1018.3 1967.8h21.1v21.1h-21.1zM1038.8 1967.8h21.1v21.1h-21.1zM1059.2 1967.8h21.1v21.1h-21.1zM1079.7 1967.8h21.1v21.1h-21.1zM1100.2 1967.8h21.1v21.1h-21.1zM1120.6 1967.8h21.1v21.1h-21.1zM1284.3 1967.8h21.1v21.1h-21.1zM895.6 1988.3h21.1v21.1h-21.1zM1141.1 1988.3h21.1v21.1h-21.1zM1693.4 1988.3h21.1v21.1h-21.1zM1713.9 1988.3h21.1v21.1h-21.1zM1734.3 1988.3h21.1v21.1h-21.1zM875.1 2049.7h21.1v21.1h-21.1zM895.6 2049.7h21.1v21.1h-21.1zM936.5 2049.7h21.1v21.1h-21.1zM957.0 2049.7h21.1v21.1h-21.1zM977.4 2049.7h21.1v21.1h-21.1zM997.9 2049.7h21.1v21.1h-21.1zM1018.3 2049.7h21.1v21.1h-21.1zM1038.8 2049.7h21.1v21.1h-21.1zM1059.2 2049.7h21.1v21.1h-21.1zM1141.1 2049.7h21.1v21.1h-21.1zM1079.7 2070.1h21.1v21.1h-21.1zM1100.2 2070.1h21.1v21.1h-21.1zM1120.6 2070.1h21.1v21.1h-21.1zM1141.1 2070.1h21.1v21.1h-21.1zM1325.2 2070.1h21.1v21.1h-21.1zM813.8 2090.6h21.1v21.1h-21.1zM1079.7 2090.6h21.1v21.1h-21.1zM1100.2 2090.6h21.1v21.1h-21.1zM1141.1 2090.6h21.1v21.1h-21.1zM793.3 2111.0h21.1v21.1h-21.1zM1079.7 2111.0h21.1v21.1h-21.1zM1345.7 2111.0h21.1v21.1h-21.1zM772.8 2131.5h21.1v21.1h-21.1zM1059.2 2131.5h21.1v21.1h-21.1zM1182.0 2151.9h21.1v21.1h-21.1zM752.4 2172.4h21.1v21.1h-21.1zM1407.0 2192.9h21.1v21.1h-21.1zM1182.0 2213.3h21.1v21.1h-21.1zM1079.7 2254.2h21.1v21.1h-21.1zM711.5 2274.7h21.1v21.1h-21.1zM1120.6 2274.7h21.1v21.1h-21.1zM1141.1 2274.7h21.1v21.1h-21.1zM670.6 2315.6h21.1v21.1h-21.1zM650.1 2377.0h21.1v21.1h-21.1zM1161.5 2377.0h21.1v21.1h-21.1zM1141.1 2438.3h21.1v21.1h-21.1zM1120.6 2479.3h21.1v21.1h-21.1zM568.3 2561.1h21.1v21.1h-21.1zM200.0 2642.9h21.1v21.1h-21.1zM1018.3 2765.7h21.1v21.1h-21.1zM1427.5 2765.7h21.1v21.1h-21.1zM322.8 2786.1h21.1v21.1h-21.1zM343.2 2786.1h21.1v21.1h-21.1zM404.6 2786.1h21.1v21.1h-21.1zM1038.8 2806.6h21.1v21.1h-21.1zM486.4 2827.0h21.1v21.1h-21.1zM506.9 2827.0h21.1v21.1h-21.1zM1059.2 2827.0h21.1v21.1h-21.1zM547.8 2847.5h21.1v21.1h-21.1zM1079.7 2868.0h21.1v21.1h-21.1zM1243.4 2868.0h21.1v21.1h-21.1zM466.0 2888.4h21.1v21.1h-21.1zM1100.2 2888.4h21.1v21.1h-21.1zM425.1 2908.9h21.1v21.1h-21.1zM445.5 2908.9h21.1v21.1h-21.1zM609.2 2908.9h21.1v21.1h-21.1zM1120.6 2908.9h21.1v21.1h-21.1zM1202.4 2908.9h21.1v21.1h-21.1zM609.2 2929.3h21.1v21.1h-21.1zM568.3 2949.8h21.1v21.1h-21.1zM527.4 2970.2h21.1v21.1h-21.1z"/>
<path fill="#a6c320" d="M1304.7 1722.3h21.1v21.1h-21.1zM1386.6 1722.3h21.1v21.1h-21.1zM425.1 1742.8h21.1v21.1h-21.1zM445.5 1742.8h21.1v21.1h-21.1zM1304.7 1742.8h21.1v21.1h-21.1zM1427.5 1742.8h21.1v21.1h-21.1zM363.7 1763.2h21.1v21.1h-21.1zM343.2 1804.2h21.1v21.1h-21.1zM1325.2 1804.2h21.1v21.1h-21.1zM1488.9 1804.2h21.1v21.1h-21.1zM1325.2 1824.6h21.1v21.1h-21.1zM1509.3 1824.6h21.1v21.1h-21.1zM118.2 1845.1h21.1v21.1h-21.1zM138.7 1845.1h21.1v21.1h-21.1zM159.1 1845.1h21.1v21.1h-21.1zM179.6 1845.1h21.1v21.1h-21.1zM220.5 1845.1h21.1v21.1h-21.1zM1550.2 1845.1h21.1v21.1h-21.1zM1325.2 1865.5h21.1v21.1h-21.1zM731.9 1886.0h21.1v21.1h-21.1zM752.4 1886.0h21.1v21.1h-21.1zM834.2 1886.0h21.1v21.1h-21.1zM854.7 1886.0h21.1v21.1h-21.1zM1325.2 1886.0h21.1v21.1h-21.1zM772.8 1906.4h21.1v21.1h-21.1zM793.3 1906.4h21.1v21.1h-21.1zM813.8 1906.4h21.1v21.1h-21.1zM834.2 1906.4h21.1v21.1h-21.1zM854.7 1906.4h21.1v21.1h-21.1zM834.2 1926.9h21.1v21.1h-21.1zM854.7 1926.9h21.1v21.1h-21.1zM1304.7 1926.9h21.1v21.1h-21.1zM854.7 1947.4h21.1v21.1h-21.1zM957.0 1947.4h21.1v21.1h-21.1zM875.1 1967.8h21.1v21.1h-21.1zM895.6 1967.8h21.1v21.1h-21.1zM1141.1 1967.8h21.1v21.1h-21.1zM1161.5 1988.3h21.1v21.1h-21.1zM1263.8 1988.3h21.1v21.1h-21.1zM1161.5 2008.7h21.1v21.1h-21.1zM1263.8 2008.7h21.1v21.1h-21.1zM1161.5 2029.2h21.1v21.1h-21.1zM916.0 2049.7h21.1v21.1h-21.1zM1161.5 2049.7h21.1v21.1h-21.1zM1284.3 2049.7h21.1v21.1h-21.1zM854.7 2070.1h21.1v21.1h-21.1zM977.4 2070.1h21.1v21.1h-21.1zM997.9 2070.1h21.1v21.1h-21.1zM1018.3 2070.1h21.1v21.1h-21.1zM1038.8 2070.1h21.1v21.1h-21.1zM1059.2 2070.1h21.1v21.1h-21.1zM1161.5 2070.1h21.1v21.1h-21.1zM1304.7 2070.1h21.1v21.1h-21.1zM1059.2 2090.6h21.1v21.1h-21.1zM1161.5 2090.6h21.1v21.1h-21.1zM1325.2 2090.6h21.1v21.1h-21.1zM1059.2 2111.0h21.1v21.1h-21.1zM1182.0 2111.0h21.1v21.1h-21.1zM1182.0 2131.5h21.1v21.1h-21.1zM1345.7 2131.5h21.1v21.1h-21.1zM772.8 2151.9h21.1v21.1h-21.1zM1366.1 2151.9h21.1v21.1h-21.1zM1386.6 2172.4h21.1v21.1h-21.1zM1059.2 2233.8h21.1v21.1h-21.1zM1386.6 2233.8h21.1v21.1h-21.1zM752.4 2254.2h21.1v21.1h-21.1zM1100.2 2274.7h21.1v21.1h-21.1zM1345.7 2274.7h21.1v21.1h-21.1zM691.0 2295.1h21.1v21.1h-21.1zM1284.3 2295.1h21.1v21.1h-21.1zM1222.9 2315.6h21.1v21.1h-21.1zM1182.0 2336.1h21.1v21.1h-21.1zM1141.1 2417.9h21.1v21.1h-21.1zM118.2 2438.3h21.1v21.1h-21.1zM609.2 2458.8h21.1v21.1h-21.1zM588.7 2499.7h21.1v21.1h-21.1zM1079.7 2540.6h21.1v21.1h-21.1zM179.6 2581.5h21.1v21.1h-21.1zM568.3 2581.5h21.1v21.1h-21.1zM1059.2 2581.5h21.1v21.1h-21.1zM547.8 2622.5h21.1v21.1h-21.1zM527.4 2663.4h21.1v21.1h-21.1zM997.9 2683.8h21.1v21.1h-21.1zM1529.8 2683.8h21.1v21.1h-21.1zM118.2 2704.3h21.1v21.1h-21.1zM138.7 2704.3h21.1v21.1h-21.1zM220.5 2704.3h21.1v21.1h-21.1zM506.9 2704.3h21.1v21.1h-21.1zM118.2 2724.8h21.1v21.1h-21.1zM138.7 2724.8h21.1v21.1h-21.1zM159.1 2724.8h21.1v21.1h-21.1zM1468.4 2745.2h21.1v21.1h-21.1zM363.7 2786.1h21.1v21.1h-21.1zM384.1 2786.1h21.1v21.1h-21.1zM1386.6 2786.1h21.1v21.1h-21.1zM445.5 2806.6h21.1v21.1h-21.1zM506.9 2806.6h21.1v21.1h-21.1zM466.0 2827.0h21.1v21.1h-21.1zM527.4 2827.0h21.1v21.1h-21.1zM1325.2 2827.0h21.1v21.1h-21.1zM466.0 2847.5h21.1v21.1h-21.1zM568.3 2847.5h21.1v21.1h-21.1zM466.0 2868.0h21.1v21.1h-21.1zM588.7 2868.0h21.1v21.1h-21.1zM445.5 2888.4h21.1v21.1h-21.1zM609.2 2888.4h21.1v21.1h-21.1zM1079.7 2888.4h21.1v21.1h-21.1zM1100.2 2908.9h21.1v21.1h-21.1zM588.7 2949.8h21.1v21.1h-21.1zM486.4 2970.2h21.1v21.1h-21.1zM547.8 2970.2h21.1v21.1h-21.1zM895.6 3093.0h21.1v21.1h-21.1z"/>
<path fill="#acbe20" d="M1304.7 1701.9h21.1v21.1h-21.1zM1325.2 1701.9h21.1v21.1h-21.1zM1345.7 1701.9h21.1v21.1h-21.1zM1366.1 1701.9h21.1v21.1h-21.1zM1284.3 1722.3h21.1v21.1h-21.1zM1407.0 1722.3h21.1v21.1h-21.1zM384.1 1742.8h21.1v21.1h-21.1zM404.6 1742.8h21.1v21.1h-21.1zM466.0 1742.8h21.1v21.1h-21.1zM506.9 1763.2h21.1v21.1h-21.1zM1304.7 1763.2h21.1v21.1h-21.1zM1468.4 1763.2h21.1v21.1h-21.1zM343.2 1783.7h21.1v21.1h-21.1zM527.4 1783.7h21.1v21.1h-21.1zM1488.9 1783.7h21.1v21.1h-21.1zM322.8 1804.2h21.1v21.1h-21.1zM547.8 1804.2h21.1v21.1h-21.1zM568.3 1824.6h21.1v21.1h-21.1zM1529.8 1824.6h21.1v21.1h-21.1zM240.9 1845.1h21.1v21.1h-21.1zM261.4 1845.1h21.1v21.1h-21.1zM588.7 1845.1h21.1v21.1h-21.1zM1325.2 1845.1h21.1v21.1h-21.1zM629.6 1865.5h21.1v21.1h-21.1zM772.8 1886.0h21.1v21.1h-21.1zM793.3 1886.0h21.1v21.1h-21.1zM813.8 1886.0h21.1v21.1h-21.1zM875.1 1886.0h21.1v21.1h-21.1zM875.1 1906.4h21.1v21.1h-21.1zM1304.7 1906.4h21.1v21.1h-21.1zM875.1 1926.9h21.1v21.1h-21.1zM895.6 1926.9h21.1v21.1h-21.1zM1632.1 1926.9h21.1v21.1h-21.1zM875.1 1947.4h21.1v21.1h-21.1zM895.6 1947.4h21.1v21.1h-21.1zM916.0 1947.4h21.1v21.1h-21.1zM936.5 1947.4h21.1v21.1h-21.1zM977.4 1947.4h21.1v21.1h-21.1zM997.9 1947.4h21.1v21.1h-21.1zM1018.3 1947.4h21.1v21.1h-21.1zM1079.7 1947.4h21.1v21.1h-21.1zM1100.2 1947.4h21.1v21.1h-21.1zM1120.6 1947.4h21.1v21.1h-21.1zM1141.1 1947.4h21.1v21.1h-21.1zM1284.3 1947.4h21.1v21.1h-21.1zM1161.5 1967.8h21.1v21.1h-21.1zM1263.8 1967.8h21.1v21.1h-21.1zM1182.0 2008.7h21.1v21.1h-21.1zM1182.0 2029.2h21.1v21.1h-21.1zM1263.8 2029.2h21.1v21.1h-21.1zM1182.0 2049.7h21.1v21.1h-21.1zM875.1 2070.1h21.1v21.1h-21.1zM895.6 2070.1h21.1v21.1h-21.1zM916.0 2070.1h21.1v21.1h-21.1zM936.5 2070.1h21.1v21.1h-21.1zM957.0 2070.1h21.1v21.1h-21.1zM1182.0 2070.1h21.1v21.1h-21.1zM834.2 2090.6h21.1v21.1h-21.1zM1018.3 2090.6h21.1v21.1h-21.1zM1038.8 2090.6h21.1v21.1h-21.1zM1182.0 2090.6h21.1v21.1h-21.1zM1304.7 2090.6h21.1v21.1h-21.1zM813.8 2111.0h21.1v21.1h-21.1zM1038.8 2111.0h21.1v21.1h-21.1zM1325.2 2111.0h21.1v21.1h-21.1zM793.3 2131.5h21.1v21.1h-21.1zM1325.2 2131.5h21.1v21.1h-21.1zM1038.8 2151.9h21.1v21.1h-21.1zM1345.7 2151.9h21.1v21.1h-21.1zM772.8 2172.4h21.1v21.1h-21.1zM1038.8 2172.4h21.1v21.1h-21.1zM1366.1 2172.4h21.1v21.1h-21.1zM772.8 2192.9h21.1v21.1h-21.1zM1386.6 2192.9h21.1v21.1h-21.1zM772.8 2213.3h21.1v21.1h-21.1zM1386.6 2213.3h21.1v21.1h-21.1zM772.8 2233.8h21.1v21.1h-21.1zM1182.0 2233.8h21.1v21.1h-21.1zM1366.1 2254.2h21.1v21.1h-21.1zM1161.5 2274.7h21.1v21.1h-21.1zM1263.8 2295.1h21.1v21.1h-21.1zM1202.4 2315.6h21.1v21.1h-21.1zM1161.5 2356.5h21.1v21.1h-21.1zM650.1 2397.4h21.1v21.1h-21.1zM1100.2 2499.7h21.1v21.1h-21.1zM1038.8 2602.0h21.1v21.1h-21.1zM1018.3 2622.5h21.1v21.1h-21.1zM1673.0 2622.5h21.1v21.1h-21.1zM997.9 2663.4h21.1v21.1h-21.1zM1591.1 2663.4h21.1v21.1h-21.1zM118.2 2683.8h21.1v21.1h-21.1zM138.7 2683.8h21.1v21.1h-21.1zM159.1 2704.3h21.1v21.1h-21.1zM179.6 2704.3h21.1v21.1h-21.1zM997.9 2704.3h21.1v21.1h-21.1zM179.6 2724.8h21.1v21.1h-21.1zM200.0 2724.8h21.1v21.1h-21.1zM220.5 2724.8h21.1v21.1h-21.1zM506.9 2724.8h21.1v21.1h-21.1zM118.2 2745.2h21.1v21.1h-21.1zM138.7 2745.2h21.1v21.1h-21.1zM159.1 2745.2h21.1v21.1h-21.1zM179.6 2745.2h21.1v21.1h-21.1zM220.5 2745.2h21.1v21.1h-21.1zM240.9 2745.2h21.1v21.1h-21.1zM506.9 2765.7h21.1v21.1h-21.1zM1447.9 2765.7h21.1v21.1h-21.1zM506.9 2786.1h21.1v21.1h-21.1zM1018.3 2786.1h21.1v21.1h-21.1zM1366.1 2806.6h21.1v21.1h-21.1zM1059.2 2847.5h21.1v21.1h-21.1zM1284.3 2847.5h21.1v21.1h-21.1zM1059.2 2868.0h21.1v21.1h-21.1zM629.6 2908.9h21.1v21.1h-21.1zM1079.7 2908.9h21.1v21.1h-21.1zM629.6 2929.3h21.1v21.1h-21.1zM1100.2 2929.3h21.1v21.1h-21.1zM1120.6 2929.3h21.1v21.1h-21.1zM1141.1 2929.3h21.1v21.1h-21.1zM1161.5 2929.3h21.1v21.1h-21.1zM609.2 2949.8h21.1v21.1h-21.1zM568.3 2970.2h21.1v21.1h-21.1zM527.4 2990.7h21.1v21.1h-21.1zM547.8 2990.7h21.1v21.1h-21.1zM916.0 3072.5h21.1v21.1h-21.1zM936.5 3072.5h21.1v21.1h-21.1zM957.0 3093.0h21.1v21.1h-21.1z"/>
<path fill="#b2b920" d="M1284.3 1701.9h21.1v21.1h-21.1zM1386.6 1701.9h21.1v21.1h-21.1zM1427.5 1722.3h21.1v21.1h-21.1zM486.4 1742.8h21.1v21.1h-21.1zM1284.3 1742.8h21.1v21.1h-21.1zM1447.9 1742.8h21.1v21.1h-21.1zM1304.7 1783.7h21.1v21.1h-21.1zM1509.3 1804.2h21.1v21.1h-21.1zM200.0 1824.6h21.1v21.1h-21.1zM1570.7 1845.1h21.1v21.1h-21.1zM650.1 1865.5h21.1v21.1h-21.1zM670.6 1865.5h21.1v21.1h-21.1zM691.0 1865.5h21.1v21.1h-21.1zM711.5 1865.5h21.1v21.1h-21.1zM731.9 1865.5h21.1v21.1h-21.1zM834.2 1865.5h21.1v21.1h-21.1zM854.7 1865.5h21.1v21.1h-21.1zM875.1 1865.5h21.1v21.1h-21.1zM1591.1 1865.5h21.1v21.1h-21.1zM895.6 1886.0h21.1v21.1h-21.1zM895.6 1906.4h21.1v21.1h-21.1zM916.0 1926.9h21.1v21.1h-21.1zM1120.6 1926.9h21.1v21.1h-21.1zM1284.3 1926.9h21.1v21.1h-21.1zM1038.8 1947.4h21.1v21.1h-21.1zM1059.2 1947.4h21.1v21.1h-21.1zM1161.5 1947.4h21.1v21.1h-21.1zM1182.0 1967.8h21.1v21.1h-21.1zM1673.0 1967.8h21.1v21.1h-21.1zM1693.4 1967.8h21.1v21.1h-21.1zM1713.9 1967.8h21.1v21.1h-21.1zM1734.3 1967.8h21.1v21.1h-21.1zM1182.0 1988.3h21.1v21.1h-21.1zM1243.4 1988.3h21.1v21.1h-21.1zM1202.4 2008.7h21.1v21.1h-21.1zM1243.4 2008.7h21.1v21.1h-21.1zM1202.4 2029.2h21.1v21.1h-21.1zM1243.4 2029.2h21.1v21.1h-21.1zM1202.4 2049.7h21.1v21.1h-21.1zM1263.8 2049.7h21.1v21.1h-21.1zM1202.4 2070.1h21.1v21.1h-21.1zM1284.3 2070.1h21.1v21.1h-21.1zM854.7 2090.6h21.1v21.1h-21.1zM977.4 2090.6h21.1v21.1h-21.1zM997.9 2090.6h21.1v21.1h-21.1zM1202.4 2090.6h21.1v21.1h-21.1zM1018.3 2111.0h21.1v21.1h-21.1zM1202.4 2111.0h21.1v21.1h-21.1zM1304.7 2111.0h21.1v21.1h-21.1zM1038.8 2131.5h21.1v21.1h-21.1zM1325.2 2151.9h21.1v21.1h-21.1zM1345.7 2172.4h21.1v21.1h-21.1zM1038.8 2192.9h21.1v21.1h-21.1zM1366.1 2192.9h21.1v21.1h-21.1zM1038.8 2213.3h21.1v21.1h-21.1zM1059.2 2254.2h21.1v21.1h-21.1zM1182.0 2254.2h21.1v21.1h-21.1zM731.9 2274.7h21.1v21.1h-21.1zM1079.7 2274.7h21.1v21.1h-21.1zM1325.2 2274.7h21.1v21.1h-21.1zM1120.6 2295.1h21.1v21.1h-21.1zM1141.1 2295.1h21.1v21.1h-21.1zM1161.5 2295.1h21.1v21.1h-21.1zM1182.0 2315.6h21.1v21.1h-21.1zM1161.5 2336.1h21.1v21.1h-21.1zM1141.1 2397.4h21.1v21.1h-21.1zM629.6 2438.3h21.1v21.1h-21.1zM1120.6 2458.8h21.1v21.1h-21.1zM159.1 2520.2h21.1v21.1h-21.1zM588.7 2520.2h21.1v21.1h-21.1zM1079.7 2520.2h21.1v21.1h-21.1zM1059.2 2561.1h21.1v21.1h-21.1zM568.3 2602.0h21.1v21.1h-21.1zM1693.4 2622.5h21.1v21.1h-21.1zM1713.9 2622.5h21.1v21.1h-21.1zM1734.3 2622.5h21.1v21.1h-21.1zM547.8 2642.9h21.1v21.1h-21.1zM997.9 2642.9h21.1v21.1h-21.1zM118.2 2663.4h21.1v21.1h-21.1zM200.0 2663.4h21.1v21.1h-21.1zM159.1 2683.8h21.1v21.1h-21.1zM179.6 2683.8h21.1v21.1h-21.1zM1550.2 2683.8h21.1v21.1h-21.1zM200.0 2704.3h21.1v21.1h-21.1zM1509.3 2704.3h21.1v21.1h-21.1zM997.9 2724.8h21.1v21.1h-21.1zM1488.9 2724.8h21.1v21.1h-21.1zM200.0 2745.2h21.1v21.1h-21.1zM506.9 2745.2h21.1v21.1h-21.1zM261.4 2765.7h21.1v21.1h-21.1zM1407.0 2786.1h21.1v21.1h-21.1zM425.1 2806.6h21.1v21.1h-21.1zM527.4 2806.6h21.1v21.1h-21.1zM445.5 2827.0h21.1v21.1h-21.1zM547.8 2827.0h21.1v21.1h-21.1zM1038.8 2827.0h21.1v21.1h-21.1zM445.5 2868.0h21.1v21.1h-21.1zM609.2 2868.0h21.1v21.1h-21.1zM1263.8 2868.0h21.1v21.1h-21.1zM425.1 2888.4h21.1v21.1h-21.1zM629.6 2888.4h21.1v21.1h-21.1zM1059.2 2888.4h21.1v21.1h-21.1zM1243.4 2888.4h21.1v21.1h-21.1zM1059.2 2908.9h21.1v21.1h-21.1zM1222.9 2908.9h21.1v21.1h-21.1zM425.1 2929.3h21.1v21.1h-21.1zM1079.7 2929.3h21.1v21.1h-21.1zM1182.0 2929.3h21.1v21.1h-21.1zM588.7 2970.2h21.1v21.1h-21.1z"/>
<path fill="#b8b420" d="M1304.7 1681.4h21.1v21.1h-21.1zM1325.2 1681.4h21.1v21.1h-21.1zM1263.8 1701.9h21.1v21.1h-21.1zM1407.0 1701.9h21.1v21.1h-21.1zM404.6 1722.3h21.1v21.1h-21.1zM425.1 1722.3h21.1v21.1h-21.1zM445.5 1722.3h21.1v21.1h-21.1zM466.0 1722.3h21.1v21.1h-21.1zM1263.8 1722.3h21.1v21.1h-21.1zM1468.4 1742.8h21.1v21.1h-21.1zM1488.9 1763.2h21.1v21.1h-21.1zM1304.7 1804.2h21.1v21.1h-21.1zM118.2 1824.6h21.1v21.1h-21.1zM138.7 1824.6h21.1v21.1h-21.1zM159.1 1824.6h21.1v21.1h-21.1zM179.6 1824.6h21.1v21.1h-21.1zM220.5 1824.6h21.1v21.1h-21.1zM281.9 1824.6h21.1v21.1h-21.1zM1550.2 1824.6h21.1v21.1h-21.1zM752.4 1865.5h21.1v21.1h-21.1zM772.8 1865.5h21.1v21.1h-21.1zM793.3 1865.5h21.1v21.1h-21.1zM813.8 1865.5h21.1v21.1h-21.1zM1304.7 1865.5h21.1v21.1h-21.1zM1304.7 1886.0h21.1v21.1h-21.1zM916.0 1906.4h21.1v21.1h-21.1zM936.5 1926.9h21.1v21.1h-21.1zM957.0 1926.9h21.1v21.1h-21.1zM1100.2 1926.9h21.1v21.1h-21.1zM1141.1 1926.9h21.1v21.1h-21.1zM1182.0 1947.4h21.1v21.1h-21.1zM1263.8 1947.4h21.1v21.1h-21.1zM1652.5 1947.4h21.1v21.1h-21.1zM1202.4 1967.8h21.1v21.1h-21.1zM1243.4 1967.8h21.1v21.1h-21.1zM1202.4 1988.3h21.1v21.1h-21.1zM1222.9 1988.3h21.1v21.1h-21.1zM1222.9 2008.7h21.1v21.1h-21.1zM1222.9 2029.2h21.1v21.1h-21.1zM1222.9 2049.7h21.1v21.1h-21.1zM1243.4 2049.7h21.1v21.1h-21.1zM1222.9 2070.1h21.1v21.1h-21.1zM1243.4 2070.1h21.1v21.1h-21.1zM1263.8 2070.1h21.1v21.1h-21.1zM875.1 2090.6h21.1v21.1h-21.1zM936.5 2090.6h21.1v21.1h-21.1zM957.0 2090.6h21.1v21.1h-21.1zM1222.9 2090.6h21.1v21.1h-21.1zM1243.4 2090.6h21.1v21.1h-21.1zM1263.8 2090.6h21.1v21.1h-21.1zM1284.3 2090.6h21.1v21.1h-21.1zM834.2 2111.0h21.1v21.1h-21.1zM997.9 2111.0h21.1v21.1h-21.1zM1284.3 2111.0h21.1v21.1h-21.1zM1018.3 2131.5h21.1v21.1h-21.1zM1202.4 2131.5h21.1v21.1h-21.1zM1304.7 2131.5h21.1v21.1h-21.1zM793.3 2151.9h21.1v21.1h-21.1zM1202.4 2151.9h21.1v21.1h-21.1zM1304.7 2151.9h21.1v21.1h-21.1zM1325.2 2172.4h21.1v21.1h-21.1zM1366.1 2213.3h21.1v21.1h-21.1zM1366.1 2233.8h21.1v21.1h-21.1zM772.8 2254.2h21.1v21.1h-21.1zM1182.0 2274.7h21.1v21.1h-21.1zM936.5 2295.1h21.1v21.1h-21.1zM1100.2 2295.1h21.1v21.1h-21.1zM1182.0 2295.1h21.1v21.1h-21.1zM1202.4 2295.1h21.1v21.1h-21.1zM1222.9 2295.1h21.1v21.1h-21.1zM1243.4 2295.1h21.1v21.1h-21.1zM1141.1 2315.6h21.1v21.1h-21.1zM1161.5 2315.6h21.1v21.1h-21.1zM670.6 2336.1h21.1v21.1h-21.1zM1141.1 2377.0h21.1v21.1h-21.1zM118.2 2458.8h21.1v21.1h-21.1zM138.7 2479.3h21.1v21.1h-21.1zM588.7 2540.6h21.1v21.1h-21.1zM179.6 2602.0h21.1v21.1h-21.1zM1018.3 2602.0h21.1v21.1h-21.1zM568.3 2622.5h21.1v21.1h-21.1zM1652.5 2642.9h21.1v21.1h-21.1zM138.7 2663.4h21.1v21.1h-21.1zM159.1 2663.4h21.1v21.1h-21.1zM1611.6 2663.4h21.1v21.1h-21.1zM200.0 2683.8h21.1v21.1h-21.1zM527.4 2683.8h21.1v21.1h-21.1zM997.9 2745.2h21.1v21.1h-21.1zM322.8 2806.6h21.1v21.1h-21.1zM1018.3 2806.6h21.1v21.1h-21.1zM1345.7 2827.0h21.1v21.1h-21.1zM445.5 2847.5h21.1v21.1h-21.1zM588.7 2847.5h21.1v21.1h-21.1zM1038.8 2847.5h21.1v21.1h-21.1zM404.6 2888.4h21.1v21.1h-21.1zM404.6 2908.9h21.1v21.1h-21.1zM1059.2 2929.3h21.1v21.1h-21.1zM445.5 2949.8h21.1v21.1h-21.1zM629.6 2949.8h21.1v21.1h-21.1zM568.3 2990.7h21.1v21.1h-21.1zM895.6 3113.4h21.1v21.1h-21.1zM957.0 3113.4h21.1v21.1h-21.1z"/>
<path fill="#beaf20" d="M1284.3 1681.4h21.1v21.1h-21.1zM1345.7 1681.4h21.1v21.1h-21.1zM1366.1 1681.4h21.1v21.1h-21.1zM1447.9 1722.3h21.1v21.1h-21.1zM363.7 1742.8h21.1v21.1h-21.1zM506.9 1742.8h21.1v21.1h-21.1zM343.2 1763.2h21.1v21.1h-21.1zM527.4 1763.2h21.1v21.1h-21.1zM1284.3 1763.2h21.1v21.1h-21.1zM322.8 1783.7h21.1v21.1h-21.1zM547.8 1783.7h21.1v21.1h-21.1zM1509.3 1783.7h21.1v21.1h-21.1zM568.3 1804.2h21.1v21.1h-21.1zM1529.8 1804.2h21.1v21.1h-21.1zM240.9 1824.6h21.1v21.1h-21.1zM1304.7 1824.6h21.1v21.1h-21.1zM609.2 1845.1h21.1v21.1h-21.1zM1304.7 1845.1h21.1v21.1h-21.1zM895.6 1865.5h21.1v21.1h-21.1zM1611.6 1886.0h21.1v21.1h-21.1zM1120.6 1906.4h21.1v21.1h-21.1zM1141.1 1906.4h21.1v21.1h-21.1zM1284.3 1906.4h21.1v21.1h-21.1zM977.4 1926.9h21.1v21.1h-21.1zM1079.7 1926.9h21.1v21.1h-21.1zM1161.5 1926.9h21.1v21.1h-21.1zM1263.8 1926.9h21.1v21.1h-21.1zM1202.4 1947.4h21.1v21.1h-21.1zM1243.4 1947.4h21.1v21.1h-21.1zM1673.0 1947.4h21.1v21.1h-21.1zM1693.4 1947.4h21.1v21.1h-21.1zM1713.9 1947.4h21.1v21.1h-21.1zM1734.3 1947.4h21.1v21.1h-21.1zM1222.9 1967.8h21.1v21.1h-21.1zM895.6 2090.6h21.1v21.1h-21.1zM916.0 2090.6h21.1v21.1h-21.1zM957.0 2111.0h21.1v21.1h-21.1zM977.4 2111.0h21.1v21.1h-21.1zM1222.9 2111.0h21.1v21.1h-21.1zM1243.4 2111.0h21.1v21.1h-21.1zM1263.8 2111.0h21.1v21.1h-21.1zM813.8 2131.5h21.1v21.1h-21.1zM997.9 2131.5h21.1v21.1h-21.1zM1284.3 2131.5h21.1v21.1h-21.1zM1018.3 2151.9h21.1v21.1h-21.1zM793.3 2172.4h21.1v21.1h-21.1zM1018.3 2172.4h21.1v21.1h-21.1zM1202.4 2172.4h21.1v21.1h-21.1zM1304.7 2172.4h21.1v21.1h-21.1zM793.3 2192.9h21.1v21.1h-21.1zM1202.4 2192.9h21.1v21.1h-21.1zM1345.7 2192.9h21.1v21.1h-21.1zM793.3 2213.3h21.1v21.1h-21.1zM793.3 2233.8h21.1v21.1h-21.1zM1038.8 2233.8h21.1v21.1h-21.1zM1345.7 2254.2h21.1v21.1h-21.1zM752.4 2274.7h21.1v21.1h-21.1zM936.5 2274.7h21.1v21.1h-21.1zM957.0 2274.7h21.1v21.1h-21.1zM1304.7 2274.7h21.1v21.1h-21.1zM957.0 2295.1h21.1v21.1h-21.1zM1120.6 2315.6h21.1v21.1h-21.1zM1141.1 2336.1h21.1v21.1h-21.1zM1141.1 2356.5h21.1v21.1h-21.1zM609.2 2479.3h21.1v21.1h-21.1zM1100.2 2479.3h21.1v21.1h-21.1zM1059.2 2540.6h21.1v21.1h-21.1zM588.7 2561.1h21.1v21.1h-21.1zM588.7 2581.5h21.1v21.1h-21.1zM1038.8 2581.5h21.1v21.1h-21.1zM997.9 2622.5h21.1v21.1h-21.1zM118.2 2642.9h21.1v21.1h-21.1zM138.7 2642.9h21.1v21.1h-21.1zM179.6 2663.4h21.1v21.1h-21.1zM547.8 2663.4h21.1v21.1h-21.1zM118.2 2765.7h21.1v21.1h-21.1zM138.7 2765.7h21.1v21.1h-21.1zM159.1 2765.7h21.1v21.1h-21.1zM179.6 2765.7h21.1v21.1h-21.1zM200.0 2765.7h21.1v21.1h-21.1zM220.5 2765.7h21.1v21.1h-21.1zM240.9 2765.7h21.1v21.1h-21.1zM281.9 2786.1h21.1v21.1h-21.1zM527.4 2786.1h21.1v21.1h-21.1zM343.2 2806.6h21.1v21.1h-21.1zM404.6 2806.6h21.1v21.1h-21.1zM1386.6 2806.6h21.1v21.1h-21.1zM425.1 2827.0h21.1v21.1h-21.1zM568.3 2827.0h21.1v21.1h-21.1zM1304.7 2847.5h21.1v21.1h-21.1zM425.1 2868.0h21.1v21.1h-21.1zM1038.8 2868.0h21.1v21.1h-21.1zM1038.8 2888.4h21.1v21.1h-21.1zM650.1 2908.9h21.1v21.1h-21.1zM1038.8 2908.9h21.1v21.1h-21.1zM650.1 2929.3h21.1v21.1h-21.1zM1100.2 2949.8h21.1v21.1h-21.1zM1120.6 2949.8h21.1v21.1h-21.1zM609.2 2970.2h21.1v21.1h-21.1zM506.9 2990.7h21.1v21.1h-21.1zM936.5 3052.1h21.1v21.1h-21.1z"/>
<path fill="#c4aa20" d="M1263.8 1681.4h21.1v21.1h-21.1zM1386.6 1681.4h21.1v21.1h-21.1zM425.1 1701.9h21.1v21.1h-21.1zM445.5 1701.9h21.1v21.1h-21.1zM1243.4 1701.9h21.1v21.1h-21.1zM1427.5 1701.9h21.1v21.1h-21.1zM384.1 1722.3h21.1v21.1h-21.1zM486.4 1722.3h21.1v21.1h-21.1zM1243.4 1722.3h21.1v21.1h-21.1zM1263.8 1742.8h21.1v21.1h-21.1zM1284.3 1783.7h21.1v21.1h-21.1zM302.3 1804.2h21.1v21.1h-21.1zM261.4 1824.6h21.1v21.1h-21.1zM588.7 1824.6h21.1v21.1h-21.1zM1713.9 1865.5h21.1v21.1h-21.1zM1734.3 1865.5h21.1v21.1h-21.1zM916.0 1886.0h21.1v21.1h-21.1zM1120.6 1886.0h21.1v21.1h-21.1zM1141.1 1886.0h21.1v21.1h-21.1zM1284.3 1886.0h21.1v21.1h-21.1zM1693.4 1886.0h21.1v21.1h-21.1zM1713.9 1886.0h21.1v21.1h-21.1zM1734.3 1886.0h21.1v21.1h-21.1zM936.5 1906.4h21.1v21.1h-21.1zM1100.2 1906.4h21.1v21.1h-21.1zM1161.5 1906.4h21.1v21.1h-21.1zM1713.9 1906.4h21.1v21.1h-21.1zM1734.3 1906.4h21.1v21.1h-21.1zM997.9 1926.9h21.1v21.1h-21.1zM1018.3 1926.9h21.1v21.1h-21.1zM1038.8 1926.9h21.1v21.1h-21.1zM1059.2 1926.9h21.1v21.1h-21.1zM1182.0 1926.9h21.1v21.1h-21.1zM1693.4 1926.9h21.1v21.1h-21.1zM1713.9 1926.9h21.1v21.1h-21.1zM1734.3 1926.9h21.1v21.1h-21.1zM1222.9 1947.4h21.1v21.1h-21.1zM854.7 2111.0h21.1v21.1h-21.1zM936.5 2111.0h21.1v21.1h-21.1zM977.4 2131.5h21.1v21.1h-21.1zM1222.9 2131.5h21.1v21.1h-21.1zM1263.8 2131.5h21.1v21.1h-21.1zM813.8 2151.9h21.1v21.1h-21.1zM997.9 2151.9h21.1v21.1h-21.1zM1284.3 2151.9h21.1v21.1h-21.1zM1018.3 2192.9h21.1v21.1h-21.1zM1325.2 2192.9h21.1v21.1h-21.1zM1202.4 2213.3h21.1v21.1h-21.1zM1345.7 2213.3h21.1v21.1h-21.1zM1202.4 2233.8h21.1v21.1h-21.1zM1345.7 2233.8h21.1v21.1h-21.1zM793.3 2254.2h21.1v21.1h-21.1zM1038.8 2254.2h21.1v21.1h-21.1zM1202.4 2254.2h21.1v21.1h-21.1zM1325.2 2254.2h21.1v21.1h-21.1zM1059.2 2274.7h21.1v21.1h-21.1zM1202.4 2274.7h21.1v21.1h-21.1zM1284.3 2274.7h21.1v21.1h-21.1zM711.5 2295.1h21.1v21.1h-21.1zM1079.7 2295.1h21.1v21.1h-21.1zM650.1 2417.9h21.1v21.1h-21.1zM1120.6 2438.3h21.1v21.1h-21.1zM1079.7 2499.7h21.1v21.1h-21.1zM159.1 2540.6h21.1v21.1h-21.1zM588.7 2602.0h21.1v21.1h-21.1zM179.6 2622.5h21.1v21.1h-21.1zM588.7 2622.5h21.1v21.1h-21.1zM159.1 2642.9h21.1v21.1h-21.1zM179.6 2642.9h21.1v21.1h-21.1zM568.3 2642.9h21.1v21.1h-21.1zM1632.1 2663.4h21.1v21.1h-21.1zM1570.7 2683.8h21.1v21.1h-21.1zM527.4 2704.3h21.1v21.1h-21.1zM997.9 2765.7h21.1v21.1h-21.1zM1468.4 2765.7h21.1v21.1h-21.1zM1427.5 2786.1h21.1v21.1h-21.1zM363.7 2806.6h21.1v21.1h-21.1zM384.1 2806.6h21.1v21.1h-21.1zM547.8 2806.6h21.1v21.1h-21.1zM1018.3 2827.0h21.1v21.1h-21.1zM425.1 2847.5h21.1v21.1h-21.1zM609.2 2847.5h21.1v21.1h-21.1zM629.6 2868.0h21.1v21.1h-21.1zM650.1 2888.4h21.1v21.1h-21.1zM1038.8 2929.3h21.1v21.1h-21.1zM1202.4 2929.3h21.1v21.1h-21.1zM1059.2 2949.8h21.1v21.1h-21.1zM1079.7 2949.8h21.1v21.1h-21.1zM1141.1 2949.8h21.1v21.1h-21.1zM466.0 2970.2h21.1v21.1h-21.1zM588.7 2990.7h21.1v21.1h-21.1zM568.3 3011.2h21.1v21.1h-21.1zM916.0 3052.1h21.1v21.1h-21.1zM895.6 3072.5h21.1v21.1h-21.1zM957.0 3072.5h21.1v21.1h-21.1z"/>
<path fill="#caa520" d="M1304.7 1661.0h21.1v21.1h-21.1zM1243.4 1681.4h21.1v21.1h-21.1zM1407.0 1681.4h21.1v21.1h-21.1zM466.0 1701.9h21.1v21.1h-21.1zM1222.9 1701.9h21.1v21.1h-21.1zM1468.4 1722.3h21.1v21.1h-21.1zM1488.9 1742.8h21.1v21.1h-21.1zM1509.3 1763.2h21.1v21.1h-21.1zM179.6 1804.2h21.1v21.1h-21.1zM200.0 1804.2h21.1v21.1h-21.1zM1284.3 1804.2h21.1v21.1h-21.1zM711.5 1845.1h21.1v21.1h-21.1zM731.9 1845.1h21.1v21.1h-21.1zM752.4 1845.1h21.1v21.1h-21.1zM834.2 1845.1h21.1v21.1h-21.1zM854.7 1845.1h21.1v21.1h-21.1zM875.1 1845.1h21.1v21.1h-21.1zM1713.9 1845.1h21.1v21.1h-21.1zM1734.3 1845.1h21.1v21.1h-21.1zM1673.0 1865.5h21.1v21.1h-21.1zM1693.4 1865.5h21.1v21.1h-21.1zM1673.0 1886.0h21.1v21.1h-21.1zM1079.7 1906.4h21.1v21.1h-21.1zM1263.8 1906.4h21.1v21.1h-21.1zM1632.1 1906.4h21.1v21.1h-21.1zM1652.5 1906.4h21.1v21.1h-21.1zM1673.0 1906.4h21.1v21.1h-21.1zM1693.4 1906.4h21.1v21.1h-21.1zM1202.4 1926.9h21.1v21.1h-21.1zM1222.9 1926.9h21.1v21.1h-21.1zM1243.4 1926.9h21.1v21.1h-21.1zM1652.5 1926.9h21.1v21.1h-21.1zM1673.0 1926.9h21.1v21.1h-21.1zM875.1 2111.0h21.1v21.1h-21.1zM916.0 2111.0h21.1v21.1h-21.1zM834.2 2131.5h21.1v21.1h-21.1zM957.0 2131.5h21.1v21.1h-21.1zM1243.4 2131.5h21.1v21.1h-21.1zM1222.9 2151.9h21.1v21.1h-21.1zM1263.8 2151.9h21.1v21.1h-21.1zM813.8 2172.4h21.1v21.1h-21.1zM997.9 2172.4h21.1v21.1h-21.1zM1284.3 2172.4h21.1v21.1h-21.1zM1304.7 2192.9h21.1v21.1h-21.1zM813.8 2213.3h21.1v21.1h-21.1zM1018.3 2213.3h21.1v21.1h-21.1zM1325.2 2213.3h21.1v21.1h-21.1zM813.8 2233.8h21.1v21.1h-21.1zM916.0 2274.7h21.1v21.1h-21.1zM977.4 2274.7h21.1v21.1h-21.1zM1222.9 2274.7h21.1v21.1h-21.1zM1243.4 2274.7h21.1v21.1h-21.1zM1263.8 2274.7h21.1v21.1h-21.1zM916.0 2295.1h21.1v21.1h-21.1zM977.4 2295.1h21.1v21.1h-21.1zM691.0 2315.6h21.1v21.1h-21.1zM936.5 2315.6h21.1v21.1h-21.1zM957.0 2315.6h21.1v21.1h-21.1zM1100.2 2315.6h21.1v21.1h-21.1zM1120.6 2336.1h21.1v21.1h-21.1zM670.6 2356.5h21.1v21.1h-21.1zM118.2 2479.3h21.1v21.1h-21.1zM1059.2 2520.2h21.1v21.1h-21.1zM1038.8 2561.1h21.1v21.1h-21.1zM1018.3 2581.5h21.1v21.1h-21.1zM997.9 2602.0h21.1v21.1h-21.1zM118.2 2622.5h21.1v21.1h-21.1zM138.7 2622.5h21.1v21.1h-21.1zM159.1 2622.5h21.1v21.1h-21.1zM977.4 2642.9h21.1v21.1h-21.1zM977.4 2663.4h21.1v21.1h-21.1zM547.8 2683.8h21.1v21.1h-21.1zM977.4 2683.8h21.1v21.1h-21.1zM1529.8 2704.3h21.1v21.1h-21.1zM527.4 2724.8h21.1v21.1h-21.1zM1488.9 2745.2h21.1v21.1h-21.1zM527.4 2765.7h21.1v21.1h-21.1zM997.9 2786.1h21.1v21.1h-21.1zM302.3 2806.6h21.1v21.1h-21.1zM588.7 2827.0h21.1v21.1h-21.1zM1366.1 2827.0h21.1v21.1h-21.1zM1018.3 2847.5h21.1v21.1h-21.1zM404.6 2868.0h21.1v21.1h-21.1zM1018.3 2868.0h21.1v21.1h-21.1zM384.1 2888.4h21.1v21.1h-21.1zM1018.3 2888.4h21.1v21.1h-21.1zM650.1 2949.8h21.1v21.1h-21.1zM629.6 2970.2h21.1v21.1h-21.1zM547.8 3011.2h21.1v21.1h-21.1zM588.7 3011.2h21.1v21.1h-21.1zM916.0 3031.6h21.1v21.1h-21.1zM936.5 3031.6h21.1v21.1h-21.1zM957.0 3052.1h21.1v21.1h-21.1z"/>
<path fill="#d0a020" d="M466.0 1661.0h21.1v21.1h-21.1zM1284.3 1661.0h21.1v21.1h-21.1zM1325.2 1661.0h21.1v21.1h-21.1zM1345.7 1661.0h21.1v21.1h-21.1zM445.5 1681.4h21.1v21.1h-21.1zM466.0 1681.4h21.1v21.1h-21.1zM404.6 1701.9h21.1v21.1h-21.1zM486.4 1701.9h21.1v21.1h-21.1zM1447.9 1701.9h21.1v21.1h-21.1zM506.9 1722.3h21.1v21.1h-21.1zM1222.9 1722.3h21.1v21.1h-21.1zM527.4 1742.8h21.1v21.1h-21.1zM1243.4 1742.8h21.1v21.1h-21.1zM547.8 1763.2h21.1v21.1h-21.1zM1263.8 1763.2h21.1v21.1h-21.1zM568.3 1783.7h21.1v21.1h-21.1zM1529.8 1783.7h21.1v21.1h-21.1zM118.2 1804.2h21.1v21.1h-21.1zM138.7 1804.2h21.1v21.1h-21.1zM159.1 1804.2h21.1v21.1h-21.1zM220.5 1804.2h21.1v21.1h-21.1zM240.9 1804.2h21.1v21.1h-21.1zM1550.2 1804.2h21.1v21.1h-21.1zM1284.3 1824.6h21.1v21.1h-21.1zM1570.7 1824.6h21.1v21.1h-21.1zM629.6 1845.1h21.1v21.1h-21.1zM691.0 1845.1h21.1v21.1h-21.1zM772.8 1845.1h21.1v21.1h-21.1zM813.8 1845.1h21.1v21.1h-21.1zM895.6 1845.1h21.1v21.1h-21.1zM1284.3 1845.1h21.1v21.1h-21.1zM1673.0 1845.1h21.1v21.1h-21.1zM1693.4 1845.1h21.1v21.1h-21.1zM916.0 1865.5h21.1v21.1h-21.1zM1120.6 1865.5h21.1v21.1h-21.1zM1141.1 1865.5h21.1v21.1h-21.1zM1284.3 1865.5h21.1v21.1h-21.1zM1652.5 1865.5h21.1v21.1h-21.1zM1100.2 1886.0h21.1v21.1h-21.1zM1161.5 1886.0h21.1v21.1h-21.1zM1632.1 1886.0h21.1v21.1h-21.1zM1652.5 1886.0h21.1v21.1h-21.1zM957.0 1906.4h21.1v21.1h-21.1zM1182.0 1906.4h21.1v21.1h-21.1zM895.6 2111.0h21.1v21.1h-21.1zM936.5 2131.5h21.1v21.1h-21.1zM977.4 2151.9h21.1v21.1h-21.1zM1243.4 2151.9h21.1v21.1h-21.1zM1222.9 2172.4h21.1v21.1h-21.1zM1263.8 2172.4h21.1v21.1h-21.1zM813.8 2192.9h21.1v21.1h-21.1zM997.9 2192.9h21.1v21.1h-21.1zM1284.3 2192.9h21.1v21.1h-21.1zM1304.7 2213.3h21.1v21.1h-21.1zM1018.3 2233.8h21.1v21.1h-21.1zM1325.2 2233.8h21.1v21.1h-21.1zM813.8 2254.2h21.1v21.1h-21.1zM936.5 2254.2h21.1v21.1h-21.1zM957.0 2254.2h21.1v21.1h-21.1zM1018.3 2254.2h21.1v21.1h-21.1zM1304.7 2254.2h21.1v21.1h-21.1zM772.8 2274.7h21.1v21.1h-21.1zM1038.8 2274.7h21.1v21.1h-21.1zM1059.2 2295.1h21.1v21.1h-21.1zM1120.6 2356.5h21.1v21.1h-21.1zM1120.6 2397.4h21.1v21.1h-21.1zM1120.6 2417.9h21.1v21.1h-21.1zM629.6 2458.8h21.1v21.1h-21.1zM138.7 2499.7h21.1v21.1h-21.1zM609.2 2499.7h21.1v21.1h-21.1zM1038.8 2540.6h21.1v21.1h-21.1zM159.1 2561.1h21.1v21.1h-21.1zM159.1 2602.0h21.1v21.1h-21.1zM609.2 2602.0h21.1v21.1h-21.1zM609.2 2622.5h21.1v21.1h-21.1zM977.4 2622.5h21.1v21.1h-21.1zM588.7 2642.9h21.1v21.1h-21.1zM568.3 2663.4h21.1v21.1h-21.1zM1591.1 2683.8h21.1v21.1h-21.1zM977.4 2704.3h21.1v21.1h-21.1zM1509.3 2724.8h21.1v21.1h-21.1zM527.4 2745.2h21.1v21.1h-21.1zM118.2 2786.1h21.1v21.1h-21.1zM138.7 2786.1h21.1v21.1h-21.1zM159.1 2786.1h21.1v21.1h-21.1zM179.6 2786.1h21.1v21.1h-21.1zM200.0 2786.1h21.1v21.1h-21.1zM220.5 2786.1h21.1v21.1h-21.1zM240.9 2786.1h21.1v21.1h-21.1zM261.4 2786.1h21.1v21.1h-21.1zM568.3 2806.6h21.1v21.1h-21.1zM997.9 2806.6h21.1v21.1h-21.1zM343.2 2827.0h21.1v21.1h-21.1zM404.6 2827.0h21.1v21.1h-21.1zM404.6 2847.5h21.1v21.1h-21.1zM1325.2 2847.5h21.1v21.1h-21.1zM384.1 2868.0h21.1v21.1h-21.1zM1284.3 2868.0h21.1v21.1h-21.1zM1263.8 2888.4h21.1v21.1h-21.1zM670.6 2908.9h21.1v21.1h-21.1zM1018.3 2908.9h21.1v21.1h-21.1zM1243.4 2908.9h21.1v21.1h-21.1zM670.6 2929.3h21.1v21.1h-21.1zM1018.3 2929.3h21.1v21.1h-21.1zM404.6 2949.8h21.1v21.1h-21.1zM425.1 2949.8h21.1v21.1h-21.1zM1038.8 2949.8h21.1v21.1h-21.1zM1161.5 2949.8h21.1v21.1h-21.1zM404.6 2970.2h21.1v21.1h-21.1zM425.1 2970.2h21.1v21.1h-21.1zM445.5 2970.2h21.1v21.1h-21.1zM445.5 2990.7h21.1v21.1h-21.1zM466.0 2990.7h21.1v21.1h-21.1zM486.4 2990.7h21.1v21.1h-21.1zM609.2 2990.7h21.1v21.1h-21.1zM957.0 3031.6h21.1v21.1h-21.1zM895.6 3052.1h21.1v21.1h-21.1z"/>
<path fill="#d49a22" d="M486.4 1661.0h21.1v21.1h-21.1zM1263.8 1661.0h21.1v21.1h-21.1zM1366.1 1661.0h21.1v21.1h-21.1zM1386.6 1661.0h21.1v21.1h-21.1zM486.4 1681.4h21.1v21.1h-21.1zM1222.9 1681.4h21.1v21.1h-21.1zM1427.5 1681.4h21.1v21.1h-21.1zM1202.4 1701.9h21.1v21.1h-21.1zM1202.4 1722.3h21.1v21.1h-21.1zM343.2 1742.8h21.1v21.1h-21.1zM1263.8 1783.7h21.1v21.1h-21.1zM261.4 1804.2h21.1v21.1h-21.1zM588.7 1804.2h21.1v21.1h-21.1zM609.2 1824.6h21.1v21.1h-21.1zM1734.3 1824.6h21.1v21.1h-21.1zM650.1 1845.1h21.1v21.1h-21.1zM670.6 1845.1h21.1v21.1h-21.1zM793.3 1845.1h21.1v21.1h-21.1zM1591.1 1845.1h21.1v21.1h-21.1zM1652.5 1845.1h21.1v21.1h-21.1zM1611.6 1865.5h21.1v21.1h-21.1zM1632.1 1865.5h21.1v21.1h-21.1zM936.5 1886.0h21.1v21.1h-21.1zM1263.8 1886.0h21.1v21.1h-21.1zM1059.2 1906.4h21.1v21.1h-21.1zM1202.4 1906.4h21.1v21.1h-21.1zM1243.4 1906.4h21.1v21.1h-21.1zM854.7 2131.5h21.1v21.1h-21.1zM834.2 2151.9h21.1v21.1h-21.1zM957.0 2151.9h21.1v21.1h-21.1zM977.4 2172.4h21.1v21.1h-21.1zM1243.4 2172.4h21.1v21.1h-21.1zM1222.9 2192.9h21.1v21.1h-21.1zM997.9 2213.3h21.1v21.1h-21.1zM1284.3 2213.3h21.1v21.1h-21.1zM834.2 2233.8h21.1v21.1h-21.1zM997.9 2233.8h21.1v21.1h-21.1zM1304.7 2233.8h21.1v21.1h-21.1zM916.0 2254.2h21.1v21.1h-21.1zM977.4 2254.2h21.1v21.1h-21.1zM997.9 2254.2h21.1v21.1h-21.1zM1222.9 2254.2h21.1v21.1h-21.1zM1284.3 2254.2h21.1v21.1h-21.1zM793.3 2274.7h21.1v21.1h-21.1zM997.9 2274.7h21.1v21.1h-21.1zM1018.3 2274.7h21.1v21.1h-21.1zM731.9 2295.1h21.1v21.1h-21.1zM997.9 2295.1h21.1v21.1h-21.1zM1038.8 2295.1h21.1v21.1h-21.1zM977.4 2315.6h21.1v21.1h-21.1zM1079.7 2315.6h21.1v21.1h-21.1zM1100.2 2336.1h21.1v21.1h-21.1zM670.6 2377.0h21.1v21.1h-21.1zM1120.6 2377.0h21.1v21.1h-21.1zM650.1 2438.3h21.1v21.1h-21.1zM1100.2 2458.8h21.1v21.1h-21.1zM118.2 2499.7h21.1v21.1h-21.1zM1018.3 2561.1h21.1v21.1h-21.1zM159.1 2581.5h21.1v21.1h-21.1zM609.2 2581.5h21.1v21.1h-21.1zM997.9 2581.5h21.1v21.1h-21.1zM118.2 2602.0h21.1v21.1h-21.1zM138.7 2602.0h21.1v21.1h-21.1zM977.4 2602.0h21.1v21.1h-21.1zM629.6 2622.5h21.1v21.1h-21.1zM609.2 2642.9h21.1v21.1h-21.1zM629.6 2642.9h21.1v21.1h-21.1zM1673.0 2642.9h21.1v21.1h-21.1zM1693.4 2642.9h21.1v21.1h-21.1zM1713.9 2642.9h21.1v21.1h-21.1zM1734.3 2642.9h21.1v21.1h-21.1zM588.7 2663.4h21.1v21.1h-21.1zM977.4 2724.8h21.1v21.1h-21.1zM547.8 2786.1h21.1v21.1h-21.1zM1447.9 2786.1h21.1v21.1h-21.1zM1407.0 2806.6h21.1v21.1h-21.1zM322.8 2827.0h21.1v21.1h-21.1zM363.7 2827.0h21.1v21.1h-21.1zM384.1 2827.0h21.1v21.1h-21.1zM997.9 2827.0h21.1v21.1h-21.1zM629.6 2847.5h21.1v21.1h-21.1zM650.1 2868.0h21.1v21.1h-21.1zM670.6 2888.4h21.1v21.1h-21.1zM404.6 2929.3h21.1v21.1h-21.1zM384.1 2949.8h21.1v21.1h-21.1zM1018.3 2949.8h21.1v21.1h-21.1zM384.1 2970.2h21.1v21.1h-21.1zM650.1 2970.2h21.1v21.1h-21.1zM1079.7 2970.2h21.1v21.1h-21.1zM1100.2 2970.2h21.1v21.1h-21.1zM363.7 2990.7h21.1v21.1h-21.1zM384.1 2990.7h21.1v21.1h-21.1zM404.6 2990.7h21.1v21.1h-21.1zM425.1 2990.7h21.1v21.1h-21.1zM322.8 3011.2h21.1v21.1h-21.1zM343.2 3011.2h21.1v21.1h-21.1zM363.7 3011.2h21.1v21.1h-21.1zM425.1 3011.2h21.1v21.1h-21.1zM445.5 3011.2h21.1v21.1h-21.1zM466.0 3011.2h21.1v21.1h-21.1zM486.4 3011.2h21.1v21.1h-21.1zM527.4 3011.2h21.1v21.1h-21.1zM609.2 3011.2h21.1v21.1h-21.1zM916.0 3011.2h21.1v21.1h-21.1zM936.5 3011.2h21.1v21.1h-21.1zM322.8 3031.6h21.1v21.1h-21.1zM343.2 3031.6h21.1v21.1h-21.1zM363.7 3031.6h21.1v21.1h-21.1zM588.7 3031.6h21.1v21.1h-21.1zM895.6 3031.6h21.1v21.1h-21.1zM302.3 3052.1h21.1v21.1h-21.1zM322.8 3052.1h21.1v21.1h-21.1zM343.2 3052.1h21.1v21.1h-21.1zM363.7 3052.1h21.1v21.1h-21.1zM281.9 3072.5h21.1v21.1h-21.1zM302.3 3072.5h21.1v21.1h-21.1zM322.8 3072.5h21.1v21.1h-21.1zM343.2 3072.5h21.1v21.1h-21.1zM363.7 3072.5h21.1v21.1h-21.1zM240.9 3093.0h21.1v21.1h-21.1zM261.4 3093.0h21.1v21.1h-21.1zM281.9 3093.0h21.1v21.1h-21.1zM302.3 3093.0h21.1v21.1h-21.1zM363.7 3093.0h21.1v21.1h-21.1zM240.9 3113.4h21.1v21.1h-21.1zM261.4 3113.4h21.1v21.1h-21.1zM281.9 3113.4h21.1v21.1h-21.1zM302.3 3113.4h21.1v21.1h-21.1zM363.7 3113.4h21.1v21.1h-21.1z"/>
<path fill="#d89424" d="M118.2 1497.3h21.1v21.1h-21.1zM179.6 1620.0h21.1v21.1h-21.1zM200.0 1620.0h21.1v21.1h-21.1zM159.1 1640.5h21.1v21.1h-21.1zM179.6 1640.5h21.1v21.1h-21.1zM200.0 1640.5h21.1v21.1h-21.1zM220.5 1640.5h21.1v21.1h-21.1zM486.4 1640.5h21.1v21.1h-21.1zM159.1 1661.0h21.1v21.1h-21.1zM179.6 1661.0h21.1v21.1h-21.1zM200.0 1661.0h21.1v21.1h-21.1zM220.5 1661.0h21.1v21.1h-21.1zM240.9 1661.0h21.1v21.1h-21.1zM445.5 1661.0h21.1v21.1h-21.1zM425.1 1681.4h21.1v21.1h-21.1zM1202.4 1681.4h21.1v21.1h-21.1zM506.9 1701.9h21.1v21.1h-21.1zM1182.0 1701.9h21.1v21.1h-21.1zM363.7 1722.3h21.1v21.1h-21.1zM1182.0 1722.3h21.1v21.1h-21.1zM1222.9 1742.8h21.1v21.1h-21.1zM322.8 1763.2h21.1v21.1h-21.1zM1243.4 1763.2h21.1v21.1h-21.1zM118.2 1783.7h21.1v21.1h-21.1zM138.7 1783.7h21.1v21.1h-21.1zM159.1 1783.7h21.1v21.1h-21.1zM179.6 1783.7h21.1v21.1h-21.1zM200.0 1783.7h21.1v21.1h-21.1zM220.5 1783.7h21.1v21.1h-21.1zM240.9 1783.7h21.1v21.1h-21.1zM261.4 1783.7h21.1v21.1h-21.1zM281.9 1783.7h21.1v21.1h-21.1zM302.3 1783.7h21.1v21.1h-21.1zM281.9 1804.2h21.1v21.1h-21.1zM1693.4 1804.2h21.1v21.1h-21.1zM1713.9 1804.2h21.1v21.1h-21.1zM1734.3 1804.2h21.1v21.1h-21.1zM1611.6 1824.6h21.1v21.1h-21.1zM1632.1 1824.6h21.1v21.1h-21.1zM1652.5 1824.6h21.1v21.1h-21.1zM1673.0 1824.6h21.1v21.1h-21.1zM1693.4 1824.6h21.1v21.1h-21.1zM1713.9 1824.6h21.1v21.1h-21.1zM1120.6 1845.1h21.1v21.1h-21.1zM1141.1 1845.1h21.1v21.1h-21.1zM1611.6 1845.1h21.1v21.1h-21.1zM1632.1 1845.1h21.1v21.1h-21.1zM1100.2 1865.5h21.1v21.1h-21.1zM1161.5 1865.5h21.1v21.1h-21.1zM1079.7 1886.0h21.1v21.1h-21.1zM1182.0 1886.0h21.1v21.1h-21.1zM977.4 1906.4h21.1v21.1h-21.1zM997.9 1906.4h21.1v21.1h-21.1zM1038.8 1906.4h21.1v21.1h-21.1zM1222.9 1906.4h21.1v21.1h-21.1zM875.1 2131.5h21.1v21.1h-21.1zM895.6 2131.5h21.1v21.1h-21.1zM916.0 2131.5h21.1v21.1h-21.1zM936.5 2151.9h21.1v21.1h-21.1zM834.2 2172.4h21.1v21.1h-21.1zM957.0 2172.4h21.1v21.1h-21.1zM834.2 2192.9h21.1v21.1h-21.1zM977.4 2192.9h21.1v21.1h-21.1zM1243.4 2192.9h21.1v21.1h-21.1zM1263.8 2192.9h21.1v21.1h-21.1zM834.2 2213.3h21.1v21.1h-21.1zM1222.9 2213.3h21.1v21.1h-21.1zM957.0 2233.8h21.1v21.1h-21.1zM977.4 2233.8h21.1v21.1h-21.1zM1222.9 2233.8h21.1v21.1h-21.1zM1284.3 2233.8h21.1v21.1h-21.1zM834.2 2254.2h21.1v21.1h-21.1zM895.6 2254.2h21.1v21.1h-21.1zM1243.4 2254.2h21.1v21.1h-21.1zM1263.8 2254.2h21.1v21.1h-21.1zM895.6 2274.7h21.1v21.1h-21.1zM1018.3 2295.1h21.1v21.1h-21.1zM916.0 2315.6h21.1v21.1h-21.1zM997.9 2315.6h21.1v21.1h-21.1zM1059.2 2315.6h21.1v21.1h-21.1zM957.0 2336.1h21.1v21.1h-21.1zM670.6 2397.4h21.1v21.1h-21.1zM1079.7 2479.3h21.1v21.1h-21.1zM1059.2 2499.7h21.1v21.1h-21.1zM118.2 2520.2h21.1v21.1h-21.1zM138.7 2520.2h21.1v21.1h-21.1zM609.2 2520.2h21.1v21.1h-21.1zM1038.8 2520.2h21.1v21.1h-21.1zM118.2 2540.6h21.1v21.1h-21.1zM138.7 2540.6h21.1v21.1h-21.1zM609.2 2540.6h21.1v21.1h-21.1zM118.2 2561.1h21.1v21.1h-21.1zM138.7 2561.1h21.1v21.1h-21.1zM609.2 2561.1h21.1v21.1h-21.1zM997.9 2561.1h21.1v21.1h-21.1zM118.2 2581.5h21.1v21.1h-21.1zM138.7 2581.5h21.1v21.1h-21.1zM977.4 2581.5h21.1v21.1h-21.1zM629.6 2602.0h21.1v21.1h-21.1zM650.1 2622.5h21.1v21.1h-21.1zM650.1 2642.9h21.1v21.1h-21.1zM670.6 2642.9h21.1v21.1h-21.1zM691.0 2642.9h21.1v21.1h-21.1zM609.2 2663.4h21.1v21.1h-21.1zM629.6 2663.4h21.1v21.1h-21.1zM650.1 2663.4h21.1v21.1h-21.1zM670.6 2663.4h21.1v21.1h-21.1zM691.0 2663.4h21.1v21.1h-21.1zM711.5 2663.4h21.1v21.1h-21.1zM1652.5 2663.4h21.1v21.1h-21.1zM568.3 2683.8h21.1v21.1h-21.1zM1611.6 2683.8h21.1v21.1h-21.1zM547.8 2704.3h21.1v21.1h-21.1zM1550.2 2704.3h21.1v21.1h-21.1zM977.4 2745.2h21.1v21.1h-21.1zM118.2 2806.6h21.1v21.1h-21.1zM138.7 2806.6h21.1v21.1h-21.1zM159.1 2806.6h21.1v21.1h-21.1zM179.6 2806.6h21.1v21.1h-21.1zM200.0 2806.6h21.1v21.1h-21.1zM220.5 2806.6h21.1v21.1h-21.1zM240.9 2806.6h21.1v21.1h-21.1zM261.4 2806.6h21.1v21.1h-21.1zM281.9 2806.6h21.1v21.1h-21.1zM609.2 2827.0h21.1v21.1h-21.1zM343.2 2847.5h21.1v21.1h-21.1zM363.7 2847.5h21.1v21.1h-21.1zM384.1 2847.5h21.1v21.1h-21.1zM997.9 2847.5h21.1v21.1h-21.1zM363.7 2868.0h21.1v21.1h-21.1zM997.9 2868.0h21.1v21.1h-21.1zM997.9 2888.4h21.1v21.1h-21.1zM384.1 2908.9h21.1v21.1h-21.1zM997.9 2908.9h21.1v21.1h-21.1zM363.7 2929.3h21.1v21.1h-21.1zM384.1 2929.3h21.1v21.1h-21.1zM1222.9 2929.3h21.1v21.1h-21.1zM343.2 2949.8h21.1v21.1h-21.1zM363.7 2949.8h21.1v21.1h-21.1zM670.6 2949.8h21.1v21.1h-21.1zM1182.0 2949.8h21.1v21.1h-21.1zM302.3 2970.2h21.1v21.1h-21.1zM322.8 2970.2h21.1v21.1h-21.1zM343.2 2970.2h21.1v21.1h-21.1zM363.7 2970.2h21.1v21.1h-21.1zM1038.8 2970.2h21.1v21.1h-21.1zM1059.2 2970.2h21.1v21.1h-21.1zM1120.6 2970.2h21.1v21.1h-21.1zM302.3 2990.7h21.1v21.1h-21.1zM322.8 2990.7h21.1v21.1h-21.1zM343.2 2990.7h21.1v21.1h-21.1zM629.6 2990.7h21.1v21.1h-21.1zM281.9 3011.2h21.1v21.1h-21.1zM302.3 3011.2h21.1v21.1h-21.1zM384.1 3011.2h21.1v21.1h-21.1zM404.6 3011.2h21.1v21.1h-21.1zM506.9 3011.2h21.1v21.1h-21.1zM957.0 3011.2h21.1v21.1h-21.1zM261.4 3031.6h21.1v21.1h-21.1zM281.9 3031.6h21.1v21.1h-21.1zM302.3 3031.6h21.1v21.1h-21.1zM384.1 3031.6h21.1v21.1h-21.1zM404.6 3031.6h21.1v21.1h-21.1zM425.1 3031.6h21.1v21.1h-21.1zM445.5 3031.6h21.1v21.1h-21.1zM466.0 3031.6h21.1v21.1h-21.1zM486.4 3031.6h21.1v21.1h-21.1zM506.9 3031.6h21.1v21.1h-21.1zM527.4 3031.6h21.1v21.1h-21.1zM568.3 3031.6h21.1v21.1h-21.1zM609.2 3031.6h21.1v21.1h-21.1zM240.9 3052.1h21.1v21.1h-21.1zM261.4 3052.1h21.1v21.1h-21.1zM281.9 3052.1h21.1v21.1h-21.1zM384.1 3052.1h21.1v21.1h-21.1zM404.6 3052.1h21.1v21.1h-21.1zM425.1 3052.1h21.1v21.1h-21.1zM445.5 3052.1h21.1v21.1h-21.1zM466.0 3052.1h21.1v21.1h-21.1zM486.4 3052.1h21.1v21.1h-21.1zM506.9 3052.1h21.1v21.1h-21.1zM527.4 3052.1h21.1v21.1h-21.1zM220.5 3072.5h21.1v21.1h-21.1zM240.9 3072.5h21.1v21.1h-21.1zM261.4 3072.5h21.1v21.1h-21.1zM384.1 3072.5h21.1v21.1h-21.1zM404.6 3072.5h21.1v21.1h-21.1zM425.1 3072.5h21.1v21.1h-21.1zM445.5 3072.5h21.1v21.1h-21.1zM466.0 3072.5h21.1v21.1h-21.1zM486.4 3072.5h21.1v21.1h-21.1zM200.0 3093.0h21.1v21.1h-21.1zM220.5 3093.0h21.1v21.1h-21.1zM322.8 3093.0h21.1v21.1h-21.1zM343.2 3093.0h21.1v21.1h-21.1zM384.1 3093.0h21.1v21.1h-21.1zM404.6 3093.0h21.1v21.1h-21.1zM425.1 3093.0h21.1v21.1h-21.1zM445.5 3093.0h21.1v21.1h-21.1zM875.1 3093.0h21.1v21.1h-21.1zM977.4 3093.0h21.1v21.1h-21.1zM200.0 3113.4h21.1v21.1h-21.1zM220.5 3113.4h21.1v21.1h-21.1zM322.8 3113.4h21.1v21.1h-21.1zM343.2 3113.4h21.1v21.1h-21.1zM384.1 3113.4h21.1v21.1h-21.1zM404.6 3113.4h21.1v21.1h-21.1zM425.1 3113.4h21.1v21.1h-21.1zM445.5 3113.4h21.1v21.1h-21.1z"/>
<path fill="#dc8e26" d="M138.7 1497.3h21.1v21.1h-21.1zM159.1 1497.3h21.1v21.1h-21.1zM179.6 1497.3h21.1v21.1h-21.1zM200.0 1497.3h21.1v21.1h-21.1zM322.8 1497.3h21.1v21.1h-21.1zM343.2 1497.3h21.1v21.1h-21.1zM363.7 1497.3h21.1v21.1h-21.1zM384.1 1497.3h21.1v21.1h-21.1zM1488.9 1497.3h21.1v21.1h-21.1zM1509.3 1497.3h21.1v21.1h-21.1zM118.2 1517.8h21.1v21.1h-21.1zM138.7 1517.8h21.1v21.1h-21.1zM159.1 1517.8h21.1v21.1h-21.1zM179.6 1517.8h21.1v21.1h-21.1zM200.0 1517.8h21.1v21.1h-21.1zM220.5 1517.8h21.1v21.1h-21.1zM322.8 1517.8h21.1v21.1h-21.1zM343.2 1517.8h21.1v21.1h-21.1zM363.7 1517.8h21.1v21.1h-21.1zM1488.9 1517.8h21.1v21.1h-21.1zM1509.3 1517.8h21.1v21.1h-21.1zM118.2 1538.2h21.1v21.1h-21.1zM138.7 1538.2h21.1v21.1h-21.1zM159.1 1538.2h21.1v21.1h-21.1zM179.6 1538.2h21.1v21.1h-21.1zM200.0 1538.2h21.1v21.1h-21.1zM220.5 1538.2h21.1v21.1h-21.1zM343.2 1538.2h21.1v21.1h-21.1zM363.7 1538.2h21.1v21.1h-21.1zM1488.9 1538.2h21.1v21.1h-21.1zM1509.3 1538.2h21.1v21.1h-21.1zM118.2 1558.7h21.1v21.1h-21.1zM138.7 1558.7h21.1v21.1h-21.1zM159.1 1558.7h21.1v21.1h-21.1zM179.6 1558.7h21.1v21.1h-21.1zM200.0 1558.7h21.1v21.1h-21.1zM220.5 1558.7h21.1v21.1h-21.1zM240.9 1558.7h21.1v21.1h-21.1zM363.7 1558.7h21.1v21.1h-21.1zM1488.9 1558.7h21.1v21.1h-21.1zM1509.3 1558.7h21.1v21.1h-21.1zM118.2 1579.1h21.1v21.1h-21.1zM138.7 1579.1h21.1v21.1h-21.1zM159.1 1579.1h21.1v21.1h-21.1zM179.6 1579.1h21.1v21.1h-21.1zM200.0 1579.1h21.1v21.1h-21.1zM220.5 1579.1h21.1v21.1h-21.1zM240.9 1579.1h21.1v21.1h-21.1zM261.4 1579.1h21.1v21.1h-21.1zM281.9 1579.1h21.1v21.1h-21.1zM1488.9 1579.1h21.1v21.1h-21.1zM1509.3 1579.1h21.1v21.1h-21.1zM118.2 1599.6h21.1v21.1h-21.1zM138.7 1599.6h21.1v21.1h-21.1zM159.1 1599.6h21.1v21.1h-21.1zM179.6 1599.6h21.1v21.1h-21.1zM200.0 1599.6h21.1v21.1h-21.1zM220.5 1599.6h21.1v21.1h-21.1zM240.9 1599.6h21.1v21.1h-21.1zM261.4 1599.6h21.1v21.1h-21.1zM281.9 1599.6h21.1v21.1h-21.1zM1488.9 1599.6h21.1v21.1h-21.1zM1509.3 1599.6h21.1v21.1h-21.1zM118.2 1620.0h21.1v21.1h-21.1zM138.7 1620.0h21.1v21.1h-21.1zM159.1 1620.0h21.1v21.1h-21.1zM220.5 1620.0h21.1v21.1h-21.1zM240.9 1620.0h21.1v21.1h-21.1zM261.4 1620.0h21.1v21.1h-21.1zM281.9 1620.0h21.1v21.1h-21.1zM302.3 1620.0h21.1v21.1h-21.1zM425.1 1620.0h21.1v21.1h-21.1zM445.5 1620.0h21.1v21.1h-21.1zM1488.9 1620.0h21.1v21.1h-21.1zM1509.3 1620.0h21.1v21.1h-21.1zM118.2 1640.5h21.1v21.1h-21.1zM138.7 1640.5h21.1v21.1h-21.1zM240.9 1640.5h21.1v21.1h-21.1zM261.4 1640.5h21.1v21.1h-21.1zM281.9 1640.5h21.1v21.1h-21.1zM302.3 1640.5h21.1v21.1h-21.1zM322.8 1640.5h21.1v21.1h-21.1zM445.5 1640.5h21.1v21.1h-21.1zM466.0 1640.5h21.1v21.1h-21.1zM1304.7 1640.5h21.1v21.1h-21.1zM1325.2 1640.5h21.1v21.1h-21.1zM118.2 1661.0h21.1v21.1h-21.1zM138.7 1661.0h21.1v21.1h-21.1zM261.4 1661.0h21.1v21.1h-21.1zM281.9 1661.0h21.1v21.1h-21.1zM302.3 1661.0h21.1v21.1h-21.1zM322.8 1661.0h21.1v21.1h-21.1zM343.2 1661.0h21.1v21.1h-21.1zM1243.4 1661.0h21.1v21.1h-21.1zM1407.0 1661.0h21.1v21.1h-21.1zM118.2 1681.4h21.1v21.1h-21.1zM138.7 1681.4h21.1v21.1h-21.1zM159.1 1681.4h21.1v21.1h-21.1zM179.6 1681.4h21.1v21.1h-21.1zM200.0 1681.4h21.1v21.1h-21.1zM220.5 1681.4h21.1v21.1h-21.1zM240.9 1681.4h21.1v21.1h-21.1zM261.4 1681.4h21.1v21.1h-21.1zM281.9 1681.4h21.1v21.1h-21.1zM302.3 1681.4h21.1v21.1h-21.1zM322.8 1681.4h21.1v21.1h-21.1zM343.2 1681.4h21.1v21.1h-21.1zM363.7 1681.4h21.1v21.1h-21.1zM404.6 1681.4h21.1v21.1h-21.1zM506.9 1681.4h21.1v21.1h-21.1zM1447.9 1681.4h21.1v21.1h-21.1zM118.2 1701.9h21.1v21.1h-21.1zM138.7 1701.9h21.1v21.1h-21.1zM159.1 1701.9h21.1v21.1h-21.1zM179.6 1701.9h21.1v21.1h-21.1zM200.0 1701.9h21.1v21.1h-21.1zM220.5 1701.9h21.1v21.1h-21.1zM240.9 1701.9h21.1v21.1h-21.1zM261.4 1701.9h21.1v21.1h-21.1zM281.9 1701.9h21.1v21.1h-21.1zM302.3 1701.9h21.1v21.1h-21.1zM322.8 1701.9h21.1v21.1h-21.1zM343.2 1701.9h21.1v21.1h-21.1zM363.7 1701.9h21.1v21.1h-21.1zM384.1 1701.9h21.1v21.1h-21.1zM1161.5 1701.9h21.1v21.1h-21.1zM1468.4 1701.9h21.1v21.1h-21.1zM118.2 1722.3h21.1v21.1h-21.1zM138.7 1722.3h21.1v21.1h-21.1zM159.1 1722.3h21.1v21.1h-21.1zM179.6 1722.3h21.1v21.1h-21.1zM200.0 1722.3h21.1v21.1h-21.1zM220.5 1722.3h21.1v21.1h-21.1zM240.9 1722.3h21.1v21.1h-21.1zM261.4 1722.3h21.1v21.1h-21.1zM281.9 1722.3h21.1v21.1h-21.1zM302.3 1722.3h21.1v21.1h-21.1zM322.8 1722.3h21.1v21.1h-21.1zM343.2 1722.3h21.1v21.1h-21.1zM527.4 1722.3h21.1v21.1h-21.1zM1161.5 1722.3h21.1v21.1h-21.1zM1488.9 1722.3h21.1v21.1h-21.1zM118.2 1742.8h21.1v21.1h-21.1zM138.7 1742.8h21.1v21.1h-21.1zM159.1 1742.8h21.1v21.1h-21.1zM179.6 1742.8h21.1v21.1h-21.1zM200.0 1742.8h21.1v21.1h-21.1zM220.5 1742.8h21.1v21.1h-21.1zM240.9 1742.8h21.1v21.1h-21.1zM261.4 1742.8h21.1v21.1h-21.1zM281.9 1742.8h21.1v21.1h-21.1zM302.3 1742.8h21.1v21.1h-21.1zM322.8 1742.8h21.1v21.1h-21.1zM547.8 1742.8h21.1v21.1h-21.1zM1202.4 1742.8h21.1v21.1h-21.1zM1509.3 1742.8h21.1v21.1h-21.1zM118.2 1763.2h21.1v21.1h-21.1zM138.7 1763.2h21.1v21.1h-21.1zM159.1 1763.2h21.1v21.1h-21.1zM179.6 1763.2h21.1v21.1h-21.1zM200.0 1763.2h21.1v21.1h-21.1zM220.5 1763.2h21.1v21.1h-21.1zM240.9 1763.2h21.1v21.1h-21.1zM261.4 1763.2h21.1v21.1h-21.1zM281.9 1763.2h21.1v21.1h-21.1zM302.3 1763.2h21.1v21.1h-21.1zM568.3 1763.2h21.1v21.1h-21.1zM1529.8 1763.2h21.1v21.1h-21.1zM1550.2 1783.7h21.1v21.1h-21.1zM1611.6 1783.7h21.1v21.1h-21.1zM1632.1 1783.7h21.1v21.1h-21.1zM1652.5 1783.7h21.1v21.1h-21.1zM1673.0 1783.7h21.1v21.1h-21.1zM1693.4 1783.7h21.1v21.1h-21.1zM1713.9 1783.7h21.1v21.1h-21.1zM1734.3 1783.7h21.1v21.1h-21.1zM1263.8 1804.2h21.1v21.1h-21.1zM1570.7 1804.2h21.1v21.1h-21.1zM1591.1 1804.2h21.1v21.1h-21.1zM1611.6 1804.2h21.1v21.1h-21.1zM1632.1 1804.2h21.1v21.1h-21.1zM1652.5 1804.2h21.1v21.1h-21.1zM1673.0 1804.2h21.1v21.1h-21.1zM1591.1 1824.6h21.1v21.1h-21.1zM916.0 1845.1h21.1v21.1h-21.1zM1161.5 1845.1h21.1v21.1h-21.1zM1263.8 1865.5h21.1v21.1h-21.1zM1243.4 1886.0h21.1v21.1h-21.1zM1018.3 1906.4h21.1v21.1h-21.1zM854.7 2151.9h21.1v21.1h-21.1zM957.0 2192.9h21.1v21.1h-21.1zM977.4 2213.3h21.1v21.1h-21.1zM1243.4 2213.3h21.1v21.1h-21.1zM1263.8 2213.3h21.1v21.1h-21.1zM854.7 2233.8h21.1v21.1h-21.1zM916.0 2233.8h21.1v21.1h-21.1zM936.5 2233.8h21.1v21.1h-21.1zM1243.4 2233.8h21.1v21.1h-21.1zM1263.8 2233.8h21.1v21.1h-21.1zM854.7 2254.2h21.1v21.1h-21.1zM875.1 2254.2h21.1v21.1h-21.1zM813.8 2274.7h21.1v21.1h-21.1zM875.1 2274.7h21.1v21.1h-21.1zM895.6 2295.1h21.1v21.1h-21.1zM1018.3 2315.6h21.1v21.1h-21.1zM1038.8 2315.6h21.1v21.1h-21.1zM936.5 2336.1h21.1v21.1h-21.1zM977.4 2336.1h21.1v21.1h-21.1zM1100.2 2356.5h21.1v21.1h-21.1zM1100.2 2438.3h21.1v21.1h-21.1zM1018.3 2540.6h21.1v21.1h-21.1zM670.6 2622.5h21.1v21.1h-21.1zM957.0 2622.5h21.1v21.1h-21.1zM711.5 2642.9h21.1v21.1h-21.1zM731.9 2642.9h21.1v21.1h-21.1zM752.4 2642.9h21.1v21.1h-21.1zM731.9 2663.4h21.1v21.1h-21.1zM752.4 2663.4h21.1v21.1h-21.1zM1673.0 2663.4h21.1v21.1h-21.1zM1693.4 2663.4h21.1v21.1h-21.1zM1713.9 2663.4h21.1v21.1h-21.1zM1734.3 2663.4h21.1v21.1h-21.1zM588.7 2683.8h21.1v21.1h-21.1zM1632.1 2683.8h21.1v21.1h-21.1zM547.8 2724.8h21.1v21.1h-21.1zM1734.3 2724.8h21.1v21.1h-21.1zM1734.3 2745.2h21.1v21.1h-21.1zM547.8 2765.7h21.1v21.1h-21.1zM977.4 2765.7h21.1v21.1h-21.1zM1488.9 2765.7h21.1v21.1h-21.1zM588.7 2806.6h21.1v21.1h-21.1zM118.2 2827.0h21.1v21.1h-21.1zM138.7 2827.0h21.1v21.1h-21.1zM159.1 2827.0h21.1v21.1h-21.1zM179.6 2827.0h21.1v21.1h-21.1zM200.0 2827.0h21.1v21.1h-21.1zM220.5 2827.0h21.1v21.1h-21.1zM240.9 2827.0h21.1v21.1h-21.1zM261.4 2827.0h21.1v21.1h-21.1zM281.9 2827.0h21.1v21.1h-21.1zM302.3 2827.0h21.1v21.1h-21.1zM1386.6 2827.0h21.1v21.1h-21.1zM1345.7 2847.5h21.1v21.1h-21.1zM670.6 2868.0h21.1v21.1h-21.1zM363.7 2888.4h21.1v21.1h-21.1zM343.2 2908.9h21.1v21.1h-21.1zM363.7 2908.9h21.1v21.1h-21.1zM302.3 2929.3h21.1v21.1h-21.1zM322.8 2929.3h21.1v21.1h-21.1zM343.2 2929.3h21.1v21.1h-21.1zM997.9 2929.3h21.1v21.1h-21.1zM118.2 2949.8h21.1v21.1h-21.1zM261.4 2949.8h21.1v21.1h-21.1zM281.9 2949.8h21.1v21.1h-21.1zM302.3 2949.8h21.1v21.1h-21.1zM322.8 2949.8h21.1v21.1h-21.1zM997.9 2949.8h21.1v21.1h-21.1zM118.2 2970.2h21.1v21.1h-21.1zM261.4 2970.2h21.1v21.1h-21.1zM281.9 2970.2h21.1v21.1h-21.1zM997.9 2970.2h21.1v21.1h-21.1zM1018.3 2970.2h21.1v21.1h-21.1zM1141.1 2970.2h21.1v21.1h-21.1zM240.9 2990.7h21.1v21.1h-21.1zM261.4 2990.7h21.1v21.1h-21.1zM281.9 2990.7h21.1v21.1h-21.1zM916.0 2990.7h21.1v21.1h-21.1zM936.5 2990.7h21.1v21.1h-21.1zM957.0 2990.7h21.1v21.1h-21.1zM977.4 2990.7h21.1v21.1h-21.1zM220.5 3011.2h21.1v21.1h-21.1zM240.9 3011.2h21.1v21.1h-21.1zM261.4 3011.2h21.1v21.1h-21.1zM629.6 3011.2h21.1v21.1h-21.1zM895.6 3011.2h21.1v21.1h-21.1zM977.4 3011.2h21.1v21.1h-21.1zM179.6 3031.6h21.1v21.1h-21.1zM200.0 3031.6h21.1v21.1h-21.1zM220.5 3031.6h21.1v21.1h-21.1zM240.9 3031.6h21.1v21.1h-21.1zM547.8 3031.6h21.1v21.1h-21.1zM977.4 3031.6h21.1v21.1h-21.1zM159.1 3052.1h21.1v21.1h-21.1zM179.6 3052.1h21.1v21.1h-21.1zM200.0 3052.1h21.1v21.1h-21.1zM220.5 3052.1h21.1v21.1h-21.1zM547.8 3052.1h21.1v21.1h-21.1zM568.3 3052.1h21.1v21.1h-21.1zM588.7 3052.1h21.1v21.1h-21.1zM875.1 3052.1h21.1v21.1h-21.1zM977.4 3052.1h21.1v21.1h-21.1zM159.1 3072.5h21.1v21.1h-21.1zM179.6 3072.5h21.1v21.1h-21.1zM200.0 3072.5h21.1v21.1h-21.1zM506.9 3072.5h21.1v21.1h-21.1zM527.4 3072.5h21.1v21.1h-21.1zM547.8 3072.5h21.1v21.1h-21.1zM568.3 3072.5h21.1v21.1h-21.1zM588.7 3072.5h21.1v21.1h-21.1zM875.1 3072.5h21.1v21.1h-21.1zM977.4 3072.5h21.1v21.1h-21.1zM159.1 3093.0h21.1v21.1h-21.1zM179.6 3093.0h21.1v21.1h-21.1zM466.0 3093.0h21.1v21.1h-21.1zM486.4 3093.0h21.1v21.1h-21.1zM506.9 3093.0h21.1v21.1h-21.1zM527.4 3093.0h21.1v21.1h-21.1zM547.8 3093.0h21.1v21.1h-21.1zM568.3 3093.0h21.1v21.1h-21.1zM588.7 3093.0h21.1v21.1h-21.1zM609.2 3093.0h21.1v21.1h-21.1zM159.1 3113.4h21.1v21.1h-21.1zM179.6 3113.4h21.1v21.1h-21.1zM466.0 3113.4h21.1v21.1h-21.1zM486.4 3113.4h21.1v21.1h-21.1zM506.9 3113.4h21.1v21.1h-21.1zM527.4 3113.4h21.1v21.1h-21.1zM547.8 3113.4h21.1v21.1h-21.1zM568.3 3113.4h21.1v21.1h-21.1zM588.7 3113.4h21.1v21.1h-21.1zM609.2 3113.4h21.1v21.1h-21.1zM875.1 3113.4h21.1v21.1h-21.1zM977.4 3113.4h21.1v21.1h-21.1z"/>
<path fill="#e08828" d="M220.5 1497.3h21.1v21.1h-21.1zM240.9 1497.3h21.1v21.1h-21.1zM261.4 1497.3h21.1v21.1h-21.1zM281.9 1497.3h21.1v21.1h-21.1zM302.3 1497.3h21.1v21.1h-21.1zM404.6 1497.3h21.1v21.1h-21.1zM1427.5 1497.3h21.1v21.1h-21.1zM1447.9 1497.3h21.1v21.1h-21.1zM1468.4 1497.3h21.1v21.1h-21.1zM1529.8 1497.3h21.1v21.1h-21.1zM1550.2 1497.3h21.1v21.1h-21.1zM1570.7 1497.3h21.1v21.1h-21.1zM1591.1 1497.3h21.1v21.1h-21.1zM1611.6 1497.3h21.1v21.1h-21.1zM1632.1 1497.3h21.1v21.1h-21.1zM1652.5 1497.3h21.1v21.1h-21.1zM1673.0 1497.3h21.1v21.1h-21.1zM1693.4 1497.3h21.1v21.1h-21.1zM1713.9 1497.3h21.1v21.1h-21.1zM1734.3 1497.3h21.1v21.1h-21.1zM240.9 1517.8h21.1v21.1h-21.1zM261.4 1517.8h21.1v21.1h-21.1zM281.9 1517.8h21.1v21.1h-21.1zM302.3 1517.8h21.1v21.1h-21.1zM384.1 1517.8h21.1v21.1h-21.1zM404.6 1517.8h21.1v21.1h-21.1zM1427.5 1517.8h21.1v21.1h-21.1zM1447.9 1517.8h21.1v21.1h-21.1zM1468.4 1517.8h21.1v21.1h-21.1zM1529.8 1517.8h21.1v21.1h-21.1zM1550.2 1517.8h21.1v21.1h-21.1zM1570.7 1517.8h21.1v21.1h-21.1zM1591.1 1517.8h21.1v21.1h-21.1zM1611.6 1517.8h21.1v21.1h-21.1zM1632.1 1517.8h21.1v21.1h-21.1zM1652.5 1517.8h21.1v21.1h-21.1zM1673.0 1517.8h21.1v21.1h-21.1zM1693.4 1517.8h21.1v21.1h-21.1zM1713.9 1517.8h21.1v21.1h-21.1zM1734.3 1517.8h21.1v21.1h-21.1zM240.9 1538.2h21.1v21.1h-21.1zM261.4 1538.2h21.1v21.1h-21.1zM281.9 1538.2h21.1v21.1h-21.1zM302.3 1538.2h21.1v21.1h-21.1zM322.8 1538.2h21.1v21.1h-21.1zM384.1 1538.2h21.1v21.1h-21.1zM404.6 1538.2h21.1v21.1h-21.1zM1427.5 1538.2h21.1v21.1h-21.1zM1447.9 1538.2h21.1v21.1h-21.1zM1468.4 1538.2h21.1v21.1h-21.1zM1529.8 1538.2h21.1v21.1h-21.1zM1550.2 1538.2h21.1v21.1h-21.1zM1570.7 1538.2h21.1v21.1h-21.1zM1591.1 1538.2h21.1v21.1h-21.1zM1611.6 1538.2h21.1v21.1h-21.1zM1632.1 1538.2h21.1v21.1h-21.1zM1652.5 1538.2h21.1v21.1h-21.1zM1673.0 1538.2h21.1v21.1h-21.1zM1693.4 1538.2h21.1v21.1h-21.1zM1713.9 1538.2h21.1v21.1h-21.1zM1734.3 1538.2h21.1v21.1h-21.1zM261.4 1558.7h21.1v21.1h-21.1zM281.9 1558.7h21.1v21.1h-21.1zM302.3 1558.7h21.1v21.1h-21.1zM322.8 1558.7h21.1v21.1h-21.1zM343.2 1558.7h21.1v21.1h-21.1zM384.1 1558.7h21.1v21.1h-21.1zM404.6 1558.7h21.1v21.1h-21.1zM425.1 1558.7h21.1v21.1h-21.1zM1427.5 1558.7h21.1v21.1h-21.1zM1447.9 1558.7h21.1v21.1h-21.1zM1468.4 1558.7h21.1v21.1h-21.1zM1529.8 1558.7h21.1v21.1h-21.1zM1550.2 1558.7h21.1v21.1h-21.1zM1570.7 1558.7h21.1v21.1h-21.1zM1591.1 1558.7h21.1v21.1h-21.1zM1611.6 1558.7h21.1v21.1h-21.1zM1632.1 1558.7h21.1v21.1h-21.1zM1652.5 1558.7h21.1v21.1h-21.1zM1673.0 1558.7h21.1v21.1h-21.1zM1693.4 1558.7h21.1v21.1h-21.1zM1713.9 1558.7h21.1v21.1h-21.1zM1734.3 1558.7h21.1v21.1h-21.1zM302.3 1579.1h21.1v21.1h-21.1zM322.8 1579.1h21.1v21.1h-21.1zM343.2 1579.1h21.1v21.1h-21.1zM363.7 1579.1h21.1v21.1h-21.1zM384.1 1579.1h21.1v21.1h-21.1zM404.6 1579.1h21.1v21.1h-21.1zM425.1 1579.1h21.1v21.1h-21.1zM445.5 1579.1h21.1v21.1h-21.1zM466.0 1579.1h21.1v21.1h-21.1zM1427.5 1579.1h21.1v21.1h-21.1zM1447.9 1579.1h21.1v21.1h-21.1zM1468.4 1579.1h21.1v21.1h-21.1zM1529.8 1579.1h21.1v21.1h-21.1zM1550.2 1579.1h21.1v21.1h-21.1zM1570.7 1579.1h21.1v21.1h-21.1zM1591.1 1579.1h21.1v21.1h-21.1zM1611.6 1579.1h21.1v21.1h-21.1zM1632.1 1579.1h21.1v21.1h-21.1zM1652.5 1579.1h21.1v21.1h-21.1zM1673.0 1579.1h21.1v21.1h-21.1zM1693.4 1579.1h21.1v21.1h-21.1zM1713.9 1579.1h21.1v21.1h-21.1zM1734.3 1579.1h21.1v21.1h-21.1zM302.3 1599.6h21.1v21.1h-21.1zM322.8 1599.6h21.1v21.1h-21.1zM343.2 1599.6h21.1v21.1h-21.1zM363.7 1599.6h21.1v21.1h-21.1zM384.1 1599.6h21.1v21.1h-21.1zM404.6 1599.6h21.1v21.1h-21.1zM425.1 1599.6h21.1v21.1h-21.1zM445.5 1599.6h21.1v21.1h-21.1zM466.0 1599.6h21.1v21.1h-21.1zM486.4 1599.6h21.1v21.1h-21.1zM1427.5 1599.6h21.1v21.1h-21.1zM1447.9 1599.6h21.1v21.1h-21.1zM1468.4 1599.6h21.1v21.1h-21.1zM1529.8 1599.6h21.1v21.1h-21.1zM1550.2 1599.6h21.1v21.1h-21.1zM1570.7 1599.6h21.1v21.1h-21.1zM1591.1 1599.6h21.1v21.1h-21.1zM1611.6 1599.6h21.1v21.1h-21.1zM1632.1 1599.6h21.1v21.1h-21.1zM1652.5 1599.6h21.1v21.1h-21.1zM1673.0 1599.6h21.1v21.1h-21.1zM1693.4 1599.6h21.1v21.1h-21.1zM1713.9 1599.6h21.1v21.1h-21.1zM1734.3 1599.6h21.1v21.1h-21.1zM322.8 1620.0h21.1v21.1h-21.1zM343.2 1620.0h21.1v21.1h-21.1zM363.7 1620.0h21.1v21.1h-21.1zM384.1 1620.0h21.1v21.1h-21.1zM404.6 1620.0h21.1v21.1h-21.1zM466.0 1620.0h21.1v21.1h-21.1zM486.4 1620.0h21.1v21.1h-21.1zM506.9 1620.0h21.1v21.1h-21.1zM1427.5 1620.0h21.1v21.1h-21.1zM1447.9 1620.0h21.1v21.1h-21.1zM1468.4 1620.0h21.1v21.1h-21.1zM1529.8 1620.0h21.1v21.1h-21.1zM1550.2 1620.0h21.1v21.1h-21.1zM1570.7 1620.0h21.1v21.1h-21.1zM1591.1 1620.0h21.1v21.1h-21.1zM1611.6 1620.0h21.1v21.1h-21.1zM1632.1 1620.0h21.1v21.1h-21.1zM1652.5 1620.0h21.1v21.1h-21.1zM1673.0 1620.0h21.1v21.1h-21.1zM1693.4 1620.0h21.1v21.1h-21.1zM1713.9 1620.0h21.1v21.1h-21.1zM1734.3 1620.0h21.1v21.1h-21.1zM343.2 1640.5h21.1v21.1h-21.1zM363.7 1640.5h21.1v21.1h-21.1zM384.1 1640.5h21.1v21.1h-21.1zM404.6 1640.5h21.1v21.1h-21.1zM425.1 1640.5h21.1v21.1h-21.1zM506.9 1640.5h21.1v21.1h-21.1zM1284.3 1640.5h21.1v21.1h-21.1zM1345.7 1640.5h21.1v21.1h-21.1zM1366.1 1640.5h21.1v21.1h-21.1zM1386.6 1640.5h21.1v21.1h-21.1zM1407.0 1640.5h21.1v21.1h-21.1zM1427.5 1640.5h21.1v21.1h-21.1zM1447.9 1640.5h21.1v21.1h-21.1zM1468.4 1640.5h21.1v21.1h-21.1zM1488.9 1640.5h21.1v21.1h-21.1zM1509.3 1640.5h21.1v21.1h-21.1zM1529.8 1640.5h21.1v21.1h-21.1zM1550.2 1640.5h21.1v21.1h-21.1zM1570.7 1640.5h21.1v21.1h-21.1zM1591.1 1640.5h21.1v21.1h-21.1zM1611.6 1640.5h21.1v21.1h-21.1zM1632.1 1640.5h21.1v21.1h-21.1zM1652.5 1640.5h21.1v21.1h-21.1zM1673.0 1640.5h21.1v21.1h-21.1zM1693.4 1640.5h21.1v21.1h-21.1zM1713.9 1640.5h21.1v21.1h-21.1zM1734.3 1640.5h21.1v21.1h-21.1zM363.7 1661.0h21.1v21.1h-21.1zM384.1 1661.0h21.1v21.1h-21.1zM404.6 1661.0h21.1v21.1h-21.1zM425.1 1661.0h21.1v21.1h-21.1zM506.9 1661.0h21.1v21.1h-21.1zM1222.9 1661.0h21.1v21.1h-21.1zM1427.5 1661.0h21.1v21.1h-21.1zM1447.9 1661.0h21.1v21.1h-21.1zM1468.4 1661.0h21.1v21.1h-21.1zM1488.9 1661.0h21.1v21.1h-21.1zM1509.3 1661.0h21.1v21.1h-21.1zM1529.8 1661.0h21.1v21.1h-21.1zM1550.2 1661.0h21.1v21.1h-21.1zM1570.7 1661.0h21.1v21.1h-21.1zM1591.1 1661.0h21.1v21.1h-21.1zM1611.6 1661.0h21.1v21.1h-21.1zM1632.1 1661.0h21.1v21.1h-21.1zM1652.5 1661.0h21.1v21.1h-21.1zM1673.0 1661.0h21.1v21.1h-21.1zM1693.4 1661.0h21.1v21.1h-21.1zM1713.9 1661.0h21.1v21.1h-21.1zM1734.3 1661.0h21.1v21.1h-21.1zM384.1 1681.4h21.1v21.1h-21.1zM1161.5 1681.4h21.1v21.1h-21.1zM1182.0 1681.4h21.1v21.1h-21.1zM1468.4 1681.4h21.1v21.1h-21.1zM1488.9 1681.4h21.1v21.1h-21.1zM1509.3 1681.4h21.1v21.1h-21.1zM1529.8 1681.4h21.1v21.1h-21.1zM1550.2 1681.4h21.1v21.1h-21.1zM1570.7 1681.4h21.1v21.1h-21.1zM1591.1 1681.4h21.1v21.1h-21.1zM1611.6 1681.4h21.1v21.1h-21.1zM1632.1 1681.4h21.1v21.1h-21.1zM1652.5 1681.4h21.1v21.1h-21.1zM1673.0 1681.4h21.1v21.1h-21.1zM1693.4 1681.4h21.1v21.1h-21.1zM1713.9 1681.4h21.1v21.1h-21.1zM1734.3 1681.4h21.1v21.1h-21.1zM1120.6 1701.9h21.1v21.1h-21.1zM1141.1 1701.9h21.1v21.1h-21.1zM1488.9 1701.9h21.1v21.1h-21.1zM1509.3 1701.9h21.1v21.1h-21.1zM1529.8 1701.9h21.1v21.1h-21.1zM1550.2 1701.9h21.1v21.1h-21.1zM1570.7 1701.9h21.1v21.1h-21.1zM1591.1 1701.9h21.1v21.1h-21.1zM1611.6 1701.9h21.1v21.1h-21.1zM1632.1 1701.9h21.1v21.1h-21.1zM1652.5 1701.9h21.1v21.1h-21.1zM1673.0 1701.9h21.1v21.1h-21.1zM1693.4 1701.9h21.1v21.1h-21.1zM1713.9 1701.9h21.1v21.1h-21.1zM1734.3 1701.9h21.1v21.1h-21.1zM1141.1 1722.3h21.1v21.1h-21.1zM1509.3 1722.3h21.1v21.1h-21.1zM1529.8 1722.3h21.1v21.1h-21.1zM1550.2 1722.3h21.1v21.1h-21.1zM1570.7 1722.3h21.1v21.1h-21.1zM1591.1 1722.3h21.1v21.1h-21.1zM1611.6 1722.3h21.1v21.1h-21.1zM1632.1 1722.3h21.1v21.1h-21.1zM1652.5 1722.3h21.1v21.1h-21.1zM1673.0 1722.3h21.1v21.1h-21.1zM1693.4 1722.3h21.1v21.1h-21.1zM1713.9 1722.3h21.1v21.1h-21.1zM1734.3 1722.3h21.1v21.1h-21.1zM1161.5 1742.8h21.1v21.1h-21.1zM1182.0 1742.8h21.1v21.1h-21.1zM1529.8 1742.8h21.1v21.1h-21.1zM1550.2 1742.8h21.1v21.1h-21.1zM1570.7 1742.8h21.1v21.1h-21.1zM1591.1 1742.8h21.1v21.1h-21.1zM1611.6 1742.8h21.1v21.1h-21.1zM1632.1 1742.8h21.1v21.1h-21.1zM1652.5 1742.8h21.1v21.1h-21.1zM1673.0 1742.8h21.1v21.1h-21.1zM1693.4 1742.8h21.1v21.1h-21.1zM1713.9 1742.8h21.1v21.1h-21.1zM1734.3 1742.8h21.1v21.1h-21.1zM1222.9 1763.2h21.1v21.1h-21.1zM1550.2 1763.2h21.1v21.1h-21.1zM1570.7 1763.2h21.1v21.1h-21.1zM1591.1 1763.2h21.1v21.1h-21.1zM1611.6 1763.2h21.1v21.1h-21.1zM1632.1 1763.2h21.1v21.1h-21.1zM1652.5 1763.2h21.1v21.1h-21.1zM1673.0 1763.2h21.1v21.1h-21.1zM1693.4 1763.2h21.1v21.1h-21.1zM1713.9 1763.2h21.1v21.1h-21.1zM1734.3 1763.2h21.1v21.1h-21.1zM588.7 1783.7h21.1v21.1h-21.1zM1243.4 1783.7h21.1v21.1h-21.1zM1570.7 1783.7h21.1v21.1h-21.1zM1591.1 1783.7h21.1v21.1h-21.1zM629.6 1824.6h21.1v21.1h-21.1zM711.5 1824.6h21.1v21.1h-21.1zM731.9 1824.6h21.1v21.1h-21.1zM875.1 1824.6h21.1v21.1h-21.1zM1120.6 1824.6h21.1v21.1h-21.1zM1141.1 1824.6h21.1v21.1h-21.1zM1263.8 1824.6h21.1v21.1h-21.1zM1100.2 1845.1h21.1v21.1h-21.1zM1263.8 1845.1h21.1v21.1h-21.1zM936.5 1865.5h21.1v21.1h-21.1zM1182.0 1865.5h21.1v21.1h-21.1zM957.0 1886.0h21.1v21.1h-21.1zM1202.4 1886.0h21.1v21.1h-21.1zM1222.9 1886.0h21.1v21.1h-21.1zM875.1 2151.9h21.1v21.1h-21.1zM895.6 2151.9h21.1v21.1h-21.1zM916.0 2151.9h21.1v21.1h-21.1zM854.7 2172.4h21.1v21.1h-21.1zM936.5 2172.4h21.1v21.1h-21.1zM854.7 2192.9h21.1v21.1h-21.1zM854.7 2213.3h21.1v21.1h-21.1zM936.5 2213.3h21.1v21.1h-21.1zM957.0 2213.3h21.1v21.1h-21.1zM875.1 2233.8h21.1v21.1h-21.1zM895.6 2233.8h21.1v21.1h-21.1zM834.2 2274.7h21.1v21.1h-21.1zM854.7 2274.7h21.1v21.1h-21.1zM752.4 2295.1h21.1v21.1h-21.1zM691.0 2336.1h21.1v21.1h-21.1zM1079.7 2336.1h21.1v21.1h-21.1zM670.6 2417.9h21.1v21.1h-21.1zM629.6 2479.3h21.1v21.1h-21.1zM997.9 2540.6h21.1v21.1h-21.1zM977.4 2561.1h21.1v21.1h-21.1zM629.6 2581.5h21.1v21.1h-21.1zM650.1 2602.0h21.1v21.1h-21.1zM957.0 2602.0h21.1v21.1h-21.1zM691.0 2622.5h21.1v21.1h-21.1zM711.5 2622.5h21.1v21.1h-21.1zM731.9 2622.5h21.1v21.1h-21.1zM772.8 2642.9h21.1v21.1h-21.1zM957.0 2642.9h21.1v21.1h-21.1zM772.8 2663.4h21.1v21.1h-21.1zM957.0 2663.4h21.1v21.1h-21.1zM609.2 2683.8h21.1v21.1h-21.1zM629.6 2683.8h21.1v21.1h-21.1zM650.1 2683.8h21.1v21.1h-21.1zM670.6 2683.8h21.1v21.1h-21.1zM691.0 2683.8h21.1v21.1h-21.1zM711.5 2683.8h21.1v21.1h-21.1zM731.9 2683.8h21.1v21.1h-21.1zM752.4 2683.8h21.1v21.1h-21.1zM1652.5 2683.8h21.1v21.1h-21.1zM1673.0 2683.8h21.1v21.1h-21.1zM1693.4 2683.8h21.1v21.1h-21.1zM1713.9 2683.8h21.1v21.1h-21.1zM1734.3 2683.8h21.1v21.1h-21.1zM568.3 2704.3h21.1v21.1h-21.1zM1673.0 2704.3h21.1v21.1h-21.1zM1693.4 2704.3h21.1v21.1h-21.1zM1713.9 2704.3h21.1v21.1h-21.1zM1734.3 2704.3h21.1v21.1h-21.1zM1693.4 2724.8h21.1v21.1h-21.1zM1713.9 2724.8h21.1v21.1h-21.1zM547.8 2745.2h21.1v21.1h-21.1zM1693.4 2745.2h21.1v21.1h-21.1zM1713.9 2745.2h21.1v21.1h-21.1zM1693.4 2765.7h21.1v21.1h-21.1zM1713.9 2765.7h21.1v21.1h-21.1zM1734.3 2765.7h21.1v21.1h-21.1zM568.3 2786.1h21.1v21.1h-21.1zM977.4 2786.1h21.1v21.1h-21.1zM977.4 2806.6h21.1v21.1h-21.1zM629.6 2827.0h21.1v21.1h-21.1zM118.2 2847.5h21.1v21.1h-21.1zM138.7 2847.5h21.1v21.1h-21.1zM159.1 2847.5h21.1v21.1h-21.1zM179.6 2847.5h21.1v21.1h-21.1zM200.0 2847.5h21.1v21.1h-21.1zM220.5 2847.5h21.1v21.1h-21.1zM240.9 2847.5h21.1v21.1h-21.1zM261.4 2847.5h21.1v21.1h-21.1zM281.9 2847.5h21.1v21.1h-21.1zM302.3 2847.5h21.1v21.1h-21.1zM322.8 2847.5h21.1v21.1h-21.1zM650.1 2847.5h21.1v21.1h-21.1zM118.2 2868.0h21.1v21.1h-21.1zM138.7 2868.0h21.1v21.1h-21.1zM159.1 2868.0h21.1v21.1h-21.1zM179.6 2868.0h21.1v21.1h-21.1zM200.0 2868.0h21.1v21.1h-21.1zM220.5 2868.0h21.1v21.1h-21.1zM240.9 2868.0h21.1v21.1h-21.1zM261.4 2868.0h21.1v21.1h-21.1zM281.9 2868.0h21.1v21.1h-21.1zM302.3 2868.0h21.1v21.1h-21.1zM322.8 2868.0h21.1v21.1h-21.1zM343.2 2868.0h21.1v21.1h-21.1zM1304.7 2868.0h21.1v21.1h-21.1zM118.2 2888.4h21.1v21.1h-21.1zM138.7 2888.4h21.1v21.1h-21.1zM159.1 2888.4h21.1v21.1h-21.1zM179.6 2888.4h21.1v21.1h-21.1zM200.0 2888.4h21.1v21.1h-21.1zM220.5 2888.4h21.1v21.1h-21.1zM240.9 2888.4h21.1v21.1h-21.1zM261.4 2888.4h21.1v21.1h-21.1zM281.9 2888.4h21.1v21.1h-21.1zM302.3 2888.4h21.1v21.1h-21.1zM322.8 2888.4h21.1v21.1h-21.1zM343.2 2888.4h21.1v21.1h-21.1zM118.2 2908.9h21.1v21.1h-21.1zM138.7 2908.9h21.1v21.1h-21.1zM159.1 2908.9h21.1v21.1h-21.1zM179.6 2908.9h21.1v21.1h-21.1zM200.0 2908.9h21.1v21.1h-21.1zM220.5 2908.9h21.1v21.1h-21.1zM240.9 2908.9h21.1v21.1h-21.1zM261.4 2908.9h21.1v21.1h-21.1zM281.9 2908.9h21.1v21.1h-21.1zM302.3 2908.9h21.1v21.1h-21.1zM322.8 2908.9h21.1v21.1h-21.1zM691.0 2908.9h21.1v21.1h-21.1zM118.2 2929.3h21.1v21.1h-21.1zM138.7 2929.3h21.1v21.1h-21.1zM159.1 2929.3h21.1v21.1h-21.1zM179.6 2929.3h21.1v21.1h-21.1zM200.0 2929.3h21.1v21.1h-21.1zM220.5 2929.3h21.1v21.1h-21.1zM240.9 2929.3h21.1v21.1h-21.1zM261.4 2929.3h21.1v21.1h-21.1zM281.9 2929.3h21.1v21.1h-21.1zM691.0 2929.3h21.1v21.1h-21.1zM138.7 2949.8h21.1v21.1h-21.1zM159.1 2949.8h21.1v21.1h-21.1zM179.6 2949.8h21.1v21.1h-21.1zM200.0 2949.8h21.1v21.1h-21.1zM220.5 2949.8h21.1v21.1h-21.1zM240.9 2949.8h21.1v21.1h-21.1zM977.4 2949.8h21.1v21.1h-21.1zM138.7 2970.2h21.1v21.1h-21.1zM159.1 2970.2h21.1v21.1h-21.1zM179.6 2970.2h21.1v21.1h-21.1zM200.0 2970.2h21.1v21.1h-21.1zM220.5 2970.2h21.1v21.1h-21.1zM240.9 2970.2h21.1v21.1h-21.1zM670.6 2970.2h21.1v21.1h-21.1zM957.0 2970.2h21.1v21.1h-21.1zM977.4 2970.2h21.1v21.1h-21.1zM118.2 2990.7h21.1v21.1h-21.1zM138.7 2990.7h21.1v21.1h-21.1zM159.1 2990.7h21.1v21.1h-21.1zM179.6 2990.7h21.1v21.1h-21.1zM200.0 2990.7h21.1v21.1h-21.1zM220.5 2990.7h21.1v21.1h-21.1zM650.1 2990.7h21.1v21.1h-21.1zM895.6 2990.7h21.1v21.1h-21.1zM997.9 2990.7h21.1v21.1h-21.1zM118.2 3011.2h21.1v21.1h-21.1zM138.7 3011.2h21.1v21.1h-21.1zM159.1 3011.2h21.1v21.1h-21.1zM179.6 3011.2h21.1v21.1h-21.1zM200.0 3011.2h21.1v21.1h-21.1zM118.2 3031.6h21.1v21.1h-21.1zM138.7 3031.6h21.1v21.1h-21.1zM159.1 3031.6h21.1v21.1h-21.1zM629.6 3031.6h21.1v21.1h-21.1zM875.1 3031.6h21.1v21.1h-21.1zM118.2 3052.1h21.1v21.1h-21.1zM138.7 3052.1h21.1v21.1h-21.1zM609.2 3052.1h21.1v21.1h-21.1zM629.6 3052.1h21.1v21.1h-21.1zM118.2 3072.5h21.1v21.1h-21.1zM138.7 3072.5h21.1v21.1h-21.1zM609.2 3072.5h21.1v21.1h-21.1zM629.6 3072.5h21.1v21.1h-21.1zM118.2 3093.0h21.1v21.1h-21.1zM138.7 3093.0h21.1v21.1h-21.1zM629.6 3093.0h21.1v21.1h-21.1zM118.2 3113.4h21.1v21.1h-21.1zM138.7 3113.4h21.1v21.1h-21.1zM629.6 3113.4h21.1v21.1h-21.1z"/>
<path fill="#e4822a" d="M425.1 1497.3h21.1v21.1h-21.1zM731.9 1497.3h21.1v21.1h-21.1zM1386.6 1497.3h21.1v21.1h-21.1zM1407.0 1497.3h21.1v21.1h-21.1zM425.1 1517.8h21.1v21.1h-21.1zM1386.6 1517.8h21.1v21.1h-21.1zM1407.0 1517.8h21.1v21.1h-21.1zM425.1 1538.2h21.1v21.1h-21.1zM445.5 1538.2h21.1v21.1h-21.1zM1386.6 1538.2h21.1v21.1h-21.1zM1407.0 1538.2h21.1v21.1h-21.1zM445.5 1558.7h21.1v21.1h-21.1zM466.0 1558.7h21.1v21.1h-21.1zM1407.0 1558.7h21.1v21.1h-21.1zM486.4 1579.1h21.1v21.1h-21.1zM506.9 1579.1h21.1v21.1h-21.1zM1407.0 1579.1h21.1v21.1h-21.1zM506.9 1599.6h21.1v21.1h-21.1zM1386.6 1599.6h21.1v21.1h-21.1zM1407.0 1599.6h21.1v21.1h-21.1zM1366.1 1620.0h21.1v21.1h-21.1zM1386.6 1620.0h21.1v21.1h-21.1zM1407.0 1620.0h21.1v21.1h-21.1zM1263.8 1640.5h21.1v21.1h-21.1zM1018.3 1681.4h21.1v21.1h-21.1zM1038.8 1681.4h21.1v21.1h-21.1zM1059.2 1681.4h21.1v21.1h-21.1zM1079.7 1681.4h21.1v21.1h-21.1zM1100.2 1681.4h21.1v21.1h-21.1zM1120.6 1681.4h21.1v21.1h-21.1zM1141.1 1681.4h21.1v21.1h-21.1zM527.4 1701.9h21.1v21.1h-21.1zM1018.3 1701.9h21.1v21.1h-21.1zM1038.8 1701.9h21.1v21.1h-21.1zM1059.2 1701.9h21.1v21.1h-21.1zM1079.7 1701.9h21.1v21.1h-21.1zM1100.2 1701.9h21.1v21.1h-21.1zM1120.6 1722.3h21.1v21.1h-21.1zM1141.1 1742.8h21.1v21.1h-21.1zM1161.5 1763.2h21.1v21.1h-21.1zM1182.0 1763.2h21.1v21.1h-21.1zM1202.4 1763.2h21.1v21.1h-21.1zM609.2 1804.2h21.1v21.1h-21.1zM1141.1 1804.2h21.1v21.1h-21.1zM691.0 1824.6h21.1v21.1h-21.1zM752.4 1824.6h21.1v21.1h-21.1zM854.7 1824.6h21.1v21.1h-21.1zM895.6 1824.6h21.1v21.1h-21.1zM1161.5 1824.6h21.1v21.1h-21.1zM1079.7 1865.5h21.1v21.1h-21.1zM1243.4 1865.5h21.1v21.1h-21.1zM1059.2 1886.0h21.1v21.1h-21.1zM875.1 2172.4h21.1v21.1h-21.1zM916.0 2172.4h21.1v21.1h-21.1zM875.1 2192.9h21.1v21.1h-21.1zM936.5 2192.9h21.1v21.1h-21.1zM875.1 2213.3h21.1v21.1h-21.1zM895.6 2213.3h21.1v21.1h-21.1zM916.0 2213.3h21.1v21.1h-21.1zM772.8 2295.1h21.1v21.1h-21.1zM875.1 2295.1h21.1v21.1h-21.1zM711.5 2315.6h21.1v21.1h-21.1zM895.6 2315.6h21.1v21.1h-21.1zM997.9 2336.1h21.1v21.1h-21.1zM1059.2 2336.1h21.1v21.1h-21.1zM1100.2 2377.0h21.1v21.1h-21.1zM1100.2 2417.9h21.1v21.1h-21.1zM1079.7 2458.8h21.1v21.1h-21.1zM1038.8 2499.7h21.1v21.1h-21.1zM1018.3 2520.2h21.1v21.1h-21.1zM957.0 2581.5h21.1v21.1h-21.1zM670.6 2602.0h21.1v21.1h-21.1zM752.4 2622.5h21.1v21.1h-21.1zM772.8 2622.5h21.1v21.1h-21.1zM772.8 2683.8h21.1v21.1h-21.1zM957.0 2683.8h21.1v21.1h-21.1zM1570.7 2704.3h21.1v21.1h-21.1zM1632.1 2704.3h21.1v21.1h-21.1zM1652.5 2704.3h21.1v21.1h-21.1zM1529.8 2724.8h21.1v21.1h-21.1zM1652.5 2724.8h21.1v21.1h-21.1zM1673.0 2724.8h21.1v21.1h-21.1zM1509.3 2745.2h21.1v21.1h-21.1zM1673.0 2745.2h21.1v21.1h-21.1zM1673.0 2765.7h21.1v21.1h-21.1zM1468.4 2786.1h21.1v21.1h-21.1zM1693.4 2786.1h21.1v21.1h-21.1zM1713.9 2786.1h21.1v21.1h-21.1zM1734.3 2786.1h21.1v21.1h-21.1zM609.2 2806.6h21.1v21.1h-21.1zM1427.5 2806.6h21.1v21.1h-21.1zM977.4 2827.0h21.1v21.1h-21.1zM977.4 2847.5h21.1v21.1h-21.1zM977.4 2868.0h21.1v21.1h-21.1zM691.0 2888.4h21.1v21.1h-21.1zM977.4 2888.4h21.1v21.1h-21.1zM977.4 2908.9h21.1v21.1h-21.1zM977.4 2929.3h21.1v21.1h-21.1zM691.0 2949.8h21.1v21.1h-21.1zM936.5 2970.2h21.1v21.1h-21.1zM1018.3 2990.7h21.1v21.1h-21.1zM875.1 3011.2h21.1v21.1h-21.1zM997.9 3011.2h21.1v21.1h-21.1zM650.1 3072.5h21.1v21.1h-21.1zM650.1 3093.0h21.1v21.1h-21.1zM650.1 3113.4h21.1v21.1h-21.1z"/>
<path fill="#e87c2c" d="M445.5 1497.3h21.1v21.1h-21.1zM691.0 1497.3h21.1v21.1h-21.1zM711.5 1497.3h21.1v21.1h-21.1zM752.4 1497.3h21.1v21.1h-21.1zM772.8 1497.3h21.1v21.1h-21.1zM1141.1 1497.3h21.1v21.1h-21.1zM1161.5 1497.3h21.1v21.1h-21.1zM1182.0 1497.3h21.1v21.1h-21.1zM1202.4 1497.3h21.1v21.1h-21.1zM1222.9 1497.3h21.1v21.1h-21.1zM1243.4 1497.3h21.1v21.1h-21.1zM1263.8 1497.3h21.1v21.1h-21.1zM1284.3 1497.3h21.1v21.1h-21.1zM1304.7 1497.3h21.1v21.1h-21.1zM1325.2 1497.3h21.1v21.1h-21.1zM1345.7 1497.3h21.1v21.1h-21.1zM1366.1 1497.3h21.1v21.1h-21.1zM445.5 1517.8h21.1v21.1h-21.1zM466.0 1517.8h21.1v21.1h-21.1zM711.5 1517.8h21.1v21.1h-21.1zM731.9 1517.8h21.1v21.1h-21.1zM1222.9 1517.8h21.1v21.1h-21.1zM1243.4 1517.8h21.1v21.1h-21.1zM1263.8 1517.8h21.1v21.1h-21.1zM1284.3 1517.8h21.1v21.1h-21.1zM1304.7 1517.8h21.1v21.1h-21.1zM1325.2 1517.8h21.1v21.1h-21.1zM1345.7 1517.8h21.1v21.1h-21.1zM1366.1 1517.8h21.1v21.1h-21.1zM466.0 1538.2h21.1v21.1h-21.1zM486.4 1538.2h21.1v21.1h-21.1zM506.9 1538.2h21.1v21.1h-21.1zM527.4 1538.2h21.1v21.1h-21.1zM1243.4 1538.2h21.1v21.1h-21.1zM1263.8 1538.2h21.1v21.1h-21.1zM1284.3 1538.2h21.1v21.1h-21.1zM1304.7 1538.2h21.1v21.1h-21.1zM1325.2 1538.2h21.1v21.1h-21.1zM1345.7 1538.2h21.1v21.1h-21.1zM1366.1 1538.2h21.1v21.1h-21.1zM486.4 1558.7h21.1v21.1h-21.1zM506.9 1558.7h21.1v21.1h-21.1zM527.4 1558.7h21.1v21.1h-21.1zM547.8 1558.7h21.1v21.1h-21.1zM1263.8 1558.7h21.1v21.1h-21.1zM1284.3 1558.7h21.1v21.1h-21.1zM1304.7 1558.7h21.1v21.1h-21.1zM1325.2 1558.7h21.1v21.1h-21.1zM1345.7 1558.7h21.1v21.1h-21.1zM1366.1 1558.7h21.1v21.1h-21.1zM1386.6 1558.7h21.1v21.1h-21.1zM527.4 1579.1h21.1v21.1h-21.1zM547.8 1579.1h21.1v21.1h-21.1zM1304.7 1579.1h21.1v21.1h-21.1zM1325.2 1579.1h21.1v21.1h-21.1zM1345.7 1579.1h21.1v21.1h-21.1zM1366.1 1579.1h21.1v21.1h-21.1zM1386.6 1579.1h21.1v21.1h-21.1zM527.4 1599.6h21.1v21.1h-21.1zM1325.2 1599.6h21.1v21.1h-21.1zM1345.7 1599.6h21.1v21.1h-21.1zM1366.1 1599.6h21.1v21.1h-21.1zM1304.7 1620.0h21.1v21.1h-21.1zM1325.2 1620.0h21.1v21.1h-21.1zM1345.7 1620.0h21.1v21.1h-21.1zM1243.4 1640.5h21.1v21.1h-21.1zM997.9 1661.0h21.1v21.1h-21.1zM1018.3 1661.0h21.1v21.1h-21.1zM1038.8 1661.0h21.1v21.1h-21.1zM1202.4 1661.0h21.1v21.1h-21.1zM527.4 1681.4h21.1v21.1h-21.1zM997.9 1681.4h21.1v21.1h-21.1zM997.9 1701.9h21.1v21.1h-21.1zM547.8 1722.3h21.1v21.1h-21.1zM1079.7 1722.3h21.1v21.1h-21.1zM1100.2 1722.3h21.1v21.1h-21.1zM568.3 1742.8h21.1v21.1h-21.1zM1120.6 1742.8h21.1v21.1h-21.1zM1141.1 1763.2h21.1v21.1h-21.1zM1141.1 1783.7h21.1v21.1h-21.1zM1161.5 1783.7h21.1v21.1h-21.1zM1222.9 1783.7h21.1v21.1h-21.1zM1120.6 1804.2h21.1v21.1h-21.1zM1161.5 1804.2h21.1v21.1h-21.1zM1243.4 1804.2h21.1v21.1h-21.1zM650.1 1824.6h21.1v21.1h-21.1zM670.6 1824.6h21.1v21.1h-21.1zM772.8 1824.6h21.1v21.1h-21.1zM793.3 1824.6h21.1v21.1h-21.1zM813.8 1824.6h21.1v21.1h-21.1zM834.2 1824.6h21.1v21.1h-21.1zM1182.0 1845.1h21.1v21.1h-21.1zM1243.4 1845.1h21.1v21.1h-21.1zM1202.4 1865.5h21.1v21.1h-21.1zM1222.9 1865.5h21.1v21.1h-21.1zM977.4 1886.0h21.1v21.1h-21.1zM895.6 2172.4h21.1v21.1h-21.1zM895.6 2192.9h21.1v21.1h-21.1zM916.0 2192.9h21.1v21.1h-21.1zM793.3 2295.1h21.1v21.1h-21.1zM854.7 2295.1h21.1v21.1h-21.1zM916.0 2336.1h21.1v21.1h-21.1zM1018.3 2336.1h21.1v21.1h-21.1zM1038.8 2336.1h21.1v21.1h-21.1zM957.0 2356.5h21.1v21.1h-21.1zM1079.7 2356.5h21.1v21.1h-21.1zM1100.2 2397.4h21.1v21.1h-21.1zM650.1 2458.8h21.1v21.1h-21.1zM1059.2 2479.3h21.1v21.1h-21.1zM997.9 2520.2h21.1v21.1h-21.1zM977.4 2540.6h21.1v21.1h-21.1zM629.6 2561.1h21.1v21.1h-21.1zM957.0 2561.1h21.1v21.1h-21.1zM650.1 2581.5h21.1v21.1h-21.1zM691.0 2602.0h21.1v21.1h-21.1zM711.5 2602.0h21.1v21.1h-21.1zM793.3 2642.9h21.1v21.1h-21.1zM793.3 2663.4h21.1v21.1h-21.1zM793.3 2683.8h21.1v21.1h-21.1zM588.7 2704.3h21.1v21.1h-21.1zM609.2 2704.3h21.1v21.1h-21.1zM629.6 2704.3h21.1v21.1h-21.1zM650.1 2704.3h21.1v21.1h-21.1zM670.6 2704.3h21.1v21.1h-21.1zM691.0 2704.3h21.1v21.1h-21.1zM711.5 2704.3h21.1v21.1h-21.1zM731.9 2704.3h21.1v21.1h-21.1zM752.4 2704.3h21.1v21.1h-21.1zM772.8 2704.3h21.1v21.1h-21.1zM957.0 2704.3h21.1v21.1h-21.1zM568.3 2724.8h21.1v21.1h-21.1zM957.0 2724.8h21.1v21.1h-21.1zM1632.1 2724.8h21.1v21.1h-21.1zM1652.5 2745.2h21.1v21.1h-21.1zM568.3 2765.7h21.1v21.1h-21.1zM1652.5 2765.7h21.1v21.1h-21.1zM588.7 2786.1h21.1v21.1h-21.1zM1673.0 2786.1h21.1v21.1h-21.1zM1693.4 2806.6h21.1v21.1h-21.1zM1713.9 2806.6h21.1v21.1h-21.1zM1734.3 2806.6h21.1v21.1h-21.1zM650.1 2827.0h21.1v21.1h-21.1zM670.6 2847.5h21.1v21.1h-21.1zM691.0 2868.0h21.1v21.1h-21.1zM1284.3 2888.4h21.1v21.1h-21.1zM1263.8 2908.9h21.1v21.1h-21.1zM957.0 2949.8h21.1v21.1h-21.1zM1202.4 2949.8h21.1v21.1h-21.1zM691.0 2970.2h21.1v21.1h-21.1zM895.6 2970.2h21.1v21.1h-21.1zM916.0 2970.2h21.1v21.1h-21.1zM1161.5 2970.2h21.1v21.1h-21.1zM670.6 2990.7h21.1v21.1h-21.1zM875.1 2990.7h21.1v21.1h-21.1zM1038.8 2990.7h21.1v21.1h-21.1zM1059.2 2990.7h21.1v21.1h-21.1zM1079.7 2990.7h21.1v21.1h-21.1zM1100.2 2990.7h21.1v21.1h-21.1zM650.1 3011.2h21.1v21.1h-21.1zM650.1 3031.6h21.1v21.1h-21.1zM997.9 3031.6h21.1v21.1h-21.1zM650.1 3052.1h21.1v21.1h-21.1zM670.6 3093.0h21.1v21.1h-21.1zM670.6 3113.4h21.1v21.1h-21.1zM854.7 3113.4h21.1v21.1h-21.1zM997.9 3113.4h21.1v21.1h-21.1z"/>
<path fill="#ec762e" d="M466.0 1497.3h21.1v21.1h-21.1zM486.4 1497.3h21.1v21.1h-21.1zM506.9 1497.3h21.1v21.1h-21.1zM527.4 1497.3h21.1v21.1h-21.1zM547.8 1497.3h21.1v21.1h-21.1zM568.3 1497.3h21.1v21.1h-21.1zM670.6 1497.3h21.1v21.1h-21.1zM793.3 1497.3h21.1v21.1h-21.1zM1059.2 1497.3h21.1v21.1h-21.1zM1079.7 1497.3h21.1v21.1h-21.1zM1100.2 1497.3h21.1v21.1h-21.1zM1120.6 1497.3h21.1v21.1h-21.1zM486.4 1517.8h21.1v21.1h-21.1zM506.9 1517.8h21.1v21.1h-21.1zM527.4 1517.8h21.1v21.1h-21.1zM547.8 1517.8h21.1v21.1h-21.1zM568.3 1517.8h21.1v21.1h-21.1zM691.0 1517.8h21.1v21.1h-21.1zM752.4 1517.8h21.1v21.1h-21.1zM1120.6 1517.8h21.1v21.1h-21.1zM1141.1 1517.8h21.1v21.1h-21.1zM1161.5 1517.8h21.1v21.1h-21.1zM1182.0 1517.8h21.1v21.1h-21.1zM1202.4 1517.8h21.1v21.1h-21.1zM547.8 1538.2h21.1v21.1h-21.1zM568.3 1538.2h21.1v21.1h-21.1zM1202.4 1538.2h21.1v21.1h-21.1zM1222.9 1538.2h21.1v21.1h-21.1zM568.3 1558.7h21.1v21.1h-21.1zM1243.4 1558.7h21.1v21.1h-21.1zM1284.3 1579.1h21.1v21.1h-21.1zM1304.7 1599.6h21.1v21.1h-21.1zM527.4 1620.0h21.1v21.1h-21.1zM1284.3 1620.0h21.1v21.1h-21.1zM527.4 1640.5h21.1v21.1h-21.1zM527.4 1661.0h21.1v21.1h-21.1zM1059.2 1661.0h21.1v21.1h-21.1zM1079.7 1661.0h21.1v21.1h-21.1zM1100.2 1661.0h21.1v21.1h-21.1zM1161.5 1661.0h21.1v21.1h-21.1zM1182.0 1661.0h21.1v21.1h-21.1zM977.4 1681.4h21.1v21.1h-21.1zM1018.3 1722.3h21.1v21.1h-21.1zM1038.8 1722.3h21.1v21.1h-21.1zM1059.2 1722.3h21.1v21.1h-21.1zM1100.2 1742.8h21.1v21.1h-21.1zM588.7 1763.2h21.1v21.1h-21.1zM1120.6 1763.2h21.1v21.1h-21.1zM1120.6 1783.7h21.1v21.1h-21.1zM1182.0 1783.7h21.1v21.1h-21.1zM1202.4 1783.7h21.1v21.1h-21.1zM1182.0 1804.2h21.1v21.1h-21.1zM916.0 1824.6h21.1v21.1h-21.1zM1100.2 1824.6h21.1v21.1h-21.1zM1182.0 1824.6h21.1v21.1h-21.1zM1243.4 1824.6h21.1v21.1h-21.1zM936.5 1845.1h21.1v21.1h-21.1zM1202.4 1845.1h21.1v21.1h-21.1zM1038.8 1886.0h21.1v21.1h-21.1zM813.8 2295.1h21.1v21.1h-21.1zM834.2 2295.1h21.1v21.1h-21.1zM936.5 2356.5h21.1v21.1h-21.1zM977.4 2356.5h21.1v21.1h-21.1zM670.6 2438.3h21.1v21.1h-21.1zM629.6 2499.7h21.1v21.1h-21.1zM1018.3 2499.7h21.1v21.1h-21.1zM936.5 2581.5h21.1v21.1h-21.1zM731.9 2602.0h21.1v21.1h-21.1zM752.4 2602.0h21.1v21.1h-21.1zM772.8 2602.0h21.1v21.1h-21.1zM793.3 2602.0h21.1v21.1h-21.1zM936.5 2602.0h21.1v21.1h-21.1zM793.3 2622.5h21.1v21.1h-21.1zM936.5 2622.5h21.1v21.1h-21.1zM793.3 2704.3h21.1v21.1h-21.1zM1591.1 2704.3h21.1v21.1h-21.1zM1611.6 2704.3h21.1v21.1h-21.1zM568.3 2745.2h21.1v21.1h-21.1zM957.0 2745.2h21.1v21.1h-21.1zM1632.1 2745.2h21.1v21.1h-21.1zM957.0 2765.7h21.1v21.1h-21.1zM1632.1 2765.7h21.1v21.1h-21.1zM1632.1 2786.1h21.1v21.1h-21.1zM1652.5 2786.1h21.1v21.1h-21.1zM629.6 2806.6h21.1v21.1h-21.1zM1652.5 2806.6h21.1v21.1h-21.1zM1673.0 2806.6h21.1v21.1h-21.1zM1652.5 2827.0h21.1v21.1h-21.1zM1673.0 2827.0h21.1v21.1h-21.1zM1693.4 2827.0h21.1v21.1h-21.1zM1713.9 2827.0h21.1v21.1h-21.1zM1734.3 2827.0h21.1v21.1h-21.1zM1366.1 2847.5h21.1v21.1h-21.1zM1570.7 2847.5h21.1v21.1h-21.1zM1591.1 2847.5h21.1v21.1h-21.1zM1591.1 2868.0h21.1v21.1h-21.1zM1611.6 2868.0h21.1v21.1h-21.1zM711.5 2908.9h21.1v21.1h-21.1zM711.5 2929.3h21.1v21.1h-21.1zM957.0 2929.3h21.1v21.1h-21.1zM1243.4 2929.3h21.1v21.1h-21.1zM711.5 2949.8h21.1v21.1h-21.1zM936.5 2949.8h21.1v21.1h-21.1zM1693.4 2949.8h21.1v21.1h-21.1zM1713.9 2949.8h21.1v21.1h-21.1zM1734.3 2949.8h21.1v21.1h-21.1zM875.1 2970.2h21.1v21.1h-21.1zM1713.9 2970.2h21.1v21.1h-21.1zM1734.3 2970.2h21.1v21.1h-21.1zM1120.6 2990.7h21.1v21.1h-21.1zM1734.3 2990.7h21.1v21.1h-21.1zM854.7 3011.2h21.1v21.1h-21.1zM670.6 3072.5h21.1v21.1h-21.1zM691.0 3093.0h21.1v21.1h-21.1z"/>
<path fill="#f07030" d="M588.7 1497.3h21.1v21.1h-21.1zM609.2 1497.3h21.1v21.1h-21.1zM629.6 1497.3h21.1v21.1h-21.1zM650.1 1497.3h21.1v21.1h-21.1zM813.8 1497.3h21.1v21.1h-21.1zM1018.3 1497.3h21.1v21.1h-21.1zM1038.8 1497.3h21.1v21.1h-21.1zM588.7 1517.8h21.1v21.1h-21.1zM609.2 1517.8h21.1v21.1h-21.1zM629.6 1517.8h21.1v21.1h-21.1zM650.1 1517.8h21.1v21.1h-21.1zM670.6 1517.8h21.1v21.1h-21.1zM588.7 1538.2h21.1v21.1h-21.1zM609.2 1538.2h21.1v21.1h-21.1zM629.6 1538.2h21.1v21.1h-21.1zM650.1 1538.2h21.1v21.1h-21.1zM1182.0 1538.2h21.1v21.1h-21.1zM588.7 1558.7h21.1v21.1h-21.1zM568.3 1579.1h21.1v21.1h-21.1zM547.8 1599.6h21.1v21.1h-21.1zM1263.8 1620.0h21.1v21.1h-21.1zM997.9 1640.5h21.1v21.1h-21.1zM1018.3 1640.5h21.1v21.1h-21.1zM1222.9 1640.5h21.1v21.1h-21.1zM977.4 1661.0h21.1v21.1h-21.1zM1120.6 1661.0h21.1v21.1h-21.1zM1141.1 1661.0h21.1v21.1h-21.1zM547.8 1701.9h21.1v21.1h-21.1zM977.4 1701.9h21.1v21.1h-21.1zM997.9 1722.3h21.1v21.1h-21.1zM609.2 1783.7h21.1v21.1h-21.1zM629.6 1804.2h21.1v21.1h-21.1zM1100.2 1804.2h21.1v21.1h-21.1zM1202.4 1804.2h21.1v21.1h-21.1zM1222.9 1804.2h21.1v21.1h-21.1zM1202.4 1824.6h21.1v21.1h-21.1zM1222.9 1824.6h21.1v21.1h-21.1zM1079.7 1845.1h21.1v21.1h-21.1zM1222.9 1845.1h21.1v21.1h-21.1zM957.0 1865.5h21.1v21.1h-21.1zM1059.2 1865.5h21.1v21.1h-21.1zM997.9 1886.0h21.1v21.1h-21.1zM1018.3 1886.0h21.1v21.1h-21.1zM875.1 2315.6h21.1v21.1h-21.1zM691.0 2356.5h21.1v21.1h-21.1zM629.6 2520.2h21.1v21.1h-21.1zM977.4 2520.2h21.1v21.1h-21.1zM629.6 2540.6h21.1v21.1h-21.1zM957.0 2540.6h21.1v21.1h-21.1zM793.3 2561.1h21.1v21.1h-21.1zM670.6 2581.5h21.1v21.1h-21.1zM772.8 2581.5h21.1v21.1h-21.1zM793.3 2581.5h21.1v21.1h-21.1zM813.8 2622.5h21.1v21.1h-21.1zM813.8 2642.9h21.1v21.1h-21.1zM936.5 2642.9h21.1v21.1h-21.1zM813.8 2663.4h21.1v21.1h-21.1zM588.7 2724.8h21.1v21.1h-21.1zM609.2 2724.8h21.1v21.1h-21.1zM629.6 2724.8h21.1v21.1h-21.1zM650.1 2724.8h21.1v21.1h-21.1zM670.6 2724.8h21.1v21.1h-21.1zM1611.6 2745.2h21.1v21.1h-21.1zM588.7 2765.7h21.1v21.1h-21.1zM1611.6 2765.7h21.1v21.1h-21.1zM609.2 2786.1h21.1v21.1h-21.1zM957.0 2786.1h21.1v21.1h-21.1zM1591.1 2786.1h21.1v21.1h-21.1zM1611.6 2786.1h21.1v21.1h-21.1zM957.0 2806.6h21.1v21.1h-21.1zM1447.9 2806.6h21.1v21.1h-21.1zM1570.7 2806.6h21.1v21.1h-21.1zM1591.1 2806.6h21.1v21.1h-21.1zM1611.6 2806.6h21.1v21.1h-21.1zM1632.1 2806.6h21.1v21.1h-21.1zM957.0 2827.0h21.1v21.1h-21.1zM1407.0 2827.0h21.1v21.1h-21.1zM1550.2 2827.0h21.1v21.1h-21.1zM1570.7 2827.0h21.1v21.1h-21.1zM1591.1 2827.0h21.1v21.1h-21.1zM1611.6 2827.0h21.1v21.1h-21.1zM1632.1 2827.0h21.1v21.1h-21.1zM691.0 2847.5h21.1v21.1h-21.1zM957.0 2847.5h21.1v21.1h-21.1zM1550.2 2847.5h21.1v21.1h-21.1zM1611.6 2847.5h21.1v21.1h-21.1zM1632.1 2847.5h21.1v21.1h-21.1zM1652.5 2847.5h21.1v21.1h-21.1zM1673.0 2847.5h21.1v21.1h-21.1zM1693.4 2847.5h21.1v21.1h-21.1zM1713.9 2847.5h21.1v21.1h-21.1zM1734.3 2847.5h21.1v21.1h-21.1zM957.0 2868.0h21.1v21.1h-21.1zM1325.2 2868.0h21.1v21.1h-21.1zM1529.8 2868.0h21.1v21.1h-21.1zM1550.2 2868.0h21.1v21.1h-21.1zM1570.7 2868.0h21.1v21.1h-21.1zM1632.1 2868.0h21.1v21.1h-21.1zM1652.5 2868.0h21.1v21.1h-21.1zM1673.0 2868.0h21.1v21.1h-21.1zM1693.4 2868.0h21.1v21.1h-21.1zM1713.9 2868.0h21.1v21.1h-21.1zM1734.3 2868.0h21.1v21.1h-21.1zM711.5 2888.4h21.1v21.1h-21.1zM957.0 2888.4h21.1v21.1h-21.1zM1509.3 2888.4h21.1v21.1h-21.1zM1529.8 2888.4h21.1v21.1h-21.1zM1550.2 2888.4h21.1v21.1h-21.1zM1570.7 2888.4h21.1v21.1h-21.1zM1591.1 2888.4h21.1v21.1h-21.1zM1611.6 2888.4h21.1v21.1h-21.1zM1632.1 2888.4h21.1v21.1h-21.1zM1652.5 2888.4h21.1v21.1h-21.1zM1673.0 2888.4h21.1v21.1h-21.1zM1693.4 2888.4h21.1v21.1h-21.1zM1713.9 2888.4h21.1v21.1h-21.1zM1734.3 2888.4h21.1v21.1h-21.1zM957.0 2908.9h21.1v21.1h-21.1zM1509.3 2908.9h21.1v21.1h-21.1zM1529.8 2908.9h21.1v21.1h-21.1zM1550.2 2908.9h21.1v21.1h-21.1zM1570.7 2908.9h21.1v21.1h-21.1zM1591.1 2908.9h21.1v21.1h-21.1zM1611.6 2908.9h21.1v21.1h-21.1zM1632.1 2908.9h21.1v21.1h-21.1zM1652.5 2908.9h21.1v21.1h-21.1zM1673.0 2908.9h21.1v21.1h-21.1zM1693.4 2908.9h21.1v21.1h-21.1zM1713.9 2908.9h21.1v21.1h-21.1zM1734.3 2908.9h21.1v21.1h-21.1zM936.5 2929.3h21.1v21.1h-21.1zM1468.4 2929.3h21.1v21.1h-21.1zM1488.9 2929.3h21.1v21.1h-21.1zM1509.3 2929.3h21.1v21.1h-21.1zM1570.7 2929.3h21.1v21.1h-21.1zM1591.1 2929.3h21.1v21.1h-21.1zM1611.6 2929.3h21.1v21.1h-21.1zM1632.1 2929.3h21.1v21.1h-21.1zM1652.5 2929.3h21.1v21.1h-21.1zM1673.0 2929.3h21.1v21.1h-21.1zM1693.4 2929.3h21.1v21.1h-21.1zM1713.9 2929.3h21.1v21.1h-21.1zM1734.3 2929.3h21.1v21.1h-21.1zM916.0 2949.8h21.1v21.1h-21.1zM1468.4 2949.8h21.1v21.1h-21.1zM1488.9 2949.8h21.1v21.1h-21.1zM1509.3 2949.8h21.1v21.1h-21.1zM1591.1 2949.8h21.1v21.1h-21.1zM1611.6 2949.8h21.1v21.1h-21.1zM1632.1 2949.8h21.1v21.1h-21.1zM1652.5 2949.8h21.1v21.1h-21.1zM1673.0 2949.8h21.1v21.1h-21.1zM711.5 2970.2h21.1v21.1h-21.1zM1468.4 2970.2h21.1v21.1h-21.1zM1488.9 2970.2h21.1v21.1h-21.1zM1611.6 2970.2h21.1v21.1h-21.1zM1632.1 2970.2h21.1v21.1h-21.1zM1652.5 2970.2h21.1v21.1h-21.1zM1673.0 2970.2h21.1v21.1h-21.1zM1693.4 2970.2h21.1v21.1h-21.1zM691.0 2990.7h21.1v21.1h-21.1zM854.7 2990.7h21.1v21.1h-21.1zM1632.1 2990.7h21.1v21.1h-21.1zM1652.5 2990.7h21.1v21.1h-21.1zM1673.0 2990.7h21.1v21.1h-21.1zM1693.4 2990.7h21.1v21.1h-21.1zM1713.9 2990.7h21.1v21.1h-21.1zM670.6 3011.2h21.1v21.1h-21.1zM1018.3 3011.2h21.1v21.1h-21.1zM1386.6 3011.2h21.1v21.1h-21.1zM1407.0 3011.2h21.1v21.1h-21.1zM1427.5 3011.2h21.1v21.1h-21.1zM1652.5 3011.2h21.1v21.1h-21.1zM1673.0 3011.2h21.1v21.1h-21.1zM1693.4 3011.2h21.1v21.1h-21.1zM1713.9 3011.2h21.1v21.1h-21.1zM1734.3 3011.2h21.1v21.1h-21.1zM854.7 3031.6h21.1v21.1h-21.1zM1366.1 3031.6h21.1v21.1h-21.1zM1386.6 3031.6h21.1v21.1h-21.1zM1407.0 3031.6h21.1v21.1h-21.1zM1427.5 3031.6h21.1v21.1h-21.1zM1652.5 3031.6h21.1v21.1h-21.1zM1673.0 3031.6h21.1v21.1h-21.1zM1693.4 3031.6h21.1v21.1h-21.1zM1713.9 3031.6h21.1v21.1h-21.1zM1734.3 3031.6h21.1v21.1h-21.1zM854.7 3052.1h21.1v21.1h-21.1zM997.9 3052.1h21.1v21.1h-21.1zM1366.1 3052.1h21.1v21.1h-21.1zM1386.6 3052.1h21.1v21.1h-21.1zM1407.0 3052.1h21.1v21.1h-21.1zM1427.5 3052.1h21.1v21.1h-21.1zM1673.0 3052.1h21.1v21.1h-21.1zM1693.4 3052.1h21.1v21.1h-21.1zM1713.9 3052.1h21.1v21.1h-21.1zM1734.3 3052.1h21.1v21.1h-21.1zM997.9 3072.5h21.1v21.1h-21.1zM1386.6 3072.5h21.1v21.1h-21.1zM1407.0 3072.5h21.1v21.1h-21.1zM1713.9 3072.5h21.1v21.1h-21.1zM1734.3 3072.5h21.1v21.1h-21.1zM1222.9 3093.0h21.1v21.1h-21.1zM1243.4 3093.0h21.1v21.1h-21.1zM1263.8 3093.0h21.1v21.1h-21.1zM1284.3 3093.0h21.1v21.1h-21.1zM691.0 3113.4h21.1v21.1h-21.1zM834.2 3113.4h21.1v21.1h-21.1zM1018.3 3113.4h21.1v21.1h-21.1zM1222.9 3113.4h21.1v21.1h-21.1zM1243.4 3113.4h21.1v21.1h-21.1zM1263.8 3113.4h21.1v21.1h-21.1zM1284.3 3113.4h21.1v21.1h-21.1zM1304.7 3113.4h21.1v21.1h-21.1z"/>
<path fill="#f26a34" d="M834.2 1497.3h21.1v21.1h-21.1zM997.9 1497.3h21.1v21.1h-21.1zM772.8 1517.8h21.1v21.1h-21.1zM1100.2 1517.8h21.1v21.1h-21.1zM670.6 1538.2h21.1v21.1h-21.1zM1161.5 1538.2h21.1v21.1h-21.1zM609.2 1558.7h21.1v21.1h-21.1zM1222.9 1558.7h21.1v21.1h-21.1zM1263.8 1579.1h21.1v21.1h-21.1zM1284.3 1599.6h21.1v21.1h-21.1zM977.4 1640.5h21.1v21.1h-21.1zM1038.8 1640.5h21.1v21.1h-21.1zM1059.2 1640.5h21.1v21.1h-21.1zM1202.4 1640.5h21.1v21.1h-21.1zM547.8 1681.4h21.1v21.1h-21.1zM568.3 1722.3h21.1v21.1h-21.1zM977.4 1722.3h21.1v21.1h-21.1zM588.7 1742.8h21.1v21.1h-21.1zM1079.7 1742.8h21.1v21.1h-21.1zM1100.2 1763.2h21.1v21.1h-21.1zM1100.2 1783.7h21.1v21.1h-21.1zM731.9 2315.6h21.1v21.1h-21.1zM895.6 2336.1h21.1v21.1h-21.1zM916.0 2356.5h21.1v21.1h-21.1zM997.9 2356.5h21.1v21.1h-21.1zM1059.2 2356.5h21.1v21.1h-21.1zM691.0 2377.0h21.1v21.1h-21.1zM1079.7 2377.0h21.1v21.1h-21.1zM1079.7 2438.3h21.1v21.1h-21.1zM1038.8 2479.3h21.1v21.1h-21.1zM997.9 2499.7h21.1v21.1h-21.1zM793.3 2540.6h21.1v21.1h-21.1zM813.8 2540.6h21.1v21.1h-21.1zM650.1 2561.1h21.1v21.1h-21.1zM772.8 2561.1h21.1v21.1h-21.1zM813.8 2561.1h21.1v21.1h-21.1zM936.5 2561.1h21.1v21.1h-21.1zM691.0 2581.5h21.1v21.1h-21.1zM711.5 2581.5h21.1v21.1h-21.1zM731.9 2581.5h21.1v21.1h-21.1zM752.4 2581.5h21.1v21.1h-21.1zM813.8 2581.5h21.1v21.1h-21.1zM813.8 2602.0h21.1v21.1h-21.1zM936.5 2663.4h21.1v21.1h-21.1zM813.8 2683.8h21.1v21.1h-21.1zM813.8 2704.3h21.1v21.1h-21.1zM691.0 2724.8h21.1v21.1h-21.1zM711.5 2724.8h21.1v21.1h-21.1zM731.9 2724.8h21.1v21.1h-21.1zM752.4 2724.8h21.1v21.1h-21.1zM772.8 2724.8h21.1v21.1h-21.1zM793.3 2724.8h21.1v21.1h-21.1zM1550.2 2724.8h21.1v21.1h-21.1zM1611.6 2724.8h21.1v21.1h-21.1zM588.7 2745.2h21.1v21.1h-21.1zM609.2 2745.2h21.1v21.1h-21.1zM629.6 2745.2h21.1v21.1h-21.1zM609.2 2765.7h21.1v21.1h-21.1zM1509.3 2765.7h21.1v21.1h-21.1zM629.6 2786.1h21.1v21.1h-21.1zM1488.9 2786.1h21.1v21.1h-21.1zM650.1 2806.6h21.1v21.1h-21.1zM670.6 2827.0h21.1v21.1h-21.1zM1529.8 2847.5h21.1v21.1h-21.1zM711.5 2868.0h21.1v21.1h-21.1zM731.9 2908.9h21.1v21.1h-21.1zM1488.9 2908.9h21.1v21.1h-21.1zM731.9 2929.3h21.1v21.1h-21.1zM1447.9 2929.3h21.1v21.1h-21.1zM1529.8 2929.3h21.1v21.1h-21.1zM1550.2 2929.3h21.1v21.1h-21.1zM731.9 2949.8h21.1v21.1h-21.1zM875.1 2949.8h21.1v21.1h-21.1zM895.6 2949.8h21.1v21.1h-21.1zM1427.5 2949.8h21.1v21.1h-21.1zM1447.9 2949.8h21.1v21.1h-21.1zM1529.8 2949.8h21.1v21.1h-21.1zM1550.2 2949.8h21.1v21.1h-21.1zM1570.7 2949.8h21.1v21.1h-21.1zM854.7 2970.2h21.1v21.1h-21.1zM1407.0 2970.2h21.1v21.1h-21.1zM1427.5 2970.2h21.1v21.1h-21.1zM1447.9 2970.2h21.1v21.1h-21.1zM1509.3 2970.2h21.1v21.1h-21.1zM1529.8 2970.2h21.1v21.1h-21.1zM1550.2 2970.2h21.1v21.1h-21.1zM1570.7 2970.2h21.1v21.1h-21.1zM1591.1 2970.2h21.1v21.1h-21.1zM834.2 2990.7h21.1v21.1h-21.1zM1141.1 2990.7h21.1v21.1h-21.1zM1386.6 2990.7h21.1v21.1h-21.1zM1407.0 2990.7h21.1v21.1h-21.1zM1427.5 2990.7h21.1v21.1h-21.1zM1447.9 2990.7h21.1v21.1h-21.1zM1468.4 2990.7h21.1v21.1h-21.1zM1488.9 2990.7h21.1v21.1h-21.1zM1509.3 2990.7h21.1v21.1h-21.1zM1529.8 2990.7h21.1v21.1h-21.1zM1550.2 2990.7h21.1v21.1h-21.1zM1570.7 2990.7h21.1v21.1h-21.1zM1591.1 2990.7h21.1v21.1h-21.1zM1611.6 2990.7h21.1v21.1h-21.1zM1345.7 3011.2h21.1v21.1h-21.1zM1366.1 3011.2h21.1v21.1h-21.1zM1447.9 3011.2h21.1v21.1h-21.1zM1468.4 3011.2h21.1v21.1h-21.1zM1488.9 3011.2h21.1v21.1h-21.1zM1509.3 3011.2h21.1v21.1h-21.1zM1529.8 3011.2h21.1v21.1h-21.1zM1550.2 3011.2h21.1v21.1h-21.1zM1570.7 3011.2h21.1v21.1h-21.1zM1591.1 3011.2h21.1v21.1h-21.1zM1611.6 3011.2h21.1v21.1h-21.1zM1632.1 3011.2h21.1v21.1h-21.1zM670.6 3031.6h21.1v21.1h-21.1zM1345.7 3031.6h21.1v21.1h-21.1zM1447.9 3031.6h21.1v21.1h-21.1zM1468.4 3031.6h21.1v21.1h-21.1zM1488.9 3031.6h21.1v21.1h-21.1zM1509.3 3031.6h21.1v21.1h-21.1zM1529.8 3031.6h21.1v21.1h-21.1zM1550.2 3031.6h21.1v21.1h-21.1zM1570.7 3031.6h21.1v21.1h-21.1zM1591.1 3031.6h21.1v21.1h-21.1zM1611.6 3031.6h21.1v21.1h-21.1zM1632.1 3031.6h21.1v21.1h-21.1zM1325.2 3052.1h21.1v21.1h-21.1zM1345.7 3052.1h21.1v21.1h-21.1zM1447.9 3052.1h21.1v21.1h-21.1zM1468.4 3052.1h21.1v21.1h-21.1zM1488.9 3052.1h21.1v21.1h-21.1zM1509.3 3052.1h21.1v21.1h-21.1zM1529.8 3052.1h21.1v21.1h-21.1zM1550.2 3052.1h21.1v21.1h-21.1zM1570.7 3052.1h21.1v21.1h-21.1zM1591.1 3052.1h21.1v21.1h-21.1zM1611.6 3052.1h21.1v21.1h-21.1zM1632.1 3052.1h21.1v21.1h-21.1zM1652.5 3052.1h21.1v21.1h-21.1zM854.7 3072.5h21.1v21.1h-21.1zM1222.9 3072.5h21.1v21.1h-21.1zM1243.4 3072.5h21.1v21.1h-21.1zM1263.8 3072.5h21.1v21.1h-21.1zM1284.3 3072.5h21.1v21.1h-21.1zM1304.7 3072.5h21.1v21.1h-21.1zM1325.2 3072.5h21.1v21.1h-21.1zM1345.7 3072.5h21.1v21.1h-21.1zM1366.1 3072.5h21.1v21.1h-21.1zM1427.5 3072.5h21.1v21.1h-21.1zM1447.9 3072.5h21.1v21.1h-21.1zM1468.4 3072.5h21.1v21.1h-21.1zM1488.9 3072.5h21.1v21.1h-21.1zM1509.3 3072.5h21.1v21.1h-21.1zM1529.8 3072.5h21.1v21.1h-21.1zM1550.2 3072.5h21.1v21.1h-21.1zM1570.7 3072.5h21.1v21.1h-21.1zM1591.1 3072.5h21.1v21.1h-21.1zM1611.6 3072.5h21.1v21.1h-21.1zM1632.1 3072.5h21.1v21.1h-21.1zM1652.5 3072.5h21.1v21.1h-21.1zM1673.0 3072.5h21.1v21.1h-21.1zM1693.4 3072.5h21.1v21.1h-21.1zM711.5 3093.0h21.1v21.1h-21.1zM854.7 3093.0h21.1v21.1h-21.1zM997.9 3093.0h21.1v21.1h-21.1zM1202.4 3093.0h21.1v21.1h-21.1zM1304.7 3093.0h21.1v21.1h-21.1zM1325.2 3093.0h21.1v21.1h-21.1zM1345.7 3093.0h21.1v21.1h-21.1zM1366.1 3093.0h21.1v21.1h-21.1zM1386.6 3093.0h21.1v21.1h-21.1zM1407.0 3093.0h21.1v21.1h-21.1zM1427.5 3093.0h21.1v21.1h-21.1zM1447.9 3093.0h21.1v21.1h-21.1zM1468.4 3093.0h21.1v21.1h-21.1zM1488.9 3093.0h21.1v21.1h-21.1zM1509.3 3093.0h21.1v21.1h-21.1zM1529.8 3093.0h21.1v21.1h-21.1zM1550.2 3093.0h21.1v21.1h-21.1zM1570.7 3093.0h21.1v21.1h-21.1zM1591.1 3093.0h21.1v21.1h-21.1zM1611.6 3093.0h21.1v21.1h-21.1zM1632.1 3093.0h21.1v21.1h-21.1zM1652.5 3093.0h21.1v21.1h-21.1zM1673.0 3093.0h21.1v21.1h-21.1zM1693.4 3093.0h21.1v21.1h-21.1zM1713.9 3093.0h21.1v21.1h-21.1zM1734.3 3093.0h21.1v21.1h-21.1zM711.5 3113.4h21.1v21.1h-21.1zM1202.4 3113.4h21.1v21.1h-21.1zM1325.2 3113.4h21.1v21.1h-21.1zM1345.7 3113.4h21.1v21.1h-21.1zM1366.1 3113.4h21.1v21.1h-21.1zM1386.6 3113.4h21.1v21.1h-21.1zM1407.0 3113.4h21.1v21.1h-21.1zM1427.5 3113.4h21.1v21.1h-21.1zM1447.9 3113.4h21.1v21.1h-21.1zM1468.4 3113.4h21.1v21.1h-21.1zM1488.9 3113.4h21.1v21.1h-21.1zM1509.3 3113.4h21.1v21.1h-21.1zM1529.8 3113.4h21.1v21.1h-21.1zM1550.2 3113.4h21.1v21.1h-21.1zM1570.7 3113.4h21.1v21.1h-21.1zM1591.1 3113.4h21.1v21.1h-21.1zM1611.6 3113.4h21.1v21.1h-21.1zM1632.1 3113.4h21.1v21.1h-21.1zM1652.5 3113.4h21.1v21.1h-21.1zM1673.0 3113.4h21.1v21.1h-21.1zM1693.4 3113.4h21.1v21.1h-21.1zM1713.9 3113.4h21.1v21.1h-21.1zM1734.3 3113.4h21.1v21.1h-21.1z"/>
<path fill="#f46438" d="M854.7 1497.3h21.1v21.1h-21.1zM875.1 1497.3h21.1v21.1h-21.1zM957.0 1497.3h21.1v21.1h-21.1zM977.4 1497.3h21.1v21.1h-21.1zM1079.7 1517.8h21.1v21.1h-21.1zM691.0 1538.2h21.1v21.1h-21.1zM711.5 1538.2h21.1v21.1h-21.1zM731.9 1538.2h21.1v21.1h-21.1zM1263.8 1599.6h21.1v21.1h-21.1zM547.8 1620.0h21.1v21.1h-21.1zM997.9 1620.0h21.1v21.1h-21.1zM1243.4 1620.0h21.1v21.1h-21.1zM547.8 1640.5h21.1v21.1h-21.1zM1079.7 1640.5h21.1v21.1h-21.1zM1100.2 1640.5h21.1v21.1h-21.1zM1120.6 1640.5h21.1v21.1h-21.1zM1161.5 1640.5h21.1v21.1h-21.1zM1182.0 1640.5h21.1v21.1h-21.1zM547.8 1661.0h21.1v21.1h-21.1zM957.0 1681.4h21.1v21.1h-21.1zM997.9 1742.8h21.1v21.1h-21.1zM1018.3 1742.8h21.1v21.1h-21.1zM1038.8 1742.8h21.1v21.1h-21.1zM1059.2 1742.8h21.1v21.1h-21.1zM609.2 1763.2h21.1v21.1h-21.1zM650.1 1804.2h21.1v21.1h-21.1zM670.6 1804.2h21.1v21.1h-21.1zM691.0 1804.2h21.1v21.1h-21.1zM711.5 1804.2h21.1v21.1h-21.1zM936.5 1824.6h21.1v21.1h-21.1zM1079.7 1824.6h21.1v21.1h-21.1zM854.7 2315.6h21.1v21.1h-21.1zM957.0 2377.0h21.1v21.1h-21.1zM691.0 2397.4h21.1v21.1h-21.1zM1059.2 2458.8h21.1v21.1h-21.1zM650.1 2479.3h21.1v21.1h-21.1zM793.3 2520.2h21.1v21.1h-21.1zM772.8 2540.6h21.1v21.1h-21.1zM752.4 2561.1h21.1v21.1h-21.1zM834.2 2561.1h21.1v21.1h-21.1zM834.2 2581.5h21.1v21.1h-21.1zM916.0 2581.5h21.1v21.1h-21.1zM834.2 2602.0h21.1v21.1h-21.1zM916.0 2602.0h21.1v21.1h-21.1zM916.0 2622.5h21.1v21.1h-21.1zM936.5 2683.8h21.1v21.1h-21.1zM813.8 2724.8h21.1v21.1h-21.1zM650.1 2745.2h21.1v21.1h-21.1zM1529.8 2745.2h21.1v21.1h-21.1zM629.6 2765.7h21.1v21.1h-21.1zM1591.1 2765.7h21.1v21.1h-21.1zM650.1 2786.1h21.1v21.1h-21.1zM670.6 2806.6h21.1v21.1h-21.1zM691.0 2827.0h21.1v21.1h-21.1zM711.5 2847.5h21.1v21.1h-21.1zM1386.6 2847.5h21.1v21.1h-21.1zM1509.3 2868.0h21.1v21.1h-21.1zM731.9 2888.4h21.1v21.1h-21.1zM936.5 2888.4h21.1v21.1h-21.1zM1488.9 2888.4h21.1v21.1h-21.1zM936.5 2908.9h21.1v21.1h-21.1zM1468.4 2908.9h21.1v21.1h-21.1zM916.0 2929.3h21.1v21.1h-21.1zM752.4 2949.8h21.1v21.1h-21.1zM854.7 2949.8h21.1v21.1h-21.1zM1222.9 2949.8h21.1v21.1h-21.1zM731.9 2970.2h21.1v21.1h-21.1zM813.8 2970.2h21.1v21.1h-21.1zM834.2 2970.2h21.1v21.1h-21.1zM1182.0 2970.2h21.1v21.1h-21.1zM711.5 2990.7h21.1v21.1h-21.1zM1366.1 2990.7h21.1v21.1h-21.1zM691.0 3011.2h21.1v21.1h-21.1zM834.2 3011.2h21.1v21.1h-21.1zM1038.8 3011.2h21.1v21.1h-21.1zM1018.3 3031.6h21.1v21.1h-21.1zM1304.7 3031.6h21.1v21.1h-21.1zM1325.2 3031.6h21.1v21.1h-21.1zM670.6 3052.1h21.1v21.1h-21.1zM1263.8 3052.1h21.1v21.1h-21.1zM1284.3 3052.1h21.1v21.1h-21.1zM1304.7 3052.1h21.1v21.1h-21.1zM1202.4 3072.5h21.1v21.1h-21.1zM1182.0 3093.0h21.1v21.1h-21.1zM731.9 3113.4h21.1v21.1h-21.1zM813.8 3113.4h21.1v21.1h-21.1zM1038.8 3113.4h21.1v21.1h-21.1zM1182.0 3113.4h21.1v21.1h-21.1z"/>
<path fill="#f65e3c" d="M895.6 1497.3h21.1v21.1h-21.1zM916.0 1497.3h21.1v21.1h-21.1zM936.5 1497.3h21.1v21.1h-21.1zM752.4 1538.2h21.1v21.1h-21.1zM1141.1 1538.2h21.1v21.1h-21.1zM977.4 1620.0h21.1v21.1h-21.1zM1018.3 1620.0h21.1v21.1h-21.1zM957.0 1640.5h21.1v21.1h-21.1zM1141.1 1640.5h21.1v21.1h-21.1zM957.0 1661.0h21.1v21.1h-21.1zM568.3 1701.9h21.1v21.1h-21.1zM957.0 1701.9h21.1v21.1h-21.1zM588.7 1722.3h21.1v21.1h-21.1zM957.0 1722.3h21.1v21.1h-21.1zM977.4 1742.8h21.1v21.1h-21.1zM1079.7 1763.2h21.1v21.1h-21.1zM629.6 1783.7h21.1v21.1h-21.1zM731.9 1804.2h21.1v21.1h-21.1zM752.4 1804.2h21.1v21.1h-21.1zM875.1 1804.2h21.1v21.1h-21.1zM895.6 1804.2h21.1v21.1h-21.1zM916.0 1804.2h21.1v21.1h-21.1zM957.0 1845.1h21.1v21.1h-21.1zM1059.2 1845.1h21.1v21.1h-21.1zM977.4 1865.5h21.1v21.1h-21.1zM1038.8 1865.5h21.1v21.1h-21.1zM752.4 2315.6h21.1v21.1h-21.1zM813.8 2315.6h21.1v21.1h-21.1zM834.2 2315.6h21.1v21.1h-21.1zM711.5 2336.1h21.1v21.1h-21.1zM875.1 2336.1h21.1v21.1h-21.1zM1018.3 2356.5h21.1v21.1h-21.1zM1038.8 2356.5h21.1v21.1h-21.1zM936.5 2377.0h21.1v21.1h-21.1zM977.4 2377.0h21.1v21.1h-21.1zM1079.7 2397.4h21.1v21.1h-21.1zM691.0 2417.9h21.1v21.1h-21.1zM1079.7 2417.9h21.1v21.1h-21.1zM670.6 2458.8h21.1v21.1h-21.1zM1018.3 2479.3h21.1v21.1h-21.1zM977.4 2499.7h21.1v21.1h-21.1zM813.8 2520.2h21.1v21.1h-21.1zM957.0 2520.2h21.1v21.1h-21.1zM834.2 2540.6h21.1v21.1h-21.1zM936.5 2540.6h21.1v21.1h-21.1zM834.2 2622.5h21.1v21.1h-21.1zM834.2 2642.9h21.1v21.1h-21.1zM834.2 2663.4h21.1v21.1h-21.1zM936.5 2704.3h21.1v21.1h-21.1zM936.5 2724.8h21.1v21.1h-21.1zM670.6 2745.2h21.1v21.1h-21.1zM691.0 2745.2h21.1v21.1h-21.1zM772.8 2745.2h21.1v21.1h-21.1zM793.3 2745.2h21.1v21.1h-21.1zM936.5 2745.2h21.1v21.1h-21.1zM650.1 2765.7h21.1v21.1h-21.1zM936.5 2765.7h21.1v21.1h-21.1zM936.5 2786.1h21.1v21.1h-21.1zM936.5 2806.6h21.1v21.1h-21.1zM1468.4 2806.6h21.1v21.1h-21.1zM936.5 2827.0h21.1v21.1h-21.1zM936.5 2847.5h21.1v21.1h-21.1zM731.9 2868.0h21.1v21.1h-21.1zM936.5 2868.0h21.1v21.1h-21.1zM752.4 2908.9h21.1v21.1h-21.1zM916.0 2908.9h21.1v21.1h-21.1zM752.4 2929.3h21.1v21.1h-21.1zM875.1 2929.3h21.1v21.1h-21.1zM895.6 2929.3h21.1v21.1h-21.1zM772.8 2949.8h21.1v21.1h-21.1zM793.3 2949.8h21.1v21.1h-21.1zM813.8 2949.8h21.1v21.1h-21.1zM834.2 2949.8h21.1v21.1h-21.1zM752.4 2970.2h21.1v21.1h-21.1zM772.8 2970.2h21.1v21.1h-21.1zM793.3 2970.2h21.1v21.1h-21.1zM813.8 2990.7h21.1v21.1h-21.1zM1059.2 3011.2h21.1v21.1h-21.1zM1243.4 3052.1h21.1v21.1h-21.1zM691.0 3072.5h21.1v21.1h-21.1zM731.9 3093.0h21.1v21.1h-21.1zM1161.5 3093.0h21.1v21.1h-21.1zM752.4 3113.4h21.1v21.1h-21.1zM772.8 3113.4h21.1v21.1h-21.1zM793.3 3113.4h21.1v21.1h-21.1zM1059.2 3113.4h21.1v21.1h-21.1zM1161.5 3113.4h21.1v21.1h-21.1z"/>
<path fill="#f85840" d="M793.3 1517.8h21.1v21.1h-21.1zM1059.2 1517.8h21.1v21.1h-21.1zM1120.6 1538.2h21.1v21.1h-21.1zM1202.4 1558.7h21.1v21.1h-21.1zM588.7 1579.1h21.1v21.1h-21.1zM1243.4 1579.1h21.1v21.1h-21.1zM1243.4 1599.6h21.1v21.1h-21.1zM1038.8 1620.0h21.1v21.1h-21.1zM1059.2 1620.0h21.1v21.1h-21.1zM1222.9 1620.0h21.1v21.1h-21.1zM568.3 1681.4h21.1v21.1h-21.1zM609.2 1742.8h21.1v21.1h-21.1zM1079.7 1783.7h21.1v21.1h-21.1zM854.7 1804.2h21.1v21.1h-21.1zM1079.7 1804.2h21.1v21.1h-21.1zM997.9 1865.5h21.1v21.1h-21.1zM1018.3 1865.5h21.1v21.1h-21.1zM772.8 2315.6h21.1v21.1h-21.1zM793.3 2315.6h21.1v21.1h-21.1zM895.6 2356.5h21.1v21.1h-21.1zM691.0 2438.3h21.1v21.1h-21.1zM1038.8 2458.8h21.1v21.1h-21.1zM997.9 2479.3h21.1v21.1h-21.1zM650.1 2499.7h21.1v21.1h-21.1zM772.8 2520.2h21.1v21.1h-21.1zM650.1 2540.6h21.1v21.1h-21.1zM752.4 2540.6h21.1v21.1h-21.1zM670.6 2561.1h21.1v21.1h-21.1zM731.9 2561.1h21.1v21.1h-21.1zM854.7 2561.1h21.1v21.1h-21.1zM916.0 2561.1h21.1v21.1h-21.1zM854.7 2581.5h21.1v21.1h-21.1zM875.1 2581.5h21.1v21.1h-21.1zM895.6 2581.5h21.1v21.1h-21.1zM854.7 2602.0h21.1v21.1h-21.1zM875.1 2602.0h21.1v21.1h-21.1zM895.6 2602.0h21.1v21.1h-21.1zM854.7 2622.5h21.1v21.1h-21.1zM916.0 2642.9h21.1v21.1h-21.1zM834.2 2683.8h21.1v21.1h-21.1zM834.2 2704.3h21.1v21.1h-21.1zM834.2 2724.8h21.1v21.1h-21.1zM1570.7 2724.8h21.1v21.1h-21.1zM1591.1 2724.8h21.1v21.1h-21.1zM711.5 2745.2h21.1v21.1h-21.1zM731.9 2745.2h21.1v21.1h-21.1zM752.4 2745.2h21.1v21.1h-21.1zM813.8 2745.2h21.1v21.1h-21.1zM670.6 2765.7h21.1v21.1h-21.1zM670.6 2786.1h21.1v21.1h-21.1zM1570.7 2786.1h21.1v21.1h-21.1zM691.0 2806.6h21.1v21.1h-21.1zM711.5 2827.0h21.1v21.1h-21.1zM1427.5 2827.0h21.1v21.1h-21.1zM731.9 2847.5h21.1v21.1h-21.1zM1345.7 2868.0h21.1v21.1h-21.1zM752.4 2888.4h21.1v21.1h-21.1zM916.0 2888.4h21.1v21.1h-21.1zM1304.7 2888.4h21.1v21.1h-21.1zM772.8 2908.9h21.1v21.1h-21.1zM895.6 2908.9h21.1v21.1h-21.1zM772.8 2929.3h21.1v21.1h-21.1zM793.3 2929.3h21.1v21.1h-21.1zM813.8 2929.3h21.1v21.1h-21.1zM834.2 2929.3h21.1v21.1h-21.1zM854.7 2929.3h21.1v21.1h-21.1zM731.9 2990.7h21.1v21.1h-21.1zM752.4 2990.7h21.1v21.1h-21.1zM772.8 2990.7h21.1v21.1h-21.1zM793.3 2990.7h21.1v21.1h-21.1zM711.5 3011.2h21.1v21.1h-21.1zM813.8 3011.2h21.1v21.1h-21.1zM1079.7 3011.2h21.1v21.1h-21.1zM1100.2 3011.2h21.1v21.1h-21.1zM1325.2 3011.2h21.1v21.1h-21.1zM691.0 3031.6h21.1v21.1h-21.1zM834.2 3031.6h21.1v21.1h-21.1zM1141.1 3093.0h21.1v21.1h-21.1z"/>
<path fill="#f95244" d="M772.8 1538.2h21.1v21.1h-21.1zM629.6 1558.7h21.1v21.1h-21.1zM568.3 1599.6h21.1v21.1h-21.1zM977.4 1599.6h21.1v21.1h-21.1zM997.9 1599.6h21.1v21.1h-21.1zM1018.3 1599.6h21.1v21.1h-21.1zM568.3 1620.0h21.1v21.1h-21.1zM957.0 1620.0h21.1v21.1h-21.1zM1079.7 1620.0h21.1v21.1h-21.1zM1100.2 1620.0h21.1v21.1h-21.1zM1120.6 1620.0h21.1v21.1h-21.1zM1141.1 1620.0h21.1v21.1h-21.1zM1161.5 1620.0h21.1v21.1h-21.1zM1182.0 1620.0h21.1v21.1h-21.1zM1202.4 1620.0h21.1v21.1h-21.1zM568.3 1640.5h21.1v21.1h-21.1zM568.3 1661.0h21.1v21.1h-21.1zM588.7 1701.9h21.1v21.1h-21.1zM957.0 1742.8h21.1v21.1h-21.1zM629.6 1763.2h21.1v21.1h-21.1zM977.4 1763.2h21.1v21.1h-21.1zM997.9 1763.2h21.1v21.1h-21.1zM1018.3 1763.2h21.1v21.1h-21.1zM1038.8 1763.2h21.1v21.1h-21.1zM1059.2 1763.2h21.1v21.1h-21.1zM650.1 1783.7h21.1v21.1h-21.1zM772.8 1804.2h21.1v21.1h-21.1zM793.3 1804.2h21.1v21.1h-21.1zM813.8 1804.2h21.1v21.1h-21.1zM834.2 1804.2h21.1v21.1h-21.1zM936.5 1804.2h21.1v21.1h-21.1zM957.0 1824.6h21.1v21.1h-21.1zM854.7 2336.1h21.1v21.1h-21.1zM916.0 2377.0h21.1v21.1h-21.1zM957.0 2397.4h21.1v21.1h-21.1zM1059.2 2438.3h21.1v21.1h-21.1zM977.4 2479.3h21.1v21.1h-21.1zM793.3 2499.7h21.1v21.1h-21.1zM957.0 2499.7h21.1v21.1h-21.1zM650.1 2520.2h21.1v21.1h-21.1zM834.2 2520.2h21.1v21.1h-21.1zM691.0 2561.1h21.1v21.1h-21.1zM711.5 2561.1h21.1v21.1h-21.1zM875.1 2561.1h21.1v21.1h-21.1zM895.6 2561.1h21.1v21.1h-21.1zM875.1 2622.5h21.1v21.1h-21.1zM895.6 2622.5h21.1v21.1h-21.1zM854.7 2642.9h21.1v21.1h-21.1zM916.0 2663.4h21.1v21.1h-21.1zM834.2 2745.2h21.1v21.1h-21.1zM916.0 2745.2h21.1v21.1h-21.1zM691.0 2765.7h21.1v21.1h-21.1zM711.5 2765.7h21.1v21.1h-21.1zM772.8 2765.7h21.1v21.1h-21.1zM793.3 2765.7h21.1v21.1h-21.1zM813.8 2765.7h21.1v21.1h-21.1zM834.2 2765.7h21.1v21.1h-21.1zM916.0 2765.7h21.1v21.1h-21.1zM691.0 2786.1h21.1v21.1h-21.1zM916.0 2786.1h21.1v21.1h-21.1zM1509.3 2786.1h21.1v21.1h-21.1zM711.5 2806.6h21.1v21.1h-21.1zM916.0 2806.6h21.1v21.1h-21.1zM1550.2 2806.6h21.1v21.1h-21.1zM731.9 2827.0h21.1v21.1h-21.1zM916.0 2827.0h21.1v21.1h-21.1zM752.4 2847.5h21.1v21.1h-21.1zM916.0 2847.5h21.1v21.1h-21.1zM752.4 2868.0h21.1v21.1h-21.1zM916.0 2868.0h21.1v21.1h-21.1zM772.8 2888.4h21.1v21.1h-21.1zM793.3 2908.9h21.1v21.1h-21.1zM813.8 2908.9h21.1v21.1h-21.1zM854.7 2908.9h21.1v21.1h-21.1zM875.1 2908.9h21.1v21.1h-21.1zM1284.3 2908.9h21.1v21.1h-21.1zM1263.8 2929.3h21.1v21.1h-21.1zM1386.6 2970.2h21.1v21.1h-21.1zM1161.5 2990.7h21.1v21.1h-21.1zM1120.6 3011.2h21.1v21.1h-21.1zM1284.3 3031.6h21.1v21.1h-21.1zM1018.3 3052.1h21.1v21.1h-21.1zM1182.0 3072.5h21.1v21.1h-21.1zM1079.7 3113.4h21.1v21.1h-21.1zM1100.2 3113.4h21.1v21.1h-21.1zM1120.6 3113.4h21.1v21.1h-21.1zM1141.1 3113.4h21.1v21.1h-21.1z"/>
<path fill="#fb4c48" d="M1038.8 1517.8h21.1v21.1h-21.1zM1100.2 1538.2h21.1v21.1h-21.1zM731.9 1558.7h21.1v21.1h-21.1zM752.4 1558.7h21.1v21.1h-21.1zM1100.2 1558.7h21.1v21.1h-21.1zM1120.6 1558.7h21.1v21.1h-21.1zM1141.1 1558.7h21.1v21.1h-21.1zM1161.5 1558.7h21.1v21.1h-21.1zM1182.0 1558.7h21.1v21.1h-21.1zM1222.9 1579.1h21.1v21.1h-21.1zM957.0 1599.6h21.1v21.1h-21.1zM1038.8 1599.6h21.1v21.1h-21.1zM1059.2 1599.6h21.1v21.1h-21.1zM1100.2 1599.6h21.1v21.1h-21.1zM1120.6 1599.6h21.1v21.1h-21.1zM1222.9 1599.6h21.1v21.1h-21.1zM936.5 1661.0h21.1v21.1h-21.1zM588.7 1681.4h21.1v21.1h-21.1zM936.5 1681.4h21.1v21.1h-21.1zM609.2 1722.3h21.1v21.1h-21.1zM957.0 1763.2h21.1v21.1h-21.1zM670.6 1783.7h21.1v21.1h-21.1zM936.5 1783.7h21.1v21.1h-21.1zM957.0 1783.7h21.1v21.1h-21.1zM1059.2 1783.7h21.1v21.1h-21.1zM957.0 1804.2h21.1v21.1h-21.1zM1059.2 1824.6h21.1v21.1h-21.1zM977.4 1845.1h21.1v21.1h-21.1zM1038.8 1845.1h21.1v21.1h-21.1zM997.9 2377.0h21.1v21.1h-21.1zM1059.2 2377.0h21.1v21.1h-21.1zM936.5 2397.4h21.1v21.1h-21.1zM977.4 2397.4h21.1v21.1h-21.1zM691.0 2458.8h21.1v21.1h-21.1zM1018.3 2458.8h21.1v21.1h-21.1zM670.6 2479.3h21.1v21.1h-21.1zM772.8 2499.7h21.1v21.1h-21.1zM813.8 2499.7h21.1v21.1h-21.1zM752.4 2520.2h21.1v21.1h-21.1zM936.5 2520.2h21.1v21.1h-21.1zM731.9 2540.6h21.1v21.1h-21.1zM854.7 2540.6h21.1v21.1h-21.1zM916.0 2540.6h21.1v21.1h-21.1zM895.6 2642.9h21.1v21.1h-21.1zM854.7 2663.4h21.1v21.1h-21.1zM916.0 2683.8h21.1v21.1h-21.1zM854.7 2704.3h21.1v21.1h-21.1zM916.0 2704.3h21.1v21.1h-21.1zM854.7 2724.8h21.1v21.1h-21.1zM916.0 2724.8h21.1v21.1h-21.1zM854.7 2745.2h21.1v21.1h-21.1zM895.6 2745.2h21.1v21.1h-21.1zM1550.2 2745.2h21.1v21.1h-21.1zM1591.1 2745.2h21.1v21.1h-21.1zM731.9 2765.7h21.1v21.1h-21.1zM752.4 2765.7h21.1v21.1h-21.1zM854.7 2765.7h21.1v21.1h-21.1zM875.1 2765.7h21.1v21.1h-21.1zM895.6 2765.7h21.1v21.1h-21.1zM1529.8 2765.7h21.1v21.1h-21.1zM711.5 2786.1h21.1v21.1h-21.1zM731.9 2786.1h21.1v21.1h-21.1zM752.4 2786.1h21.1v21.1h-21.1zM772.8 2786.1h21.1v21.1h-21.1zM793.3 2786.1h21.1v21.1h-21.1zM813.8 2786.1h21.1v21.1h-21.1zM895.6 2786.1h21.1v21.1h-21.1zM731.9 2806.6h21.1v21.1h-21.1zM895.6 2806.6h21.1v21.1h-21.1zM1488.9 2806.6h21.1v21.1h-21.1zM752.4 2827.0h21.1v21.1h-21.1zM1529.8 2827.0h21.1v21.1h-21.1zM772.8 2847.5h21.1v21.1h-21.1zM1407.0 2847.5h21.1v21.1h-21.1zM772.8 2868.0h21.1v21.1h-21.1zM895.6 2868.0h21.1v21.1h-21.1zM793.3 2888.4h21.1v21.1h-21.1zM895.6 2888.4h21.1v21.1h-21.1zM834.2 2908.9h21.1v21.1h-21.1zM731.9 3011.2h21.1v21.1h-21.1zM793.3 3011.2h21.1v21.1h-21.1zM1038.8 3031.6h21.1v21.1h-21.1zM691.0 3052.1h21.1v21.1h-21.1zM834.2 3052.1h21.1v21.1h-21.1z"/>
<path fill="#fd464c" d="M813.8 1517.8h21.1v21.1h-21.1zM793.3 1538.2h21.1v21.1h-21.1zM1079.7 1538.2h21.1v21.1h-21.1zM711.5 1558.7h21.1v21.1h-21.1zM772.8 1558.7h21.1v21.1h-21.1zM1079.7 1558.7h21.1v21.1h-21.1zM977.4 1579.1h21.1v21.1h-21.1zM997.9 1579.1h21.1v21.1h-21.1zM1018.3 1579.1h21.1v21.1h-21.1zM1038.8 1579.1h21.1v21.1h-21.1zM1059.2 1579.1h21.1v21.1h-21.1zM1079.7 1579.1h21.1v21.1h-21.1zM1100.2 1579.1h21.1v21.1h-21.1zM1120.6 1579.1h21.1v21.1h-21.1zM1141.1 1579.1h21.1v21.1h-21.1zM1161.5 1579.1h21.1v21.1h-21.1zM1182.0 1579.1h21.1v21.1h-21.1zM1202.4 1579.1h21.1v21.1h-21.1zM1079.7 1599.6h21.1v21.1h-21.1zM1141.1 1599.6h21.1v21.1h-21.1zM1161.5 1599.6h21.1v21.1h-21.1zM1182.0 1599.6h21.1v21.1h-21.1zM1202.4 1599.6h21.1v21.1h-21.1zM936.5 1620.0h21.1v21.1h-21.1zM588.7 1640.5h21.1v21.1h-21.1zM936.5 1640.5h21.1v21.1h-21.1zM588.7 1661.0h21.1v21.1h-21.1zM609.2 1701.9h21.1v21.1h-21.1zM936.5 1701.9h21.1v21.1h-21.1zM936.5 1722.3h21.1v21.1h-21.1zM629.6 1742.8h21.1v21.1h-21.1zM936.5 1742.8h21.1v21.1h-21.1zM650.1 1763.2h21.1v21.1h-21.1zM936.5 1763.2h21.1v21.1h-21.1zM691.0 1783.7h21.1v21.1h-21.1zM711.5 1783.7h21.1v21.1h-21.1zM916.0 1783.7h21.1v21.1h-21.1zM977.4 1783.7h21.1v21.1h-21.1zM997.9 1783.7h21.1v21.1h-21.1zM977.4 1804.2h21.1v21.1h-21.1zM1059.2 1804.2h21.1v21.1h-21.1zM977.4 1824.6h21.1v21.1h-21.1zM997.9 1845.1h21.1v21.1h-21.1zM1018.3 1845.1h21.1v21.1h-21.1zM834.2 2336.1h21.1v21.1h-21.1zM711.5 2356.5h21.1v21.1h-21.1zM875.1 2356.5h21.1v21.1h-21.1zM895.6 2377.0h21.1v21.1h-21.1zM977.4 2458.8h21.1v21.1h-21.1zM997.9 2458.8h21.1v21.1h-21.1zM957.0 2479.3h21.1v21.1h-21.1zM670.6 2540.6h21.1v21.1h-21.1zM875.1 2540.6h21.1v21.1h-21.1zM895.6 2540.6h21.1v21.1h-21.1zM875.1 2642.9h21.1v21.1h-21.1zM854.7 2683.8h21.1v21.1h-21.1zM875.1 2724.8h21.1v21.1h-21.1zM895.6 2724.8h21.1v21.1h-21.1zM875.1 2745.2h21.1v21.1h-21.1zM834.2 2786.1h21.1v21.1h-21.1zM854.7 2786.1h21.1v21.1h-21.1zM875.1 2786.1h21.1v21.1h-21.1zM752.4 2806.6h21.1v21.1h-21.1zM772.8 2806.6h21.1v21.1h-21.1zM793.3 2806.6h21.1v21.1h-21.1zM813.8 2806.6h21.1v21.1h-21.1zM875.1 2806.6h21.1v21.1h-21.1zM1509.3 2806.6h21.1v21.1h-21.1zM772.8 2827.0h21.1v21.1h-21.1zM793.3 2827.0h21.1v21.1h-21.1zM895.6 2827.0h21.1v21.1h-21.1zM1447.9 2827.0h21.1v21.1h-21.1zM793.3 2847.5h21.1v21.1h-21.1zM895.6 2847.5h21.1v21.1h-21.1zM793.3 2868.0h21.1v21.1h-21.1zM1366.1 2868.0h21.1v21.1h-21.1zM813.8 2888.4h21.1v21.1h-21.1zM834.2 2888.4h21.1v21.1h-21.1zM854.7 2888.4h21.1v21.1h-21.1zM875.1 2888.4h21.1v21.1h-21.1zM1202.4 2970.2h21.1v21.1h-21.1zM752.4 3011.2h21.1v21.1h-21.1zM772.8 3011.2h21.1v21.1h-21.1zM711.5 3031.6h21.1v21.1h-21.1zM813.8 3031.6h21.1v21.1h-21.1zM1018.3 3072.5h21.1v21.1h-21.1zM752.4 3093.0h21.1v21.1h-21.1zM834.2 3093.0h21.1v21.1h-21.1zM1018.3 3093.0h21.1v21.1h-21.1zM1120.6 3093.0h21.1v21.1h-21.1z"/>
<path fill="#ff4050" d="M1018.3 1517.8h21.1v21.1h-21.1zM1038.8 1538.2h21.1v21.1h-21.1zM1059.2 1538.2h21.1v21.1h-21.1zM650.1 1558.7h21.1v21.1h-21.1zM691.0 1558.7h21.1v21.1h-21.1zM977.4 1558.7h21.1v21.1h-21.1zM997.9 1558.7h21.1v21.1h-21.1zM1018.3 1558.7h21.1v21.1h-21.1zM1038.8 1558.7h21.1v21.1h-21.1zM1059.2 1558.7h21.1v21.1h-21.1zM609.2 1579.1h21.1v21.1h-21.1zM957.0 1579.1h21.1v21.1h-21.1zM588.7 1599.6h21.1v21.1h-21.1zM936.5 1599.6h21.1v21.1h-21.1zM588.7 1620.0h21.1v21.1h-21.1zM609.2 1681.4h21.1v21.1h-21.1zM629.6 1722.3h21.1v21.1h-21.1zM731.9 1783.7h21.1v21.1h-21.1zM895.6 1783.7h21.1v21.1h-21.1zM1018.3 1783.7h21.1v21.1h-21.1zM1038.8 1783.7h21.1v21.1h-21.1zM1038.8 1824.6h21.1v21.1h-21.1zM731.9 2336.1h21.1v21.1h-21.1zM813.8 2336.1h21.1v21.1h-21.1zM1018.3 2377.0h21.1v21.1h-21.1zM1038.8 2377.0h21.1v21.1h-21.1zM916.0 2397.4h21.1v21.1h-21.1zM1059.2 2397.4h21.1v21.1h-21.1zM711.5 2417.9h21.1v21.1h-21.1zM957.0 2417.9h21.1v21.1h-21.1zM977.4 2417.9h21.1v21.1h-21.1zM1059.2 2417.9h21.1v21.1h-21.1zM711.5 2438.3h21.1v21.1h-21.1zM977.4 2438.3h21.1v21.1h-21.1zM1038.8 2438.3h21.1v21.1h-21.1zM670.6 2499.7h21.1v21.1h-21.1zM752.4 2499.7h21.1v21.1h-21.1zM834.2 2499.7h21.1v21.1h-21.1zM936.5 2499.7h21.1v21.1h-21.1zM670.6 2520.2h21.1v21.1h-21.1zM731.9 2520.2h21.1v21.1h-21.1zM854.7 2520.2h21.1v21.1h-21.1zM916.0 2520.2h21.1v21.1h-21.1zM691.0 2540.6h21.1v21.1h-21.1zM711.5 2540.6h21.1v21.1h-21.1zM875.1 2663.4h21.1v21.1h-21.1zM895.6 2663.4h21.1v21.1h-21.1zM875.1 2683.8h21.1v21.1h-21.1zM895.6 2683.8h21.1v21.1h-21.1zM875.1 2704.3h21.1v21.1h-21.1zM895.6 2704.3h21.1v21.1h-21.1zM1529.8 2786.1h21.1v21.1h-21.1zM834.2 2806.6h21.1v21.1h-21.1zM854.7 2806.6h21.1v21.1h-21.1zM813.8 2827.0h21.1v21.1h-21.1zM834.2 2827.0h21.1v21.1h-21.1zM854.7 2827.0h21.1v21.1h-21.1zM875.1 2827.0h21.1v21.1h-21.1zM813.8 2847.5h21.1v21.1h-21.1zM834.2 2847.5h21.1v21.1h-21.1zM875.1 2847.5h21.1v21.1h-21.1zM1509.3 2847.5h21.1v21.1h-21.1zM813.8 2868.0h21.1v21.1h-21.1zM834.2 2868.0h21.1v21.1h-21.1zM854.7 2868.0h21.1v21.1h-21.1zM875.1 2868.0h21.1v21.1h-21.1zM1325.2 2888.4h21.1v21.1h-21.1zM1243.4 2949.8h21.1v21.1h-21.1zM1407.0 2949.8h21.1v21.1h-21.1zM1345.7 2990.7h21.1v21.1h-21.1zM1141.1 3011.2h21.1v21.1h-21.1zM1059.2 3031.6h21.1v21.1h-21.1zM1222.9 3052.1h21.1v21.1h-21.1zM711.5 3072.5h21.1v21.1h-21.1zM834.2 3072.5h21.1v21.1h-21.1z"/>
<path fill="#ff3c54" d="M834.2 1517.8h21.1v21.1h-21.1zM997.9 1517.8h21.1v21.1h-21.1zM813.8 1538.2h21.1v21.1h-21.1zM997.9 1538.2h21.1v21.1h-21.1zM1018.3 1538.2h21.1v21.1h-21.1zM793.3 1558.7h21.1v21.1h-21.1zM957.0 1558.7h21.1v21.1h-21.1zM936.5 1579.1h21.1v21.1h-21.1zM609.2 1620.0h21.1v21.1h-21.1zM609.2 1640.5h21.1v21.1h-21.1zM609.2 1661.0h21.1v21.1h-21.1zM629.6 1701.9h21.1v21.1h-21.1zM650.1 1742.8h21.1v21.1h-21.1zM670.6 1763.2h21.1v21.1h-21.1zM997.9 1804.2h21.1v21.1h-21.1zM1018.3 1804.2h21.1v21.1h-21.1zM1038.8 1804.2h21.1v21.1h-21.1zM997.9 1824.6h21.1v21.1h-21.1zM1018.3 1824.6h21.1v21.1h-21.1zM854.7 2356.5h21.1v21.1h-21.1zM711.5 2377.0h21.1v21.1h-21.1zM711.5 2397.4h21.1v21.1h-21.1zM997.9 2397.4h21.1v21.1h-21.1zM936.5 2417.9h21.1v21.1h-21.1zM957.0 2438.3h21.1v21.1h-21.1zM997.9 2438.3h21.1v21.1h-21.1zM1018.3 2438.3h21.1v21.1h-21.1zM711.5 2458.8h21.1v21.1h-21.1zM957.0 2458.8h21.1v21.1h-21.1zM691.0 2479.3h21.1v21.1h-21.1zM772.8 2479.3h21.1v21.1h-21.1zM793.3 2479.3h21.1v21.1h-21.1zM813.8 2479.3h21.1v21.1h-21.1zM731.9 2499.7h21.1v21.1h-21.1zM1570.7 2745.2h21.1v21.1h-21.1zM1550.2 2765.7h21.1v21.1h-21.1zM1529.8 2806.6h21.1v21.1h-21.1zM1468.4 2827.0h21.1v21.1h-21.1zM1509.3 2827.0h21.1v21.1h-21.1zM854.7 2847.5h21.1v21.1h-21.1zM1427.5 2847.5h21.1v21.1h-21.1zM1427.5 2929.3h21.1v21.1h-21.1zM1182.0 2990.7h21.1v21.1h-21.1zM731.9 3031.6h21.1v21.1h-21.1zM711.5 3052.1h21.1v21.1h-21.1z"/>
<path fill="#ff3858" d="M854.7 1517.8h21.1v21.1h-21.1zM957.0 1517.8h21.1v21.1h-21.1zM977.4 1517.8h21.1v21.1h-21.1zM957.0 1538.2h21.1v21.1h-21.1zM977.4 1538.2h21.1v21.1h-21.1zM670.6 1558.7h21.1v21.1h-21.1zM813.8 1558.7h21.1v21.1h-21.1zM936.5 1558.7h21.1v21.1h-21.1zM711.5 1579.1h21.1v21.1h-21.1zM731.9 1579.1h21.1v21.1h-21.1zM752.4 1579.1h21.1v21.1h-21.1zM772.8 1579.1h21.1v21.1h-21.1zM609.2 1599.6h21.1v21.1h-21.1zM916.0 1640.5h21.1v21.1h-21.1zM629.6 1661.0h21.1v21.1h-21.1zM629.6 1681.4h21.1v21.1h-21.1zM650.1 1722.3h21.1v21.1h-21.1zM691.0 1763.2h21.1v21.1h-21.1zM916.0 1763.2h21.1v21.1h-21.1zM752.4 1783.7h21.1v21.1h-21.1zM875.1 1783.7h21.1v21.1h-21.1zM752.4 2336.1h21.1v21.1h-21.1zM793.3 2336.1h21.1v21.1h-21.1zM875.1 2377.0h21.1v21.1h-21.1zM895.6 2397.4h21.1v21.1h-21.1zM916.0 2417.9h21.1v21.1h-21.1zM997.9 2417.9h21.1v21.1h-21.1zM936.5 2438.3h21.1v21.1h-21.1zM936.5 2458.8h21.1v21.1h-21.1zM711.5 2479.3h21.1v21.1h-21.1zM731.9 2479.3h21.1v21.1h-21.1zM752.4 2479.3h21.1v21.1h-21.1zM936.5 2479.3h21.1v21.1h-21.1zM691.0 2499.7h21.1v21.1h-21.1zM711.5 2499.7h21.1v21.1h-21.1zM854.7 2499.7h21.1v21.1h-21.1zM691.0 2520.2h21.1v21.1h-21.1zM711.5 2520.2h21.1v21.1h-21.1zM875.1 2520.2h21.1v21.1h-21.1zM895.6 2520.2h21.1v21.1h-21.1zM1570.7 2765.7h21.1v21.1h-21.1zM1550.2 2786.1h21.1v21.1h-21.1zM1488.9 2827.0h21.1v21.1h-21.1zM1386.6 2868.0h21.1v21.1h-21.1zM1488.9 2868.0h21.1v21.1h-21.1zM1468.4 2888.4h21.1v21.1h-21.1zM1447.9 2908.9h21.1v21.1h-21.1zM752.4 3031.6h21.1v21.1h-21.1zM793.3 3031.6h21.1v21.1h-21.1zM1079.7 3031.6h21.1v21.1h-21.1zM813.8 3052.1h21.1v21.1h-21.1zM1038.8 3052.1h21.1v21.1h-21.1zM772.8 3093.0h21.1v21.1h-21.1zM1100.2 3093.0h21.1v21.1h-21.1z"/>
<path fill="#ff345c" d="M875.1 1517.8h21.1v21.1h-21.1zM916.0 1517.8h21.1v21.1h-21.1zM936.5 1517.8h21.1v21.1h-21.1zM834.2 1538.2h21.1v21.1h-21.1zM916.0 1538.2h21.1v21.1h-21.1zM936.5 1538.2h21.1v21.1h-21.1zM916.0 1558.7h21.1v21.1h-21.1zM629.6 1579.1h21.1v21.1h-21.1zM691.0 1579.1h21.1v21.1h-21.1zM793.3 1579.1h21.1v21.1h-21.1zM916.0 1579.1h21.1v21.1h-21.1zM629.6 1599.6h21.1v21.1h-21.1zM916.0 1599.6h21.1v21.1h-21.1zM629.6 1620.0h21.1v21.1h-21.1zM916.0 1620.0h21.1v21.1h-21.1zM629.6 1640.5h21.1v21.1h-21.1zM916.0 1661.0h21.1v21.1h-21.1zM916.0 1681.4h21.1v21.1h-21.1zM650.1 1701.9h21.1v21.1h-21.1zM916.0 1701.9h21.1v21.1h-21.1zM916.0 1722.3h21.1v21.1h-21.1zM670.6 1742.8h21.1v21.1h-21.1zM916.0 1742.8h21.1v21.1h-21.1zM711.5 1763.2h21.1v21.1h-21.1zM772.8 1783.7h21.1v21.1h-21.1zM854.7 1783.7h21.1v21.1h-21.1zM772.8 2336.1h21.1v21.1h-21.1zM834.2 2356.5h21.1v21.1h-21.1zM1038.8 2417.9h21.1v21.1h-21.1zM731.9 2458.8h21.1v21.1h-21.1zM834.2 2479.3h21.1v21.1h-21.1zM916.0 2499.7h21.1v21.1h-21.1zM1304.7 2908.9h21.1v21.1h-21.1zM1284.3 2929.3h21.1v21.1h-21.1zM1222.9 2970.2h21.1v21.1h-21.1zM1161.5 3011.2h21.1v21.1h-21.1zM772.8 3031.6h21.1v21.1h-21.1zM1100.2 3031.6h21.1v21.1h-21.1zM1161.5 3072.5h21.1v21.1h-21.1zM813.8 3093.0h21.1v21.1h-21.1zM1038.8 3093.0h21.1v21.1h-21.1z"/>
<path fill="#ff3060" d="M895.6 1517.8h21.1v21.1h-21.1zM854.7 1538.2h21.1v21.1h-21.1zM875.1 1538.2h21.1v21.1h-21.1zM895.6 1538.2h21.1v21.1h-21.1zM834.2 1558.7h21.1v21.1h-21.1zM854.7 1558.7h21.1v21.1h-21.1zM895.6 1558.7h21.1v21.1h-21.1zM650.1 1579.1h21.1v21.1h-21.1zM670.6 1579.1h21.1v21.1h-21.1zM813.8 1579.1h21.1v21.1h-21.1zM895.6 1579.1h21.1v21.1h-21.1zM650.1 1599.6h21.1v21.1h-21.1zM650.1 1661.0h21.1v21.1h-21.1zM650.1 1681.4h21.1v21.1h-21.1zM670.6 1722.3h21.1v21.1h-21.1zM691.0 1742.8h21.1v21.1h-21.1zM895.6 1763.2h21.1v21.1h-21.1zM793.3 1783.7h21.1v21.1h-21.1zM813.8 1783.7h21.1v21.1h-21.1zM834.2 1783.7h21.1v21.1h-21.1zM731.9 2356.5h21.1v21.1h-21.1zM854.7 2377.0h21.1v21.1h-21.1zM875.1 2397.4h21.1v21.1h-21.1zM1018.3 2397.4h21.1v21.1h-21.1zM1038.8 2397.4h21.1v21.1h-21.1zM895.6 2417.9h21.1v21.1h-21.1zM1018.3 2417.9h21.1v21.1h-21.1zM731.9 2438.3h21.1v21.1h-21.1zM916.0 2438.3h21.1v21.1h-21.1zM752.4 2458.8h21.1v21.1h-21.1zM772.8 2458.8h21.1v21.1h-21.1zM916.0 2458.8h21.1v21.1h-21.1zM916.0 2479.3h21.1v21.1h-21.1zM875.1 2499.7h21.1v21.1h-21.1zM895.6 2499.7h21.1v21.1h-21.1zM1447.9 2847.5h21.1v21.1h-21.1zM1468.4 2847.5h21.1v21.1h-21.1zM1488.9 2847.5h21.1v21.1h-21.1zM1407.0 2868.0h21.1v21.1h-21.1zM1345.7 2888.4h21.1v21.1h-21.1zM1304.7 3011.2h21.1v21.1h-21.1zM1120.6 3031.6h21.1v21.1h-21.1zM1263.8 3031.6h21.1v21.1h-21.1zM731.9 3052.1h21.1v21.1h-21.1zM793.3 3093.0h21.1v21.1h-21.1z"/>
<path fill="#ff2c64" d="M875.1 1558.7h21.1v21.1h-21.1zM834.2 1579.1h21.1v21.1h-21.1zM854.7 1579.1h21.1v21.1h-21.1zM875.1 1579.1h21.1v21.1h-21.1zM670.6 1599.6h21.1v21.1h-21.1zM772.8 1599.6h21.1v21.1h-21.1zM793.3 1599.6h21.1v21.1h-21.1zM895.6 1599.6h21.1v21.1h-21.1zM650.1 1620.0h21.1v21.1h-21.1zM895.6 1620.0h21.1v21.1h-21.1zM650.1 1640.5h21.1v21.1h-21.1zM670.6 1681.4h21.1v21.1h-21.1zM670.6 1701.9h21.1v21.1h-21.1zM731.9 1763.2h21.1v21.1h-21.1zM813.8 2356.5h21.1v21.1h-21.1zM731.9 2417.9h21.1v21.1h-21.1zM793.3 2458.8h21.1v21.1h-21.1zM813.8 2458.8h21.1v21.1h-21.1zM854.7 2479.3h21.1v21.1h-21.1zM895.6 2479.3h21.1v21.1h-21.1zM1427.5 2868.0h21.1v21.1h-21.1zM1263.8 2949.8h21.1v21.1h-21.1zM1141.1 3031.6h21.1v21.1h-21.1zM793.3 3052.1h21.1v21.1h-21.1zM1059.2 3052.1h21.1v21.1h-21.1zM1202.4 3052.1h21.1v21.1h-21.1zM731.9 3072.5h21.1v21.1h-21.1zM813.8 3072.5h21.1v21.1h-21.1zM1038.8 3072.5h21.1v21.1h-21.1zM1059.2 3093.0h21.1v21.1h-21.1zM1079.7 3093.0h21.1v21.1h-21.1z"/>
<path fill="#ff2868" d="M691.0 1599.6h21.1v21.1h-21.1zM711.5 1599.6h21.1v21.1h-21.1zM731.9 1599.6h21.1v21.1h-21.1zM752.4 1599.6h21.1v21.1h-21.1zM813.8 1599.6h21.1v21.1h-21.1zM834.2 1599.6h21.1v21.1h-21.1zM875.1 1599.6h21.1v21.1h-21.1zM670.6 1620.0h21.1v21.1h-21.1zM670.6 1640.5h21.1v21.1h-21.1zM895.6 1640.5h21.1v21.1h-21.1zM670.6 1661.0h21.1v21.1h-21.1zM895.6 1661.0h21.1v21.1h-21.1zM691.0 1701.9h21.1v21.1h-21.1zM691.0 1722.3h21.1v21.1h-21.1zM711.5 1742.8h21.1v21.1h-21.1zM895.6 1742.8h21.1v21.1h-21.1zM752.4 1763.2h21.1v21.1h-21.1zM875.1 1763.2h21.1v21.1h-21.1zM793.3 2356.5h21.1v21.1h-21.1zM731.9 2377.0h21.1v21.1h-21.1zM834.2 2377.0h21.1v21.1h-21.1zM731.9 2397.4h21.1v21.1h-21.1zM875.1 2417.9h21.1v21.1h-21.1zM752.4 2438.3h21.1v21.1h-21.1zM895.6 2438.3h21.1v21.1h-21.1zM834.2 2458.8h21.1v21.1h-21.1zM895.6 2458.8h21.1v21.1h-21.1zM875.1 2479.3h21.1v21.1h-21.1zM1447.9 2868.0h21.1v21.1h-21.1zM1468.4 2868.0h21.1v21.1h-21.1zM1366.1 2970.2h21.1v21.1h-21.1zM1202.4 2990.7h21.1v21.1h-21.1zM1182.0 3011.2h21.1v21.1h-21.1zM752.4 3052.1h21.1v21.1h-21.1zM772.8 3052.1h21.1v21.1h-21.1z"/>
<path fill="#ff246c" d="M854.7 1599.6h21.1v21.1h-21.1zM691.0 1620.0h21.1v21.1h-21.1zM875.1 1620.0h21.1v21.1h-21.1zM691.0 1681.4h21.1v21.1h-21.1zM895.6 1681.4h21.1v21.1h-21.1zM895.6 1701.9h21.1v21.1h-21.1zM711.5 1722.3h21.1v21.1h-21.1zM895.6 1722.3h21.1v21.1h-21.1zM752.4 2356.5h21.1v21.1h-21.1zM772.8 2356.5h21.1v21.1h-21.1zM854.7 2397.4h21.1v21.1h-21.1zM772.8 2438.3h21.1v21.1h-21.1zM875.1 2438.3h21.1v21.1h-21.1zM854.7 2458.8h21.1v21.1h-21.1zM875.1 2458.8h21.1v21.1h-21.1zM1366.1 2888.4h21.1v21.1h-21.1zM1447.9 2888.4h21.1v21.1h-21.1zM1243.4 2970.2h21.1v21.1h-21.1zM1161.5 3031.6h21.1v21.1h-21.1z"/>
<path fill="#ff2070" d="M711.5 1620.0h21.1v21.1h-21.1zM752.4 1620.0h21.1v21.1h-21.1zM772.8 1620.0h21.1v21.1h-21.1zM793.3 1620.0h21.1v21.1h-21.1zM813.8 1620.0h21.1v21.1h-21.1zM834.2 1620.0h21.1v21.1h-21.1zM854.7 1620.0h21.1v21.1h-21.1zM691.0 1640.5h21.1v21.1h-21.1zM875.1 1640.5h21.1v21.1h-21.1zM691.0 1661.0h21.1v21.1h-21.1zM711.5 1701.9h21.1v21.1h-21.1zM731.9 1742.8h21.1v21.1h-21.1zM772.8 1763.2h21.1v21.1h-21.1zM854.7 1763.2h21.1v21.1h-21.1zM813.8 2377.0h21.1v21.1h-21.1zM752.4 2417.9h21.1v21.1h-21.1zM854.7 2417.9h21.1v21.1h-21.1zM793.3 2438.3h21.1v21.1h-21.1zM813.8 2438.3h21.1v21.1h-21.1zM834.2 2438.3h21.1v21.1h-21.1zM854.7 2438.3h21.1v21.1h-21.1zM1386.6 2888.4h21.1v21.1h-21.1zM1407.0 2888.4h21.1v21.1h-21.1zM1427.5 2888.4h21.1v21.1h-21.1zM1325.2 2908.9h21.1v21.1h-21.1zM1427.5 2908.9h21.1v21.1h-21.1zM1079.7 3052.1h21.1v21.1h-21.1z"/>
<path fill="#fb1e79" d="M731.9 1620.0h21.1v21.1h-21.1zM711.5 1640.5h21.1v21.1h-21.1zM711.5 1661.0h21.1v21.1h-21.1zM875.1 1661.0h21.1v21.1h-21.1zM711.5 1681.4h21.1v21.1h-21.1zM731.9 1722.3h21.1v21.1h-21.1zM875.1 1742.8h21.1v21.1h-21.1zM793.3 1763.2h21.1v21.1h-21.1zM834.2 1763.2h21.1v21.1h-21.1zM752.4 2377.0h21.1v21.1h-21.1zM752.4 2397.4h21.1v21.1h-21.1zM834.2 2397.4h21.1v21.1h-21.1zM834.2 2417.9h21.1v21.1h-21.1zM1304.7 2929.3h21.1v21.1h-21.1zM1284.3 2949.8h21.1v21.1h-21.1zM1182.0 3031.6h21.1v21.1h-21.1zM1182.0 3052.1h21.1v21.1h-21.1zM752.4 3072.5h21.1v21.1h-21.1zM793.3 3072.5h21.1v21.1h-21.1zM1141.1 3072.5h21.1v21.1h-21.1z"/>
<path fill="#f71c82" d="M731.9 1640.5h21.1v21.1h-21.1zM752.4 1640.5h21.1v21.1h-21.1zM772.8 1640.5h21.1v21.1h-21.1zM793.3 1640.5h21.1v21.1h-21.1zM813.8 1640.5h21.1v21.1h-21.1zM834.2 1640.5h21.1v21.1h-21.1zM854.7 1640.5h21.1v21.1h-21.1zM875.1 1681.4h21.1v21.1h-21.1zM731.9 1701.9h21.1v21.1h-21.1zM752.4 1742.8h21.1v21.1h-21.1zM813.8 1763.2h21.1v21.1h-21.1zM772.8 2377.0h21.1v21.1h-21.1zM793.3 2377.0h21.1v21.1h-21.1zM813.8 2397.4h21.1v21.1h-21.1zM772.8 2417.9h21.1v21.1h-21.1zM793.3 2417.9h21.1v21.1h-21.1zM813.8 2417.9h21.1v21.1h-21.1zM1386.6 2949.8h21.1v21.1h-21.1zM1222.9 2990.7h21.1v21.1h-21.1zM1325.2 2990.7h21.1v21.1h-21.1zM1202.4 3011.2h21.1v21.1h-21.1zM1100.2 3052.1h21.1v21.1h-21.1zM1161.5 3052.1h21.1v21.1h-21.1zM772.8 3072.5h21.1v21.1h-21.1zM1059.2 3072.5h21.1v21.1h-21.1z"/>
<path fill="#f31a8b" d="M731.9 1661.0h21.1v21.1h-21.1zM854.7 1661.0h21.1v21.1h-21.1zM731.9 1681.4h21.1v21.1h-21.1zM875.1 1701.9h21.1v21.1h-21.1zM752.4 1722.3h21.1v21.1h-21.1zM875.1 1722.3h21.1v21.1h-21.1zM772.8 1742.8h21.1v21.1h-21.1zM772.8 2397.4h21.1v21.1h-21.1zM793.3 2397.4h21.1v21.1h-21.1zM1345.7 2908.9h21.1v21.1h-21.1zM1407.0 2908.9h21.1v21.1h-21.1zM1407.0 2929.3h21.1v21.1h-21.1zM1263.8 2970.2h21.1v21.1h-21.1zM1202.4 3031.6h21.1v21.1h-21.1zM1243.4 3031.6h21.1v21.1h-21.1zM1120.6 3052.1h21.1v21.1h-21.1zM1141.1 3052.1h21.1v21.1h-21.1z"/>
<path fill="#f01894" d="M752.4 1661.0h21.1v21.1h-21.1zM772.8 1661.0h21.1v21.1h-21.1zM793.3 1661.0h21.1v21.1h-21.1zM813.8 1661.0h21.1v21.1h-21.1zM834.2 1661.0h21.1v21.1h-21.1zM752.4 1681.4h21.1v21.1h-21.1zM752.4 1701.9h21.1v21.1h-21.1zM854.7 1742.8h21.1v21.1h-21.1zM1386.6 2908.9h21.1v21.1h-21.1zM1325.2 2929.3h21.1v21.1h-21.1zM1304.7 2949.8h21.1v21.1h-21.1zM1222.9 3031.6h21.1v21.1h-21.1z"/>
<path fill="#ec169d" d="M772.8 1681.4h21.1v21.1h-21.1zM854.7 1681.4h21.1v21.1h-21.1zM854.7 1701.9h21.1v21.1h-21.1zM772.8 1722.3h21.1v21.1h-21.1zM854.7 1722.3h21.1v21.1h-21.1zM793.3 1742.8h21.1v21.1h-21.1zM813.8 1742.8h21.1v21.1h-21.1zM834.2 1742.8h21.1v21.1h-21.1zM1366.1 2908.9h21.1v21.1h-21.1zM1284.3 2970.2h21.1v21.1h-21.1zM1345.7 2970.2h21.1v21.1h-21.1zM1243.4 2990.7h21.1v21.1h-21.1zM1222.9 3011.2h21.1v21.1h-21.1zM1284.3 3011.2h21.1v21.1h-21.1zM1079.7 3072.5h21.1v21.1h-21.1z"/>
<path fill="#e814a6" d="M793.3 1681.4h21.1v21.1h-21.1zM813.8 1681.4h21.1v21.1h-21.1zM834.2 1681.4h21.1v21.1h-21.1zM772.8 1701.9h21.1v21.1h-21.1zM793.3 1722.3h21.1v21.1h-21.1zM1386.6 2929.3h21.1v21.1h-21.1zM1325.2 2949.8h21.1v21.1h-21.1zM1366.1 2949.8h21.1v21.1h-21.1zM1304.7 2970.2h21.1v21.1h-21.1zM1325.2 2970.2h21.1v21.1h-21.1zM1120.6 3072.5h21.1v21.1h-21.1z"/>
<path fill="#e412af" d="M793.3 1701.9h21.1v21.1h-21.1zM813.8 1701.9h21.1v21.1h-21.1zM834.2 1701.9h21.1v21.1h-21.1zM813.8 1722.3h21.1v21.1h-21.1zM834.2 1722.3h21.1v21.1h-21.1zM1345.7 2929.3h21.1v21.1h-21.1zM1366.1 2929.3h21.1v21.1h-21.1zM1345.7 2949.8h21.1v21.1h-21.1zM1263.8 2990.7h21.1v21.1h-21.1zM1284.3 2990.7h21.1v21.1h-21.1zM1304.7 2990.7h21.1v21.1h-21.1zM1243.4 3011.2h21.1v21.1h-21.1zM1100.2 3072.5h21.1v21.1h-21.1z"/>
<path fill="#e010b8" d="M1263.8 3011.2h21.1v21.1h-21.1z"/>
</g>
<path d="M288.4 2101.8C295.2 2102.1 305.9 2103.7 312.4 2107.4C318.9 2111.1 322.9 2116.6 327.2 2124.0C331.5 2131.4 335.4 2139.7 338.3 2151.7C341.2 2163.7 344.5 2183.8 344.8 2196.1C345.1 2208.4 344.7 2217.0 340.2 2225.6C335.7 2234.2 327.2 2241.3 318.0 2247.8C308.8 2254.3 294.2 2260.6 284.7 2264.4C275.1 2268.2 266.8 2271.8 260.7 2270.9C254.5 2270.0 251.2 2265.8 247.8 2258.9C244.4 2252.0 242.2 2241.9 240.4 2229.3C238.6 2216.7 236.1 2196.7 236.7 2183.1C237.3 2169.5 240.7 2158.8 244.1 2148.0C247.5 2137.2 252.4 2125.6 257.0 2118.5C261.6 2111.4 266.6 2108.3 271.8 2105.5C277.0 2102.7 281.6 2101.5 288.4 2101.8z" fill="#000"/>
<path d="M1629.3 2204.5C1637.9 2203.0 1647.8 2204.1 1657.0 2207.3C1666.2 2210.5 1676.1 2217.1 1684.7 2223.9C1693.3 2230.7 1701.7 2238.7 1708.8 2247.9C1715.9 2257.1 1722.8 2268.5 1727.2 2279.3C1731.7 2290.1 1734.9 2300.9 1735.5 2312.6C1736.1 2324.3 1734.8 2337.8 1730.9 2349.5C1727.1 2361.2 1720.1 2373.9 1712.4 2382.8C1704.7 2391.7 1693.9 2398.2 1684.7 2403.1C1675.5 2408.0 1665.0 2412.0 1657.0 2412.3C1649.0 2412.6 1642.5 2410.1 1636.7 2404.9C1630.9 2399.7 1627.4 2390.1 1621.9 2380.9C1616.4 2371.7 1609.7 2359.7 1603.5 2349.5C1597.3 2339.3 1589.9 2329.2 1585.0 2320.0C1580.1 2310.8 1575.8 2302.7 1573.9 2294.1C1572.1 2285.5 1572.1 2277.4 1573.9 2268.2C1575.8 2259.0 1579.8 2247.3 1585.0 2238.7C1590.2 2230.1 1597.9 2222.2 1605.3 2216.5C1612.7 2210.8 1620.7 2206.0 1629.3 2204.5z" fill="#000"/>
</g>
<rect x="156.8" y="1558.7" width="960.4" height="56.5" fill="#cfd0d6" fill-opacity="0.78"/>
<text x="167" y="1603.5" font-family="Liberation Serif, serif" font-size="50" fill="#15152a" stroke="#15152a" stroke-width="1.1" textLength="947" lengthAdjust="spacingAndGlyphs">SURFACE AVERAGE.wft Strehl: 0.930 CC:-0.970</text>
<defs><linearGradient id="lg" x1="0" y1="0" x2="0" y2="1">
<stop offset="-0.0018" stop-color="#b800d8"/>
<stop offset="0.0816" stop-color="#e010b8"/>
<stop offset="0.1649" stop-color="#ff2070"/>
<stop offset="0.2483" stop-color="#ff4050"/>
<stop offset="0.3316" stop-color="#f07030"/>
<stop offset="0.4150" stop-color="#d0a020"/>
<stop offset="0.4983" stop-color="#a0c820"/>
<stop offset="0.5817" stop-color="#70d830"/>
<stop offset="0.6650" stop-color="#40e068"/>
<stop offset="0.7484" stop-color="#20c8a0"/>
<stop offset="0.8317" stop-color="#2098d0"/>
<stop offset="0.9151" stop-color="#3868f0"/>
<stop offset="0.9984" stop-color="#5038f0"/>
</linearGradient></defs>
<rect x="1796.2" y="1706.0" width="125.59999999999991" height="1226.6" fill="url(#lg)"/>
<g stroke="#1a0a1a" stroke-width="4" fill="none">
<path d="M1796.2 1806.0H1921.8"/>
<path d="M1796.2 1908.3H1921.8"/>
<path d="M1796.2 2010.5H1921.8"/>
<path d="M1796.2 2112.8H1921.8"/>
<path d="M1796.2 2215.0H1921.8"/>
<path d="M1796.2 2317.2H1921.8"/>
<path d="M1796.2 2419.5H1921.8"/>
<path d="M1796.2 2521.7H1921.8"/>
<path d="M1796.2 2624.0H1921.8"/>
<path d="M1796.2 2726.2H1921.8"/>
<path d="M1796.2 2828.4H1921.8"/>
<path d="M1796.2 2930.7H1921.8"/>
</g>
<g font-family="Liberation Serif, serif" font-weight="bold" font-size="67" fill="#000" stroke="#000" stroke-width="1.2" word-spacing="4">
<text transform="translate(1929.5 1720.7) scale(0.975 1)">0.208 1/4.8</text>
<text transform="translate(1929.5 1822.9) scale(0.975 1)">0.191 1/5.2</text>
<text transform="translate(1929.5 1925.2) scale(0.975 1)">0.173 1/5.8</text>
<text transform="translate(1929.5 2027.4) scale(0.975 1)">0.156 1/6.4</text>
<text transform="translate(1929.5 2129.7) scale(0.975 1)">0.139 1/7.2</text>
<text transform="translate(1929.5 2231.9) scale(0.975 1)">0.121 1/8.2</text>
<text transform="translate(1929.5 2334.1) scale(0.975 1)">0.104 1/9.6</text>
<text transform="translate(1929.5 2436.4) scale(0.975 1)">0.087 1/11.5</text>
<text transform="translate(1929.5 2538.6) scale(0.975 1)">0.069 1/14.4</text>
<text transform="translate(1929.5 2640.9) scale(0.975 1)">0.052 1/19.2</text>
<text transform="translate(1929.5 2743.1) scale(0.975 1)">0.035 1/28.8</text>
<text transform="translate(1929.5 2845.3) scale(0.975 1)">0.017 1/57.7</text>
<text transform="translate(1929.5 2947.6) scale(0.975 1)">0.000</text>
</g>
</svg>
</body></html>
